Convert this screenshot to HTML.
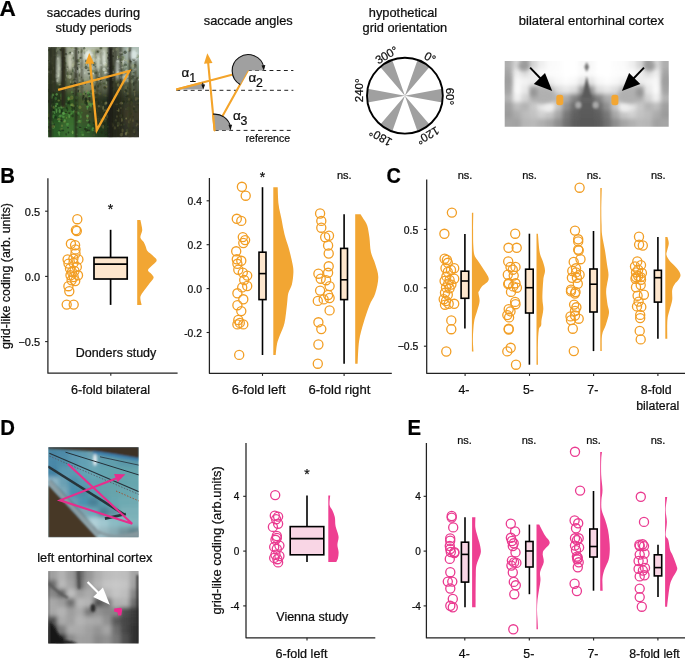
<!DOCTYPE html>
<html><head><meta charset="utf-8"><title>figure</title>
<style>
html,body{margin:0;padding:0;background:#fff;width:685px;height:658px;overflow:hidden;}
svg{display:block;}
svg text{font-family:"Liberation Sans",sans-serif;stroke:#000;stroke-width:0.22px;}
svg{will-change:transform;}
</style></head><body>
<svg width="685" height="658" viewBox="0 0 685 658">
<text transform="translate(-0.6,15.5) scale(1.0,1)" font-size="22.6" font-weight="bold" fill="#000">A</text>
<text transform="translate(0.2,182.9) scale(0.95,1)" font-size="21.4" font-weight="bold" fill="#000">B</text>
<text transform="translate(386.6,182.9) scale(0.93,1)" font-size="21.4" font-weight="bold" fill="#000">C</text>
<text transform="translate(0.2,435.1) scale(0.95,1)" font-size="21.4" font-weight="bold" fill="#000">D</text>
<text transform="translate(407.6,435.1) scale(0.95,1)" font-size="21.4" font-weight="bold" fill="#000">E</text>
<text x="93.45" y="17.10" font-size="12.8" text-anchor="middle" font-weight="normal" fill="#111" >saccades during</text>
<text x="93.55" y="31.50" font-size="12.8" text-anchor="middle" font-weight="normal" fill="#111" >study periods</text>
<text x="248.25" y="25.40" font-size="12.8" text-anchor="middle" font-weight="normal" fill="#111" >saccade angles</text>
<text x="403.00" y="16.60" font-size="12.8" text-anchor="middle" font-weight="normal" fill="#111" >hypothetical</text>
<text x="404.90" y="31.50" font-size="12.8" text-anchor="middle" font-weight="normal" fill="#111" >grid orientation</text>
<text x="591.40" y="24.90" font-size="13.0" text-anchor="middle" font-weight="normal" fill="#111" >bilateral entorhinal cortex</text>
<text x="94.80" y="561.80" font-size="12.8" text-anchor="middle" font-weight="normal" fill="#111" >left entorhinal cortex</text>
<path d="M47.90,178.30 L47.90,373.20 L177.60,373.20" fill="none" stroke="#222" stroke-width="1.25" stroke-linejoin="round"/>
<line x1="45.10" y1="211.20" x2="47.90" y2="211.20" stroke="#222" stroke-width="1.1" />
<text x="40.10" y="215.66" font-size="11" text-anchor="end" font-weight="normal" fill="#111" >0.5</text>
<line x1="45.10" y1="276.40" x2="47.90" y2="276.40" stroke="#222" stroke-width="1.1" />
<text x="40.10" y="280.86" font-size="11" text-anchor="end" font-weight="normal" fill="#111" >0.0</text>
<line x1="45.10" y1="341.60" x2="47.90" y2="341.60" stroke="#222" stroke-width="1.1" />
<text x="40.10" y="346.06" font-size="11" text-anchor="end" font-weight="normal" fill="#111" >−0.5</text>
<line x1="110.80" y1="373.20" x2="110.80" y2="375.80" stroke="#222" stroke-width="1.1" />
<path d="M209.40,178.10 L209.40,373.30 L391.80,373.30" fill="none" stroke="#222" stroke-width="1.25" stroke-linejoin="round"/>
<line x1="206.60" y1="200.80" x2="209.40" y2="200.80" stroke="#222" stroke-width="1.1" />
<text x="201.90" y="205.01" font-size="10.3" text-anchor="end" font-weight="normal" fill="#111" >0.4</text>
<line x1="206.60" y1="244.70" x2="209.40" y2="244.70" stroke="#222" stroke-width="1.1" />
<text x="201.90" y="248.91" font-size="10.3" text-anchor="end" font-weight="normal" fill="#111" >0.2</text>
<line x1="206.60" y1="288.60" x2="209.40" y2="288.60" stroke="#222" stroke-width="1.1" />
<text x="201.90" y="292.81" font-size="10.3" text-anchor="end" font-weight="normal" fill="#111" >0.0</text>
<line x1="206.60" y1="332.50" x2="209.40" y2="332.50" stroke="#222" stroke-width="1.1" />
<text x="201.90" y="336.71" font-size="10.3" text-anchor="end" font-weight="normal" fill="#111" >-0.2</text>
<line x1="262.50" y1="373.30" x2="262.50" y2="375.90" stroke="#222" stroke-width="1.1" />
<line x1="344.10" y1="373.30" x2="344.10" y2="375.90" stroke="#222" stroke-width="1.1" />
<path d="M426.70,179.40 L426.70,373.30 L685.00,373.30" fill="none" stroke="#222" stroke-width="1.25" stroke-linejoin="round"/>
<line x1="423.90" y1="229.40" x2="426.70" y2="229.40" stroke="#222" stroke-width="1.1" />
<text x="418.30" y="233.64" font-size="10.4" text-anchor="end" font-weight="normal" fill="#111" >0.5</text>
<line x1="423.90" y1="287.80" x2="426.70" y2="287.80" stroke="#222" stroke-width="1.1" />
<text x="418.30" y="292.04" font-size="10.4" text-anchor="end" font-weight="normal" fill="#111" >0.0</text>
<line x1="423.90" y1="346.20" x2="426.70" y2="346.20" stroke="#222" stroke-width="1.1" />
<text x="418.30" y="350.44" font-size="10.4" text-anchor="end" font-weight="normal" fill="#111" >−0.5</text>
<line x1="465.10" y1="373.30" x2="465.10" y2="375.90" stroke="#222" stroke-width="1.1" />
<line x1="529.50" y1="373.30" x2="529.50" y2="375.90" stroke="#222" stroke-width="1.1" />
<line x1="593.60" y1="373.30" x2="593.60" y2="375.90" stroke="#222" stroke-width="1.1" />
<line x1="657.90" y1="373.30" x2="657.90" y2="375.90" stroke="#222" stroke-width="1.1" />
<path d="M246.00,442.90 L246.00,637.80 L375.30,637.80" fill="none" stroke="#222" stroke-width="1.25" stroke-linejoin="round"/>
<line x1="243.20" y1="496.30" x2="246.00" y2="496.30" stroke="#222" stroke-width="1.1" />
<text x="239.40" y="500.40" font-size="10" text-anchor="end" font-weight="normal" fill="#111" >4</text>
<line x1="243.20" y1="551.10" x2="246.00" y2="551.10" stroke="#222" stroke-width="1.1" />
<text x="239.40" y="555.20" font-size="10" text-anchor="end" font-weight="normal" fill="#111" >0</text>
<line x1="243.20" y1="605.90" x2="246.00" y2="605.90" stroke="#222" stroke-width="1.1" />
<text x="239.40" y="610.00" font-size="10" text-anchor="end" font-weight="normal" fill="#111" >-4</text>
<line x1="307.00" y1="637.80" x2="307.00" y2="640.40" stroke="#222" stroke-width="1.1" />
<path d="M426.40,443.00 L426.40,637.90 L685.00,637.90" fill="none" stroke="#222" stroke-width="1.25" stroke-linejoin="round"/>
<line x1="423.60" y1="496.30" x2="426.40" y2="496.30" stroke="#222" stroke-width="1.1" />
<text x="420.80" y="500.40" font-size="10" text-anchor="end" font-weight="normal" fill="#111" >4</text>
<line x1="423.60" y1="551.10" x2="426.40" y2="551.10" stroke="#222" stroke-width="1.1" />
<text x="420.80" y="555.20" font-size="10" text-anchor="end" font-weight="normal" fill="#111" >0</text>
<line x1="423.60" y1="605.90" x2="426.40" y2="605.90" stroke="#222" stroke-width="1.1" />
<text x="420.80" y="610.00" font-size="10" text-anchor="end" font-weight="normal" fill="#111" >-4</text>
<line x1="464.80" y1="637.90" x2="464.80" y2="640.50" stroke="#222" stroke-width="1.1" />
<line x1="529.30" y1="637.90" x2="529.30" y2="640.50" stroke="#222" stroke-width="1.1" />
<line x1="593.60" y1="637.90" x2="593.60" y2="640.50" stroke="#222" stroke-width="1.1" />
<line x1="657.90" y1="637.90" x2="657.90" y2="640.50" stroke="#222" stroke-width="1.1" />
<text transform="translate(10.00,276.00) rotate(-90)" font-size="12.4" text-anchor="middle" fill="#111">grid-like coding (arb. units)</text>
<text transform="translate(220.70,540.40) rotate(-90)" font-size="12.9" text-anchor="middle" fill="#111">grid-like coding (arb.units)</text>
<text x="110.50" y="394.30" font-size="12.6" text-anchor="middle" font-weight="normal" fill="#111" >6-fold bilateral</text>
<text x="258.60" y="394.00" font-size="13.1" text-anchor="middle" font-weight="normal" fill="#111" >6-fold left</text>
<text x="339.40" y="394.00" font-size="13.1" text-anchor="middle" font-weight="normal" fill="#111" >6-fold right</text>
<text x="464.00" y="394.20" font-size="12.3" text-anchor="middle" font-weight="normal" fill="#111" >4-</text>
<text x="528.50" y="394.20" font-size="12.3" text-anchor="middle" font-weight="normal" fill="#111" >5-</text>
<text x="592.80" y="394.20" font-size="12.3" text-anchor="middle" font-weight="normal" fill="#111" >7-</text>
<text x="656.20" y="394.20" font-size="12.3" text-anchor="middle" font-weight="normal" fill="#111" >8-fold</text>
<text x="657.80" y="409.70" font-size="12.3" text-anchor="middle" font-weight="normal" fill="#111" >bilateral</text>
<text x="301.50" y="657.80" font-size="12.6" text-anchor="middle" font-weight="normal" fill="#111" >6-fold left</text>
<text x="464.30" y="657.80" font-size="12.3" text-anchor="middle" font-weight="normal" fill="#111" >4-</text>
<text x="528.80" y="657.80" font-size="12.3" text-anchor="middle" font-weight="normal" fill="#111" >5-</text>
<text x="593.00" y="657.80" font-size="12.3" text-anchor="middle" font-weight="normal" fill="#111" >7-</text>
<text x="654.50" y="657.80" font-size="12.3" text-anchor="middle" font-weight="normal" fill="#111" >8-fold left</text>
<text x="116.00" y="356.50" font-size="12.5" text-anchor="middle" font-weight="normal" fill="#111" >Donders study</text>
<text x="312.30" y="621.10" font-size="12.5" text-anchor="middle" font-weight="normal" fill="#111" >Vienna study</text>
<text x="110.50" y="213.50" font-size="14" text-anchor="middle" font-weight="normal" fill="#111" >*</text>
<text x="262.40" y="181.50" font-size="14" text-anchor="middle" font-weight="normal" fill="#111" >*</text>
<text x="307.00" y="479.00" font-size="14" text-anchor="middle" font-weight="normal" fill="#111" >*</text>
<text x="344.30" y="179.00" font-size="11" text-anchor="middle" font-weight="normal" fill="#111" >ns.</text>
<text x="465.00" y="179.00" font-size="11" text-anchor="middle" font-weight="normal" fill="#111" >ns.</text>
<text x="529.60" y="179.00" font-size="11" text-anchor="middle" font-weight="normal" fill="#111" >ns.</text>
<text x="594.00" y="179.00" font-size="11" text-anchor="middle" font-weight="normal" fill="#111" >ns.</text>
<text x="658.30" y="179.00" font-size="11" text-anchor="middle" font-weight="normal" fill="#111" >ns.</text>
<text x="464.50" y="443.50" font-size="11" text-anchor="middle" font-weight="normal" fill="#111" >ns.</text>
<text x="529.00" y="443.50" font-size="11" text-anchor="middle" font-weight="normal" fill="#111" >ns.</text>
<text x="593.50" y="443.50" font-size="11" text-anchor="middle" font-weight="normal" fill="#111" >ns.</text>
<text x="658.00" y="443.50" font-size="11" text-anchor="middle" font-weight="normal" fill="#111" >ns.</text>
<line x1="110.60" y1="229.80" x2="110.60" y2="304.90" stroke="#000" stroke-width="1.7" />
<rect x="94.00" y="257.50" width="33.20" height="21.50" fill="#FDE6CD" stroke="#000" stroke-width="1.7"/>
<line x1="94.00" y1="264.10" x2="127.20" y2="264.10" stroke="#000" stroke-width="1.7" />
<path d="M137.20,219.90 L140.40,219.90 C140.58,220.78 141.20,223.43 141.50,225.20 C141.80,226.97 142.38,228.47 142.20,230.50 C142.02,232.53 140.15,235.48 140.40,237.40 C140.65,239.32 142.82,240.48 143.70,242.00 C144.58,243.52 145.07,244.98 145.70,246.50 C146.33,248.02 146.30,249.57 147.50,251.10 C148.70,252.63 151.37,254.18 152.90,255.70 C154.43,257.22 156.70,258.68 156.70,260.20 C156.70,261.72 154.35,263.15 152.90,264.80 C151.45,266.45 148.25,268.58 148.00,270.10 C147.75,271.62 150.47,272.63 151.40,273.90 C152.33,275.17 153.87,276.18 153.60,277.70 C153.33,279.22 151.18,281.10 149.80,283.00 C148.42,284.90 146.77,287.07 145.30,289.10 C143.83,291.13 141.82,293.55 141.00,295.20 C140.18,296.85 140.32,297.47 140.40,299.00 C140.48,300.53 141.32,303.38 141.50,304.40 C141.68,305.42 141.50,304.98 141.50,305.10 L137.20,305.10 Z" fill="#F2A633"/>
<circle cx="77.30" cy="219.20" r="4.55" fill="none" stroke="#F29E24" stroke-width="1.3"/>
<circle cx="75.90" cy="230.10" r="4.55" fill="none" stroke="#F29E24" stroke-width="1.3"/>
<circle cx="76.80" cy="231.00" r="4.55" fill="none" stroke="#F29E24" stroke-width="1.3"/>
<circle cx="70.90" cy="243.80" r="4.55" fill="none" stroke="#F29E24" stroke-width="1.3"/>
<circle cx="75.10" cy="245.20" r="4.55" fill="none" stroke="#F29E24" stroke-width="1.3"/>
<circle cx="75.50" cy="249.40" r="4.55" fill="none" stroke="#F29E24" stroke-width="1.3"/>
<circle cx="67.60" cy="259.40" r="4.55" fill="none" stroke="#F29E24" stroke-width="1.3"/>
<circle cx="73.40" cy="258.60" r="4.55" fill="none" stroke="#F29E24" stroke-width="1.3"/>
<circle cx="78.40" cy="259.40" r="4.55" fill="none" stroke="#F29E24" stroke-width="1.3"/>
<circle cx="75.50" cy="253.50" r="4.55" fill="none" stroke="#F29E24" stroke-width="1.3"/>
<circle cx="68.50" cy="263.60" r="4.55" fill="none" stroke="#F29E24" stroke-width="1.3"/>
<circle cx="73.50" cy="263.00" r="4.55" fill="none" stroke="#F29E24" stroke-width="1.3"/>
<circle cx="76.80" cy="266.90" r="4.55" fill="none" stroke="#F29E24" stroke-width="1.3"/>
<circle cx="70.50" cy="275.30" r="4.55" fill="none" stroke="#F29E24" stroke-width="1.3"/>
<circle cx="73.70" cy="277.00" r="4.55" fill="none" stroke="#F29E24" stroke-width="1.3"/>
<circle cx="78.00" cy="275.30" r="4.55" fill="none" stroke="#F29E24" stroke-width="1.3"/>
<circle cx="71.60" cy="280.30" r="4.55" fill="none" stroke="#F29E24" stroke-width="1.3"/>
<circle cx="75.20" cy="281.00" r="4.55" fill="none" stroke="#F29E24" stroke-width="1.3"/>
<circle cx="72.00" cy="272.00" r="4.55" fill="none" stroke="#F29E24" stroke-width="1.3"/>
<circle cx="68.40" cy="286.20" r="4.55" fill="none" stroke="#F29E24" stroke-width="1.3"/>
<circle cx="69.30" cy="291.20" r="4.55" fill="none" stroke="#F29E24" stroke-width="1.3"/>
<circle cx="66.70" cy="304.60" r="4.55" fill="none" stroke="#F29E24" stroke-width="1.3"/>
<circle cx="73.70" cy="304.60" r="4.55" fill="none" stroke="#F29E24" stroke-width="1.3"/>
<circle cx="70.00" cy="268.50" r="4.55" fill="none" stroke="#F29E24" stroke-width="1.3"/>
<circle cx="74.50" cy="271.00" r="4.55" fill="none" stroke="#F29E24" stroke-width="1.3"/>
<line x1="262.50" y1="187.20" x2="262.50" y2="355.00" stroke="#000" stroke-width="1.6" />
<rect x="259.00" y="252.20" width="7.00" height="47.40" fill="#FDE6CD" stroke="#000" stroke-width="1.6"/>
<line x1="259.00" y1="273.60" x2="266.00" y2="273.60" stroke="#000" stroke-width="1.6" />
<path d="M273.30,187.20 L277.70,187.20 C277.85,190.10 277.95,199.23 278.60,204.60 C279.25,209.97 280.62,214.47 281.60,219.40 C282.58,224.33 283.27,229.27 284.50,234.20 C285.73,239.13 287.67,244.07 289.00,249.00 C290.33,253.93 291.77,259.87 292.50,263.80 C293.23,267.73 293.50,269.15 293.40,272.60 C293.30,276.05 292.75,281.05 291.90,284.50 C291.05,287.95 289.13,289.85 288.30,293.30 C287.47,296.75 287.53,300.27 286.90,305.20 C286.27,310.13 285.63,317.97 284.50,322.90 C283.37,327.83 281.33,331.35 280.10,334.80 C278.87,338.25 277.83,340.23 277.10,343.60 C276.37,346.97 275.93,353.10 275.70,355.00 L273.30,355.00 Z" fill="#F2A633"/>
<circle cx="241.90" cy="186.80" r="4.55" fill="none" stroke="#F29E24" stroke-width="1.3"/>
<circle cx="245.70" cy="195.70" r="4.55" fill="none" stroke="#F29E24" stroke-width="1.3"/>
<circle cx="236.80" cy="218.80" r="4.55" fill="none" stroke="#F29E24" stroke-width="1.3"/>
<circle cx="241.30" cy="220.90" r="4.55" fill="none" stroke="#F29E24" stroke-width="1.3"/>
<circle cx="242.80" cy="237.10" r="4.55" fill="none" stroke="#F29E24" stroke-width="1.3"/>
<circle cx="245.10" cy="240.10" r="4.55" fill="none" stroke="#F29E24" stroke-width="1.3"/>
<circle cx="243.30" cy="243.00" r="4.55" fill="none" stroke="#F29E24" stroke-width="1.3"/>
<circle cx="236.20" cy="251.30" r="4.55" fill="none" stroke="#F29E24" stroke-width="1.3"/>
<circle cx="236.80" cy="259.30" r="4.55" fill="none" stroke="#F29E24" stroke-width="1.3"/>
<circle cx="241.30" cy="260.80" r="4.55" fill="none" stroke="#F29E24" stroke-width="1.3"/>
<circle cx="237.40" cy="263.80" r="4.55" fill="none" stroke="#F29E24" stroke-width="1.3"/>
<circle cx="238.30" cy="269.70" r="4.55" fill="none" stroke="#F29E24" stroke-width="1.3"/>
<circle cx="242.80" cy="272.60" r="4.55" fill="none" stroke="#F29E24" stroke-width="1.3"/>
<circle cx="247.20" cy="275.60" r="4.55" fill="none" stroke="#F29E24" stroke-width="1.3"/>
<circle cx="244.20" cy="280.00" r="4.55" fill="none" stroke="#F29E24" stroke-width="1.3"/>
<circle cx="247.20" cy="286.00" r="4.55" fill="none" stroke="#F29E24" stroke-width="1.3"/>
<circle cx="242.20" cy="287.40" r="4.55" fill="none" stroke="#F29E24" stroke-width="1.3"/>
<circle cx="237.40" cy="293.30" r="4.55" fill="none" stroke="#F29E24" stroke-width="1.3"/>
<circle cx="243.30" cy="299.30" r="4.55" fill="none" stroke="#F29E24" stroke-width="1.3"/>
<circle cx="237.40" cy="305.20" r="4.55" fill="none" stroke="#F29E24" stroke-width="1.3"/>
<circle cx="241.30" cy="311.10" r="4.55" fill="none" stroke="#F29E24" stroke-width="1.3"/>
<circle cx="238.30" cy="320.00" r="4.55" fill="none" stroke="#F29E24" stroke-width="1.3"/>
<circle cx="239.80" cy="322.90" r="4.55" fill="none" stroke="#F29E24" stroke-width="1.3"/>
<circle cx="243.30" cy="324.40" r="4.55" fill="none" stroke="#F29E24" stroke-width="1.3"/>
<circle cx="237.40" cy="324.40" r="4.55" fill="none" stroke="#F29E24" stroke-width="1.3"/>
<circle cx="239.20" cy="354.90" r="4.55" fill="none" stroke="#F29E24" stroke-width="1.3"/>
<line x1="344.10" y1="214.30" x2="344.10" y2="363.80" stroke="#000" stroke-width="1.6" />
<rect x="340.70" y="248.40" width="6.80" height="51.20" fill="#FDE6CD" stroke="#000" stroke-width="1.6"/>
<line x1="340.70" y1="279.80" x2="347.50" y2="279.80" stroke="#000" stroke-width="1.6" />
<path d="M355.20,214.30 L360.50,214.30 C361.00,215.08 362.38,217.15 363.50,219.00 C364.62,220.85 366.22,222.37 367.20,225.40 C368.18,228.43 368.78,232.77 369.40,237.20 C370.02,241.63 369.93,247.55 370.90,252.00 C371.87,256.45 373.97,259.70 375.20,263.90 C376.43,268.10 378.30,272.27 378.30,277.20 C378.30,282.13 376.68,288.80 375.20,293.50 C373.72,298.20 371.35,300.48 369.40,305.40 C367.45,310.32 365.22,317.07 363.50,323.00 C361.78,328.93 360.08,334.20 359.10,341.00 C358.12,347.80 357.85,360.00 357.60,363.80 L355.20,363.80 Z" fill="#F2A633"/>
<circle cx="320.10" cy="213.50" r="4.55" fill="none" stroke="#F29E24" stroke-width="1.3"/>
<circle cx="321.30" cy="220.90" r="4.55" fill="none" stroke="#F29E24" stroke-width="1.3"/>
<circle cx="321.30" cy="227.70" r="4.55" fill="none" stroke="#F29E24" stroke-width="1.3"/>
<circle cx="325.20" cy="237.20" r="4.55" fill="none" stroke="#F29E24" stroke-width="1.3"/>
<circle cx="329.00" cy="235.70" r="4.55" fill="none" stroke="#F29E24" stroke-width="1.3"/>
<circle cx="328.10" cy="245.50" r="4.55" fill="none" stroke="#F29E24" stroke-width="1.3"/>
<circle cx="328.70" cy="253.50" r="4.55" fill="none" stroke="#F29E24" stroke-width="1.3"/>
<circle cx="328.70" cy="266.30" r="4.55" fill="none" stroke="#F29E24" stroke-width="1.3"/>
<circle cx="328.10" cy="272.80" r="4.55" fill="none" stroke="#F29E24" stroke-width="1.3"/>
<circle cx="318.40" cy="273.70" r="4.55" fill="none" stroke="#F29E24" stroke-width="1.3"/>
<circle cx="320.70" cy="278.70" r="4.55" fill="none" stroke="#F29E24" stroke-width="1.3"/>
<circle cx="326.10" cy="280.20" r="4.55" fill="none" stroke="#F29E24" stroke-width="1.3"/>
<circle cx="329.60" cy="286.10" r="4.55" fill="none" stroke="#F29E24" stroke-width="1.3"/>
<circle cx="320.10" cy="290.60" r="4.55" fill="none" stroke="#F29E24" stroke-width="1.3"/>
<circle cx="328.10" cy="295.00" r="4.55" fill="none" stroke="#F29E24" stroke-width="1.3"/>
<circle cx="317.80" cy="300.90" r="4.55" fill="none" stroke="#F29E24" stroke-width="1.3"/>
<circle cx="323.70" cy="299.40" r="4.55" fill="none" stroke="#F29E24" stroke-width="1.3"/>
<circle cx="329.60" cy="298.00" r="4.55" fill="none" stroke="#F29E24" stroke-width="1.3"/>
<circle cx="329.60" cy="310.40" r="4.55" fill="none" stroke="#F29E24" stroke-width="1.3"/>
<circle cx="318.40" cy="322.30" r="4.55" fill="none" stroke="#F29E24" stroke-width="1.3"/>
<circle cx="321.30" cy="329.10" r="4.55" fill="none" stroke="#F29E24" stroke-width="1.3"/>
<circle cx="318.40" cy="344.50" r="4.55" fill="none" stroke="#F29E24" stroke-width="1.3"/>
<circle cx="317.80" cy="363.70" r="4.55" fill="none" stroke="#F29E24" stroke-width="1.3"/>
<line x1="464.90" y1="233.90" x2="464.90" y2="328.60" stroke="#000" stroke-width="1.6" />
<rect x="461.10" y="271.20" width="7.60" height="27.10" fill="#FDE6CD" stroke="#000" stroke-width="1.6"/>
<line x1="461.10" y1="281.00" x2="468.70" y2="281.00" stroke="#000" stroke-width="1.6" />
<path d="M471.90,212.80 L473.30,212.80 C473.27,215.67 473.10,224.63 473.10,230.00 C473.10,235.37 473.08,240.83 473.30,245.00 C473.52,249.17 473.72,252.50 474.40,255.00 C475.08,257.50 475.98,257.80 477.40,260.00 C478.82,262.20 481.00,265.00 482.90,268.20 C484.80,271.40 488.97,276.15 488.80,279.20 C488.63,282.25 483.50,284.53 481.90,286.50 C480.30,288.47 479.78,289.95 479.20,291.00 C478.62,292.05 478.33,291.13 478.40,292.80 C478.47,294.47 479.77,298.13 479.60,301.00 C479.43,303.87 478.27,306.83 477.40,310.00 C476.53,313.17 475.08,316.67 474.40,320.00 C473.72,323.33 473.55,326.67 473.30,330.00 C473.05,333.33 472.87,336.42 472.90,340.00 C472.93,343.58 473.40,349.58 473.50,351.50 L471.90,351.50 Z" fill="#F2A633"/>
<circle cx="451.90" cy="212.60" r="4.55" fill="none" stroke="#F29E24" stroke-width="1.3"/>
<circle cx="444.40" cy="233.80" r="4.55" fill="none" stroke="#F29E24" stroke-width="1.3"/>
<circle cx="444.60" cy="258.70" r="4.55" fill="none" stroke="#F29E24" stroke-width="1.3"/>
<circle cx="446.90" cy="260.00" r="4.55" fill="none" stroke="#F29E24" stroke-width="1.3"/>
<circle cx="447.80" cy="262.80" r="4.55" fill="none" stroke="#F29E24" stroke-width="1.3"/>
<circle cx="454.20" cy="268.20" r="4.55" fill="none" stroke="#F29E24" stroke-width="1.3"/>
<circle cx="445.50" cy="268.20" r="4.55" fill="none" stroke="#F29E24" stroke-width="1.3"/>
<circle cx="451.00" cy="270.00" r="4.55" fill="none" stroke="#F29E24" stroke-width="1.3"/>
<circle cx="447.80" cy="271.90" r="4.55" fill="none" stroke="#F29E24" stroke-width="1.3"/>
<circle cx="454.20" cy="278.70" r="4.55" fill="none" stroke="#F29E24" stroke-width="1.3"/>
<circle cx="446.40" cy="276.40" r="4.55" fill="none" stroke="#F29E24" stroke-width="1.3"/>
<circle cx="449.60" cy="280.00" r="4.55" fill="none" stroke="#F29E24" stroke-width="1.3"/>
<circle cx="444.60" cy="281.00" r="4.55" fill="none" stroke="#F29E24" stroke-width="1.3"/>
<circle cx="448.20" cy="283.70" r="4.55" fill="none" stroke="#F29E24" stroke-width="1.3"/>
<circle cx="451.40" cy="284.60" r="4.55" fill="none" stroke="#F29E24" stroke-width="1.3"/>
<circle cx="446.00" cy="287.40" r="4.55" fill="none" stroke="#F29E24" stroke-width="1.3"/>
<circle cx="449.60" cy="288.30" r="4.55" fill="none" stroke="#F29E24" stroke-width="1.3"/>
<circle cx="445.00" cy="292.80" r="4.55" fill="none" stroke="#F29E24" stroke-width="1.3"/>
<circle cx="447.80" cy="294.70" r="4.55" fill="none" stroke="#F29E24" stroke-width="1.3"/>
<circle cx="443.70" cy="299.20" r="4.55" fill="none" stroke="#F29E24" stroke-width="1.3"/>
<circle cx="446.00" cy="301.00" r="4.55" fill="none" stroke="#F29E24" stroke-width="1.3"/>
<circle cx="454.20" cy="303.80" r="4.55" fill="none" stroke="#F29E24" stroke-width="1.3"/>
<circle cx="448.70" cy="303.80" r="4.55" fill="none" stroke="#F29E24" stroke-width="1.3"/>
<circle cx="445.00" cy="304.70" r="4.55" fill="none" stroke="#F29E24" stroke-width="1.3"/>
<circle cx="451.30" cy="320.40" r="4.55" fill="none" stroke="#F29E24" stroke-width="1.3"/>
<circle cx="451.30" cy="329.20" r="4.55" fill="none" stroke="#F29E24" stroke-width="1.3"/>
<circle cx="446.30" cy="351.50" r="4.55" fill="none" stroke="#F29E24" stroke-width="1.3"/>
<line x1="529.40" y1="233.70" x2="529.40" y2="364.70" stroke="#000" stroke-width="1.6" />
<rect x="525.60" y="269.20" width="7.60" height="43.80" fill="#FDE6CD" stroke="#000" stroke-width="1.6"/>
<line x1="525.60" y1="287.70" x2="533.20" y2="287.70" stroke="#000" stroke-width="1.6" />
<path d="M536.50,233.70 L537.90,233.70 C538.20,236.80 538.87,247.67 539.70,252.30 C540.53,256.93 542.02,258.45 542.90,261.50 C543.78,264.55 544.93,267.52 545.00,270.60 C545.07,273.68 543.73,275.40 543.30,280.00 C542.87,284.60 542.40,293.33 542.40,298.20 C542.40,303.07 543.45,305.57 543.30,309.20 C543.15,312.83 541.87,317.27 541.50,320.00 C541.13,322.73 541.55,323.93 541.10,325.60 C540.65,327.27 539.33,326.77 538.80,330.00 C538.27,333.23 538.03,339.22 537.90,345.00 C537.77,350.78 537.98,361.42 538.00,364.70 L536.50,364.70 Z" fill="#F2A633"/>
<circle cx="515.20" cy="233.70" r="4.55" fill="none" stroke="#F29E24" stroke-width="1.3"/>
<circle cx="508.50" cy="247.80" r="4.55" fill="none" stroke="#F29E24" stroke-width="1.3"/>
<circle cx="516.70" cy="247.80" r="4.55" fill="none" stroke="#F29E24" stroke-width="1.3"/>
<circle cx="508.20" cy="261.50" r="4.55" fill="none" stroke="#F29E24" stroke-width="1.3"/>
<circle cx="510.50" cy="266.90" r="4.55" fill="none" stroke="#F29E24" stroke-width="1.3"/>
<circle cx="515.50" cy="266.90" r="4.55" fill="none" stroke="#F29E24" stroke-width="1.3"/>
<circle cx="512.80" cy="269.70" r="4.55" fill="none" stroke="#F29E24" stroke-width="1.3"/>
<circle cx="507.80" cy="274.70" r="4.55" fill="none" stroke="#F29E24" stroke-width="1.3"/>
<circle cx="513.70" cy="275.60" r="4.55" fill="none" stroke="#F29E24" stroke-width="1.3"/>
<circle cx="508.70" cy="283.30" r="4.55" fill="none" stroke="#F29E24" stroke-width="1.3"/>
<circle cx="515.50" cy="283.30" r="4.55" fill="none" stroke="#F29E24" stroke-width="1.3"/>
<circle cx="508.20" cy="284.10" r="4.55" fill="none" stroke="#F29E24" stroke-width="1.3"/>
<circle cx="513.20" cy="286.40" r="4.55" fill="none" stroke="#F29E24" stroke-width="1.3"/>
<circle cx="516.90" cy="287.70" r="4.55" fill="none" stroke="#F29E24" stroke-width="1.3"/>
<circle cx="511.00" cy="291.90" r="4.55" fill="none" stroke="#F29E24" stroke-width="1.3"/>
<circle cx="515.10" cy="301.90" r="4.55" fill="none" stroke="#F29E24" stroke-width="1.3"/>
<circle cx="515.50" cy="304.20" r="4.55" fill="none" stroke="#F29E24" stroke-width="1.3"/>
<circle cx="508.70" cy="309.20" r="4.55" fill="none" stroke="#F29E24" stroke-width="1.3"/>
<circle cx="510.50" cy="311.40" r="4.55" fill="none" stroke="#F29E24" stroke-width="1.3"/>
<circle cx="507.30" cy="315.10" r="4.55" fill="none" stroke="#F29E24" stroke-width="1.3"/>
<circle cx="509.10" cy="317.40" r="4.55" fill="none" stroke="#F29E24" stroke-width="1.3"/>
<circle cx="508.70" cy="328.80" r="4.55" fill="none" stroke="#F29E24" stroke-width="1.3"/>
<circle cx="508.70" cy="329.50" r="4.55" fill="none" stroke="#F29E24" stroke-width="1.3"/>
<circle cx="510.70" cy="347.80" r="4.55" fill="none" stroke="#F29E24" stroke-width="1.3"/>
<circle cx="507.30" cy="351.40" r="4.55" fill="none" stroke="#F29E24" stroke-width="1.3"/>
<circle cx="516.00" cy="364.70" r="4.55" fill="none" stroke="#F29E24" stroke-width="1.3"/>
<line x1="593.50" y1="231.00" x2="593.50" y2="351.10" stroke="#000" stroke-width="1.6" />
<rect x="589.90" y="269.00" width="7.20" height="43.00" fill="#FDE6CD" stroke="#000" stroke-width="1.6"/>
<line x1="589.90" y1="284.20" x2="597.10" y2="284.20" stroke="#000" stroke-width="1.6" />
<path d="M600.30,188.00 L601.80,188.00 C601.72,191.67 601.33,203.83 601.30,210.00 C601.27,216.17 601.47,220.83 601.60,225.00 C601.73,229.17 601.55,230.83 602.10,235.00 C602.65,239.17 604.07,245.00 604.90,250.00 C605.73,255.00 606.50,260.83 607.10,265.00 C607.70,269.17 608.53,271.67 608.50,275.00 C608.47,278.33 607.28,282.50 606.90,285.00 C606.52,287.50 606.30,288.33 606.20,290.00 C606.10,291.67 606.07,292.50 606.30,295.00 C606.53,297.50 607.15,302.00 607.60,305.00 C608.05,308.00 609.30,309.67 609.00,313.00 C608.70,316.33 606.95,321.33 605.80,325.00 C604.65,328.67 602.77,330.65 602.10,335.00 C601.43,339.35 601.85,348.42 601.80,351.10 L600.30,351.10 Z" fill="#F2A633"/>
<circle cx="579.60" cy="187.70" r="4.55" fill="none" stroke="#F29E24" stroke-width="1.3"/>
<circle cx="575.00" cy="230.60" r="4.55" fill="none" stroke="#F29E24" stroke-width="1.3"/>
<circle cx="578.20" cy="239.30" r="4.55" fill="none" stroke="#F29E24" stroke-width="1.3"/>
<circle cx="578.20" cy="241.40" r="4.55" fill="none" stroke="#F29E24" stroke-width="1.3"/>
<circle cx="578.20" cy="249.60" r="4.55" fill="none" stroke="#F29E24" stroke-width="1.3"/>
<circle cx="578.70" cy="250.50" r="4.55" fill="none" stroke="#F29E24" stroke-width="1.3"/>
<circle cx="580.50" cy="259.20" r="4.55" fill="none" stroke="#F29E24" stroke-width="1.3"/>
<circle cx="573.70" cy="261.90" r="4.55" fill="none" stroke="#F29E24" stroke-width="1.3"/>
<circle cx="576.00" cy="268.30" r="4.55" fill="none" stroke="#F29E24" stroke-width="1.3"/>
<circle cx="572.30" cy="271.00" r="4.55" fill="none" stroke="#F29E24" stroke-width="1.3"/>
<circle cx="579.60" cy="274.70" r="4.55" fill="none" stroke="#F29E24" stroke-width="1.3"/>
<circle cx="576.00" cy="272.40" r="4.55" fill="none" stroke="#F29E24" stroke-width="1.3"/>
<circle cx="571.90" cy="277.80" r="4.55" fill="none" stroke="#F29E24" stroke-width="1.3"/>
<circle cx="576.90" cy="277.80" r="4.55" fill="none" stroke="#F29E24" stroke-width="1.3"/>
<circle cx="577.80" cy="283.80" r="4.55" fill="none" stroke="#F29E24" stroke-width="1.3"/>
<circle cx="571.00" cy="289.70" r="4.55" fill="none" stroke="#F29E24" stroke-width="1.3"/>
<circle cx="575.50" cy="292.00" r="4.55" fill="none" stroke="#F29E24" stroke-width="1.3"/>
<circle cx="571.00" cy="291.40" r="4.55" fill="none" stroke="#F29E24" stroke-width="1.3"/>
<circle cx="575.00" cy="293.60" r="4.55" fill="none" stroke="#F29E24" stroke-width="1.3"/>
<circle cx="574.10" cy="304.60" r="4.55" fill="none" stroke="#F29E24" stroke-width="1.3"/>
<circle cx="576.40" cy="307.30" r="4.55" fill="none" stroke="#F29E24" stroke-width="1.3"/>
<circle cx="575.00" cy="311.00" r="4.55" fill="none" stroke="#F29E24" stroke-width="1.3"/>
<circle cx="570.50" cy="316.40" r="4.55" fill="none" stroke="#F29E24" stroke-width="1.3"/>
<circle cx="575.00" cy="315.50" r="4.55" fill="none" stroke="#F29E24" stroke-width="1.3"/>
<circle cx="578.70" cy="318.70" r="4.55" fill="none" stroke="#F29E24" stroke-width="1.3"/>
<circle cx="571.00" cy="320.10" r="4.55" fill="none" stroke="#F29E24" stroke-width="1.3"/>
<circle cx="572.80" cy="328.70" r="4.55" fill="none" stroke="#F29E24" stroke-width="1.3"/>
<circle cx="573.80" cy="351.10" r="4.55" fill="none" stroke="#F29E24" stroke-width="1.3"/>
<line x1="657.90" y1="236.90" x2="657.90" y2="338.80" stroke="#000" stroke-width="1.6" />
<rect x="654.40" y="270.30" width="7.00" height="31.80" fill="#FDE6CD" stroke="#000" stroke-width="1.6"/>
<line x1="654.40" y1="277.70" x2="661.40" y2="277.70" stroke="#000" stroke-width="1.6" />
<path d="M665.30,236.90 L667.40,236.90 C667.63,237.95 668.82,241.02 668.80,243.20 C668.78,245.38 667.68,248.02 667.30,250.00 C666.92,251.98 666.08,253.27 666.50,255.10 C666.92,256.93 668.42,259.18 669.80,261.00 C671.18,262.82 673.28,264.33 674.80,266.00 C676.32,267.67 677.95,269.42 678.90,271.00 C679.85,272.58 680.60,274.00 680.50,275.50 C680.40,277.00 679.25,278.58 678.30,280.00 C677.35,281.42 675.82,282.33 674.80,284.00 C673.78,285.67 672.63,287.33 672.20,290.00 C671.77,292.67 672.63,296.67 672.20,300.00 C671.77,303.33 670.40,306.67 669.60,310.00 C668.80,313.33 667.78,315.20 667.40,320.00 C667.02,324.80 667.32,335.67 667.30,338.80 L665.30,338.80 Z" fill="#F2A633"/>
<circle cx="639.00" cy="236.70" r="4.55" fill="none" stroke="#F29E24" stroke-width="1.3"/>
<circle cx="639.10" cy="244.60" r="4.55" fill="none" stroke="#F29E24" stroke-width="1.3"/>
<circle cx="642.80" cy="245.50" r="4.55" fill="none" stroke="#F29E24" stroke-width="1.3"/>
<circle cx="637.30" cy="261.50" r="4.55" fill="none" stroke="#F29E24" stroke-width="1.3"/>
<circle cx="635.00" cy="266.50" r="4.55" fill="none" stroke="#F29E24" stroke-width="1.3"/>
<circle cx="641.00" cy="265.10" r="4.55" fill="none" stroke="#F29E24" stroke-width="1.3"/>
<circle cx="638.20" cy="269.70" r="4.55" fill="none" stroke="#F29E24" stroke-width="1.3"/>
<circle cx="636.00" cy="272.40" r="4.55" fill="none" stroke="#F29E24" stroke-width="1.3"/>
<circle cx="641.90" cy="272.90" r="4.55" fill="none" stroke="#F29E24" stroke-width="1.3"/>
<circle cx="638.20" cy="276.00" r="4.55" fill="none" stroke="#F29E24" stroke-width="1.3"/>
<circle cx="635.50" cy="278.80" r="4.55" fill="none" stroke="#F29E24" stroke-width="1.3"/>
<circle cx="641.00" cy="279.70" r="4.55" fill="none" stroke="#F29E24" stroke-width="1.3"/>
<circle cx="636.00" cy="277.10" r="4.55" fill="none" stroke="#F29E24" stroke-width="1.3"/>
<circle cx="640.70" cy="277.10" r="4.55" fill="none" stroke="#F29E24" stroke-width="1.3"/>
<circle cx="636.00" cy="287.20" r="4.55" fill="none" stroke="#F29E24" stroke-width="1.3"/>
<circle cx="640.70" cy="285.10" r="4.55" fill="none" stroke="#F29E24" stroke-width="1.3"/>
<circle cx="643.90" cy="294.70" r="4.55" fill="none" stroke="#F29E24" stroke-width="1.3"/>
<circle cx="637.60" cy="295.70" r="4.55" fill="none" stroke="#F29E24" stroke-width="1.3"/>
<circle cx="638.60" cy="301.60" r="4.55" fill="none" stroke="#F29E24" stroke-width="1.3"/>
<circle cx="637.00" cy="306.40" r="4.55" fill="none" stroke="#F29E24" stroke-width="1.3"/>
<circle cx="641.30" cy="306.90" r="4.55" fill="none" stroke="#F29E24" stroke-width="1.3"/>
<circle cx="640.20" cy="314.90" r="4.55" fill="none" stroke="#F29E24" stroke-width="1.3"/>
<circle cx="640.20" cy="318.10" r="4.55" fill="none" stroke="#F29E24" stroke-width="1.3"/>
<circle cx="639.70" cy="330.90" r="4.55" fill="none" stroke="#F29E24" stroke-width="1.3"/>
<circle cx="640.70" cy="339.40" r="4.55" fill="none" stroke="#F29E24" stroke-width="1.3"/>
<line x1="307.00" y1="495.60" x2="307.00" y2="561.90" stroke="#000" stroke-width="1.6" />
<rect x="290.20" y="526.60" width="33.60" height="28.20" fill="#F9D6E5" stroke="#000" stroke-width="1.6"/>
<line x1="290.20" y1="538.60" x2="323.80" y2="538.60" stroke="#000" stroke-width="1.6" />
<path d="M328.30,495.60 L330.20,495.60 C330.10,497.17 329.27,502.60 329.60,505.00 C329.93,507.40 331.33,508.00 332.20,510.00 C333.07,512.00 334.27,514.50 334.80,517.00 C335.33,519.50 335.08,522.83 335.40,525.00 C335.72,527.17 336.17,528.00 336.70,530.00 C337.23,532.00 338.48,534.50 338.60,537.00 C338.72,539.50 337.40,542.50 337.40,545.00 C337.40,547.50 338.50,549.83 338.60,552.00 C338.70,554.17 338.38,556.35 338.00,558.00 C337.62,559.65 336.58,561.25 336.30,561.90 L328.30,561.90 Z" fill="#EE3F92"/>
<circle cx="275.20" cy="495.10" r="4.55" fill="none" stroke="#EA3A90" stroke-width="1.3"/>
<circle cx="274.80" cy="515.70" r="4.55" fill="none" stroke="#EA3A90" stroke-width="1.3"/>
<circle cx="278.10" cy="516.60" r="4.55" fill="none" stroke="#EA3A90" stroke-width="1.3"/>
<circle cx="276.10" cy="519.20" r="4.55" fill="none" stroke="#EA3A90" stroke-width="1.3"/>
<circle cx="278.10" cy="523.70" r="4.55" fill="none" stroke="#EA3A90" stroke-width="1.3"/>
<circle cx="272.90" cy="526.90" r="4.55" fill="none" stroke="#EA3A90" stroke-width="1.3"/>
<circle cx="276.80" cy="536.00" r="4.55" fill="none" stroke="#EA3A90" stroke-width="1.3"/>
<circle cx="276.80" cy="537.90" r="4.55" fill="none" stroke="#EA3A90" stroke-width="1.3"/>
<circle cx="275.50" cy="539.80" r="4.55" fill="none" stroke="#EA3A90" stroke-width="1.3"/>
<circle cx="279.40" cy="545.60" r="4.55" fill="none" stroke="#EA3A90" stroke-width="1.3"/>
<circle cx="274.20" cy="546.90" r="4.55" fill="none" stroke="#EA3A90" stroke-width="1.3"/>
<circle cx="276.80" cy="548.90" r="4.55" fill="none" stroke="#EA3A90" stroke-width="1.3"/>
<circle cx="275.50" cy="554.70" r="4.55" fill="none" stroke="#EA3A90" stroke-width="1.3"/>
<circle cx="279.40" cy="556.00" r="4.55" fill="none" stroke="#EA3A90" stroke-width="1.3"/>
<circle cx="274.20" cy="557.90" r="4.55" fill="none" stroke="#EA3A90" stroke-width="1.3"/>
<circle cx="277.40" cy="559.20" r="4.55" fill="none" stroke="#EA3A90" stroke-width="1.3"/>
<circle cx="278.10" cy="562.40" r="4.55" fill="none" stroke="#EA3A90" stroke-width="1.3"/>
<line x1="465.00" y1="517.20" x2="465.00" y2="607.30" stroke="#000" stroke-width="1.6" />
<rect x="461.40" y="542.20" width="7.20" height="39.90" fill="#F9D6E5" stroke="#000" stroke-width="1.6"/>
<line x1="461.40" y1="554.40" x2="468.60" y2="554.40" stroke="#000" stroke-width="1.6" />
<path d="M472.10,517.20 L475.40,517.20 C475.40,518.97 475.08,524.77 475.40,527.80 C475.72,530.83 476.62,532.87 477.30,535.40 C477.98,537.93 478.93,540.73 479.50,543.00 C480.07,545.27 480.53,547.17 480.70,549.00 C480.87,550.83 481.20,551.33 480.50,554.00 C479.80,556.67 477.28,561.50 476.50,565.00 C475.72,568.50 475.95,569.17 475.80,575.00 C475.65,580.83 475.63,594.62 475.60,600.00 C475.57,605.38 475.60,606.08 475.60,607.30 L472.10,607.30 Z" fill="#EE3F92"/>
<circle cx="451.70" cy="516.00" r="4.55" fill="none" stroke="#EA3A90" stroke-width="1.3"/>
<circle cx="451.70" cy="517.60" r="4.55" fill="none" stroke="#EA3A90" stroke-width="1.3"/>
<circle cx="453.20" cy="527.40" r="4.55" fill="none" stroke="#EA3A90" stroke-width="1.3"/>
<circle cx="450.20" cy="538.40" r="4.55" fill="none" stroke="#EA3A90" stroke-width="1.3"/>
<circle cx="450.20" cy="540.70" r="4.55" fill="none" stroke="#EA3A90" stroke-width="1.3"/>
<circle cx="449.80" cy="546.00" r="4.55" fill="none" stroke="#EA3A90" stroke-width="1.3"/>
<circle cx="450.20" cy="549.10" r="4.55" fill="none" stroke="#EA3A90" stroke-width="1.3"/>
<circle cx="454.40" cy="552.10" r="4.55" fill="none" stroke="#EA3A90" stroke-width="1.3"/>
<circle cx="450.80" cy="552.00" r="4.55" fill="none" stroke="#EA3A90" stroke-width="1.3"/>
<circle cx="454.30" cy="553.00" r="4.55" fill="none" stroke="#EA3A90" stroke-width="1.3"/>
<circle cx="449.80" cy="558.90" r="4.55" fill="none" stroke="#EA3A90" stroke-width="1.3"/>
<circle cx="450.30" cy="572.20" r="4.55" fill="none" stroke="#EA3A90" stroke-width="1.3"/>
<circle cx="447.80" cy="581.60" r="4.55" fill="none" stroke="#EA3A90" stroke-width="1.3"/>
<circle cx="452.30" cy="581.60" r="4.55" fill="none" stroke="#EA3A90" stroke-width="1.3"/>
<circle cx="450.30" cy="588.50" r="4.55" fill="none" stroke="#EA3A90" stroke-width="1.3"/>
<circle cx="452.80" cy="598.90" r="4.55" fill="none" stroke="#EA3A90" stroke-width="1.3"/>
<circle cx="450.30" cy="605.80" r="4.55" fill="none" stroke="#EA3A90" stroke-width="1.3"/>
<circle cx="452.80" cy="607.30" r="4.55" fill="none" stroke="#EA3A90" stroke-width="1.3"/>
<line x1="529.40" y1="524.60" x2="529.40" y2="594.20" stroke="#000" stroke-width="1.6" />
<rect x="525.75" y="541.50" width="7.30" height="25.50" fill="#F9D6E5" stroke="#000" stroke-width="1.6"/>
<line x1="525.75" y1="551.00" x2="533.05" y2="551.00" stroke="#000" stroke-width="1.6" />
<path d="M536.50,524.60 L539.20,524.60 C540.12,526.33 542.95,531.93 544.70,535.00 C546.45,538.07 550.00,540.17 549.70,543.00 C549.40,545.83 543.88,548.83 542.90,552.00 C541.92,555.17 544.27,558.67 543.80,562.00 C543.33,565.33 540.65,569.00 540.10,572.00 C539.55,575.00 540.68,577.00 540.50,580.00 C540.32,583.00 539.50,586.67 539.00,590.00 C538.50,593.33 537.83,596.67 537.50,600.00 C537.17,603.33 537.00,606.77 537.00,610.00 C537.00,613.23 537.33,616.18 537.50,619.40 C537.67,622.62 537.92,627.65 538.00,629.30 L536.50,629.30 Z" fill="#EE3F92"/>
<circle cx="510.80" cy="523.70" r="4.55" fill="none" stroke="#EA3A90" stroke-width="1.3"/>
<circle cx="515.10" cy="531.40" r="4.55" fill="none" stroke="#EA3A90" stroke-width="1.3"/>
<circle cx="510.90" cy="537.80" r="4.55" fill="none" stroke="#EA3A90" stroke-width="1.3"/>
<circle cx="511.90" cy="541.00" r="4.55" fill="none" stroke="#EA3A90" stroke-width="1.3"/>
<circle cx="513.70" cy="543.30" r="4.55" fill="none" stroke="#EA3A90" stroke-width="1.3"/>
<circle cx="512.80" cy="546.00" r="4.55" fill="none" stroke="#EA3A90" stroke-width="1.3"/>
<circle cx="515.50" cy="552.40" r="4.55" fill="none" stroke="#EA3A90" stroke-width="1.3"/>
<circle cx="511.90" cy="560.60" r="4.55" fill="none" stroke="#EA3A90" stroke-width="1.3"/>
<circle cx="514.10" cy="562.40" r="4.55" fill="none" stroke="#EA3A90" stroke-width="1.3"/>
<circle cx="516.40" cy="562.90" r="4.55" fill="none" stroke="#EA3A90" stroke-width="1.3"/>
<circle cx="511.40" cy="565.60" r="4.55" fill="none" stroke="#EA3A90" stroke-width="1.3"/>
<circle cx="512.80" cy="572.50" r="4.55" fill="none" stroke="#EA3A90" stroke-width="1.3"/>
<circle cx="513.80" cy="581.90" r="4.55" fill="none" stroke="#EA3A90" stroke-width="1.3"/>
<circle cx="515.80" cy="585.30" r="4.55" fill="none" stroke="#EA3A90" stroke-width="1.3"/>
<circle cx="514.30" cy="594.20" r="4.55" fill="none" stroke="#EA3A90" stroke-width="1.3"/>
<circle cx="513.30" cy="629.30" r="4.55" fill="none" stroke="#EA3A90" stroke-width="1.3"/>
<line x1="593.50" y1="491.00" x2="593.50" y2="590.70" stroke="#000" stroke-width="1.6" />
<rect x="589.80" y="529.00" width="7.40" height="28.00" fill="#F9D6E5" stroke="#000" stroke-width="1.6"/>
<line x1="589.80" y1="546.50" x2="597.20" y2="546.50" stroke="#000" stroke-width="1.6" />
<path d="M600.20,452.10 L602.00,452.10 C601.87,453.42 601.33,456.18 601.20,460.00 C601.07,463.82 600.98,470.00 601.20,475.00 C601.42,480.00 602.47,485.83 602.50,490.00 C602.53,494.17 601.53,496.67 601.40,500.00 C601.27,503.33 601.07,506.67 601.70,510.00 C602.33,513.33 604.15,516.67 605.20,520.00 C606.25,523.33 607.32,526.67 608.00,530.00 C608.68,533.33 609.00,536.67 609.30,540.00 C609.60,543.33 609.92,546.67 609.80,550.00 C609.68,553.33 609.52,556.67 608.60,560.00 C607.68,563.33 605.32,567.00 604.30,570.00 C603.28,573.00 602.80,575.50 602.50,578.00 C602.20,580.50 602.47,582.87 602.50,585.00 C602.53,587.13 602.67,589.83 602.70,590.80 L600.20,590.80 Z" fill="#EE3F92"/>
<circle cx="575.00" cy="451.80" r="4.55" fill="none" stroke="#EA3A90" stroke-width="1.3"/>
<circle cx="580.10" cy="490.60" r="4.55" fill="none" stroke="#EA3A90" stroke-width="1.3"/>
<circle cx="574.60" cy="520.50" r="4.55" fill="none" stroke="#EA3A90" stroke-width="1.3"/>
<circle cx="578.20" cy="523.30" r="4.55" fill="none" stroke="#EA3A90" stroke-width="1.3"/>
<circle cx="576.00" cy="528.30" r="4.55" fill="none" stroke="#EA3A90" stroke-width="1.3"/>
<circle cx="575.00" cy="538.30" r="4.55" fill="none" stroke="#EA3A90" stroke-width="1.3"/>
<circle cx="578.70" cy="538.30" r="4.55" fill="none" stroke="#EA3A90" stroke-width="1.3"/>
<circle cx="576.90" cy="540.10" r="4.55" fill="none" stroke="#EA3A90" stroke-width="1.3"/>
<circle cx="575.00" cy="545.60" r="4.55" fill="none" stroke="#EA3A90" stroke-width="1.3"/>
<circle cx="579.10" cy="547.40" r="4.55" fill="none" stroke="#EA3A90" stroke-width="1.3"/>
<circle cx="576.00" cy="550.20" r="4.55" fill="none" stroke="#EA3A90" stroke-width="1.3"/>
<circle cx="576.90" cy="556.60" r="4.55" fill="none" stroke="#EA3A90" stroke-width="1.3"/>
<circle cx="577.30" cy="559.30" r="4.55" fill="none" stroke="#EA3A90" stroke-width="1.3"/>
<circle cx="577.80" cy="557.70" r="4.55" fill="none" stroke="#EA3A90" stroke-width="1.3"/>
<circle cx="578.70" cy="562.30" r="4.55" fill="none" stroke="#EA3A90" stroke-width="1.3"/>
<circle cx="577.80" cy="567.30" r="4.55" fill="none" stroke="#EA3A90" stroke-width="1.3"/>
<circle cx="574.60" cy="583.70" r="4.55" fill="none" stroke="#EA3A90" stroke-width="1.3"/>
<circle cx="576.90" cy="591.00" r="4.55" fill="none" stroke="#EA3A90" stroke-width="1.3"/>
<line x1="658.00" y1="544.70" x2="658.00" y2="597.10" stroke="#000" stroke-width="1.6" />
<rect x="654.30" y="554.80" width="7.40" height="21.10" fill="#F9D6E5" stroke="#000" stroke-width="1.6"/>
<line x1="654.30" y1="567.60" x2="661.70" y2="567.60" stroke="#000" stroke-width="1.6" />
<path d="M665.10,497.10 L667.20,497.10 C666.95,499.25 665.75,505.85 665.70,510.00 C665.65,514.15 666.90,517.83 666.90,522.00 C666.90,526.17 665.47,532.00 665.70,535.00 C665.93,538.00 667.57,537.50 668.30,540.00 C669.03,542.50 669.40,547.50 670.10,550.00 C670.80,552.50 671.47,552.50 672.50,555.00 C673.53,557.50 675.55,562.50 676.30,565.00 C677.05,567.50 677.63,567.83 677.00,570.00 C676.37,572.17 673.68,575.50 672.50,578.00 C671.32,580.50 670.68,581.33 669.90,585.00 C669.12,588.67 668.27,596.38 667.80,600.00 C667.33,603.62 667.22,605.58 667.10,606.70 L665.10,606.70 Z" fill="#EE3F92"/>
<circle cx="640.80" cy="496.80" r="4.55" fill="none" stroke="#EA3A90" stroke-width="1.3"/>
<circle cx="644.00" cy="521.90" r="4.55" fill="none" stroke="#EA3A90" stroke-width="1.3"/>
<circle cx="639.40" cy="544.70" r="4.55" fill="none" stroke="#EA3A90" stroke-width="1.3"/>
<circle cx="642.60" cy="544.30" r="4.55" fill="none" stroke="#EA3A90" stroke-width="1.3"/>
<circle cx="639.70" cy="546.10" r="4.55" fill="none" stroke="#EA3A90" stroke-width="1.3"/>
<circle cx="644.00" cy="546.10" r="4.55" fill="none" stroke="#EA3A90" stroke-width="1.3"/>
<circle cx="639.70" cy="554.60" r="4.55" fill="none" stroke="#EA3A90" stroke-width="1.3"/>
<circle cx="644.50" cy="553.50" r="4.55" fill="none" stroke="#EA3A90" stroke-width="1.3"/>
<circle cx="638.60" cy="561.00" r="4.55" fill="none" stroke="#EA3A90" stroke-width="1.3"/>
<circle cx="642.90" cy="561.00" r="4.55" fill="none" stroke="#EA3A90" stroke-width="1.3"/>
<circle cx="638.60" cy="568.90" r="4.55" fill="none" stroke="#EA3A90" stroke-width="1.3"/>
<circle cx="645.00" cy="567.90" r="4.55" fill="none" stroke="#EA3A90" stroke-width="1.3"/>
<circle cx="642.90" cy="570.50" r="4.55" fill="none" stroke="#EA3A90" stroke-width="1.3"/>
<circle cx="639.70" cy="576.40" r="4.55" fill="none" stroke="#EA3A90" stroke-width="1.3"/>
<circle cx="644.50" cy="575.30" r="4.55" fill="none" stroke="#EA3A90" stroke-width="1.3"/>
<circle cx="639.70" cy="588.60" r="4.55" fill="none" stroke="#EA3A90" stroke-width="1.3"/>
<circle cx="639.70" cy="597.10" r="4.55" fill="none" stroke="#EA3A90" stroke-width="1.3"/>
<circle cx="641.80" cy="606.70" r="4.55" fill="none" stroke="#EA3A90" stroke-width="1.3"/>
<defs>
<filter id="b05" x="-20%" y="-20%" width="140%" height="140%"><feGaussianBlur stdDeviation="0.45"/></filter>
<filter id="b1" x="-20%" y="-20%" width="140%" height="140%"><feGaussianBlur stdDeviation="1.2"/></filter>
<filter id="b2" x="-30%" y="-30%" width="160%" height="160%"><feGaussianBlur stdDeviation="2.2"/></filter>
<filter id="b3" x="-30%" y="-30%" width="160%" height="160%"><feGaussianBlur stdDeviation="3.5"/></filter>
<clipPath id="cF"><rect x="48.2" y="47.1" width="90.8" height="90.2"/></clipPath>
<clipPath id="cBr"><rect x="504.7" y="60.9" width="164" height="65.8"/></clipPath>
<clipPath id="cP"><rect x="48.3" y="447.2" width="90.3" height="90.1"/></clipPath>
<clipPath id="cS"><rect x="48.2" y="570.9" width="90.4" height="72.5"/></clipPath>
<linearGradient id="gF" x1="0" y1="0" x2="0" y2="1">
<stop offset="0" stop-color="#aab49a"/><stop offset="0.35" stop-color="#7d8a66"/><stop offset="0.6" stop-color="#4d5a36"/><stop offset="1" stop-color="#2f3a20"/>
</linearGradient>
</defs>
<g clip-path="url(#cF)"><g filter="url(#b3)">
<rect x="33.07" y="32.07" width="15.73" height="15.63" fill="#606858"/>
<rect x="48.20" y="32.07" width="15.73" height="15.63" fill="#606858"/>
<rect x="63.33" y="32.07" width="15.73" height="15.63" fill="#9aa28a"/>
<rect x="78.47" y="32.07" width="15.73" height="15.63" fill="#b8c0b0"/>
<rect x="93.60" y="32.07" width="15.73" height="15.63" fill="#a8b098"/>
<rect x="108.73" y="32.07" width="15.73" height="15.63" fill="#6a7262"/>
<rect x="123.87" y="32.07" width="15.73" height="15.63" fill="#b0c0b8"/>
<rect x="139.00" y="32.07" width="15.73" height="15.63" fill="#b0c0b8"/>
<rect x="33.07" y="47.10" width="15.73" height="15.63" fill="#606858"/>
<rect x="48.20" y="47.10" width="15.73" height="15.63" fill="#606858"/>
<rect x="63.33" y="47.10" width="15.73" height="15.63" fill="#9aa28a"/>
<rect x="78.47" y="47.10" width="15.73" height="15.63" fill="#b8c0b0"/>
<rect x="93.60" y="47.10" width="15.73" height="15.63" fill="#a8b098"/>
<rect x="108.73" y="47.10" width="15.73" height="15.63" fill="#6a7262"/>
<rect x="123.87" y="47.10" width="15.73" height="15.63" fill="#b0c0b8"/>
<rect x="139.00" y="47.10" width="15.73" height="15.63" fill="#b0c0b8"/>
<rect x="33.07" y="62.13" width="15.73" height="15.63" fill="#48503a"/>
<rect x="48.20" y="62.13" width="15.73" height="15.63" fill="#48503a"/>
<rect x="63.33" y="62.13" width="15.73" height="15.63" fill="#747a62"/>
<rect x="78.47" y="62.13" width="15.73" height="15.63" fill="#a8b0a0"/>
<rect x="93.60" y="62.13" width="15.73" height="15.63" fill="#8a9480"/>
<rect x="108.73" y="62.13" width="15.73" height="15.63" fill="#545a4a"/>
<rect x="123.87" y="62.13" width="15.73" height="15.63" fill="#849482"/>
<rect x="139.00" y="62.13" width="15.73" height="15.63" fill="#849482"/>
<rect x="33.07" y="77.17" width="15.73" height="15.63" fill="#2e3c22"/>
<rect x="48.20" y="77.17" width="15.73" height="15.63" fill="#2e3c22"/>
<rect x="63.33" y="77.17" width="15.73" height="15.63" fill="#5a6240"/>
<rect x="78.47" y="77.17" width="15.73" height="15.63" fill="#828a70"/>
<rect x="93.60" y="77.17" width="15.73" height="15.63" fill="#687058"/>
<rect x="108.73" y="77.17" width="15.73" height="15.63" fill="#40442f"/>
<rect x="123.87" y="77.17" width="15.73" height="15.63" fill="#525e48"/>
<rect x="139.00" y="77.17" width="15.73" height="15.63" fill="#525e48"/>
<rect x="33.07" y="92.20" width="15.73" height="15.63" fill="#22361c"/>
<rect x="48.20" y="92.20" width="15.73" height="15.63" fill="#22361c"/>
<rect x="63.33" y="92.20" width="15.73" height="15.63" fill="#2e5024"/>
<rect x="78.47" y="92.20" width="15.73" height="15.63" fill="#4a5a30"/>
<rect x="93.60" y="92.20" width="15.73" height="15.63" fill="#283020"/>
<rect x="108.73" y="92.20" width="15.73" height="15.63" fill="#262c1c"/>
<rect x="123.87" y="92.20" width="15.73" height="15.63" fill="#343a2a"/>
<rect x="139.00" y="92.20" width="15.73" height="15.63" fill="#343a2a"/>
<rect x="33.07" y="107.23" width="15.73" height="15.63" fill="#285020"/>
<rect x="48.20" y="107.23" width="15.73" height="15.63" fill="#285020"/>
<rect x="63.33" y="107.23" width="15.73" height="15.63" fill="#386a2c"/>
<rect x="78.47" y="107.23" width="15.73" height="15.63" fill="#3e4e2a"/>
<rect x="93.60" y="107.23" width="15.73" height="15.63" fill="#262e1c"/>
<rect x="108.73" y="107.23" width="15.73" height="15.63" fill="#24281a"/>
<rect x="123.87" y="107.23" width="15.73" height="15.63" fill="#403e2a"/>
<rect x="139.00" y="107.23" width="15.73" height="15.63" fill="#403e2a"/>
<rect x="33.07" y="122.27" width="15.73" height="15.63" fill="#2c5c26"/>
<rect x="48.20" y="122.27" width="15.73" height="15.63" fill="#2c5c26"/>
<rect x="63.33" y="122.27" width="15.73" height="15.63" fill="#3a7032"/>
<rect x="78.47" y="122.27" width="15.73" height="15.63" fill="#30582a"/>
<rect x="93.60" y="122.27" width="15.73" height="15.63" fill="#24381c"/>
<rect x="108.73" y="122.27" width="15.73" height="15.63" fill="#22281a"/>
<rect x="123.87" y="122.27" width="15.73" height="15.63" fill="#34342a"/>
<rect x="139.00" y="122.27" width="15.73" height="15.63" fill="#34342a"/>
<rect x="33.07" y="137.30" width="15.73" height="15.63" fill="#2c5c26"/>
<rect x="48.20" y="137.30" width="15.73" height="15.63" fill="#2c5c26"/>
<rect x="63.33" y="137.30" width="15.73" height="15.63" fill="#3a7032"/>
<rect x="78.47" y="137.30" width="15.73" height="15.63" fill="#30582a"/>
<rect x="93.60" y="137.30" width="15.73" height="15.63" fill="#24381c"/>
<rect x="108.73" y="137.30" width="15.73" height="15.63" fill="#22281a"/>
<rect x="123.87" y="137.30" width="15.73" height="15.63" fill="#34342a"/>
<rect x="139.00" y="137.30" width="15.73" height="15.63" fill="#34342a"/>
</g>
<g filter="url(#b05)">
<ellipse cx="77.3" cy="60.5" rx="0.7" ry="1.4" fill="#b0b890" opacity="0.6"/>
<ellipse cx="81.1" cy="52.3" rx="0.6" ry="1.3" fill="#6a7a50" opacity="0.6"/>
<ellipse cx="54.5" cy="55.2" rx="1.5" ry="0.8" fill="#c0c8b0" opacity="0.6"/>
<ellipse cx="68.3" cy="102.9" rx="1.2" ry="1.2" fill="#1a2014" opacity="0.6"/>
<ellipse cx="136.1" cy="51.2" rx="0.9" ry="0.8" fill="#9aa888" opacity="0.6"/>
<ellipse cx="58.8" cy="74.6" rx="0.8" ry="1.5" fill="#8a9870" opacity="0.6"/>
<ellipse cx="105.7" cy="80.2" rx="0.7" ry="0.7" fill="#6a7a50" opacity="0.6"/>
<ellipse cx="66.7" cy="107.7" rx="0.9" ry="1.5" fill="#1a2a16" opacity="0.6"/>
<ellipse cx="89.0" cy="73.8" rx="1.4" ry="1.0" fill="#2a3020" opacity="0.6"/>
<ellipse cx="99.9" cy="93.8" rx="1.4" ry="1.0" fill="#8a8a58" opacity="0.6"/>
<ellipse cx="136.4" cy="57.6" rx="1.4" ry="0.8" fill="#3a4a30" opacity="0.6"/>
<ellipse cx="92.2" cy="50.6" rx="1.4" ry="1.5" fill="#b0b890" opacity="0.6"/>
<ellipse cx="127.0" cy="75.0" rx="1.3" ry="1.5" fill="#b0b890" opacity="0.6"/>
<ellipse cx="89.3" cy="121.9" rx="1.1" ry="1.6" fill="#1a2014" opacity="0.6"/>
<ellipse cx="53.7" cy="109.5" rx="1.7" ry="1.8" fill="#142a12" opacity="0.6"/>
<ellipse cx="73.8" cy="81.4" rx="0.6" ry="1.3" fill="#b0b890" opacity="0.6"/>
<ellipse cx="63.3" cy="57.5" rx="1.4" ry="0.8" fill="#2a3020" opacity="0.6"/>
<ellipse cx="70.5" cy="81.9" rx="0.7" ry="1.3" fill="#8a9870" opacity="0.6"/>
<ellipse cx="97.6" cy="125.7" rx="1.6" ry="1.0" fill="#3a4a2a" opacity="0.6"/>
<ellipse cx="85.6" cy="79.0" rx="1.7" ry="0.8" fill="#9aa888" opacity="0.6"/>
<ellipse cx="64.1" cy="67.7" rx="1.1" ry="1.5" fill="#2a3020" opacity="0.6"/>
<ellipse cx="71.8" cy="47.5" rx="1.0" ry="1.4" fill="#3a4a30" opacity="0.6"/>
<ellipse cx="134.0" cy="108.6" rx="1.3" ry="1.6" fill="#202818" opacity="0.6"/>
<ellipse cx="53.1" cy="127.2" rx="1.6" ry="1.8" fill="#5aa048" opacity="0.6"/>
<ellipse cx="83.5" cy="82.6" rx="1.3" ry="0.7" fill="#dfe6da" opacity="0.6"/>
<ellipse cx="54.3" cy="65.7" rx="1.0" ry="0.7" fill="#2a3020" opacity="0.6"/>
<ellipse cx="48.2" cy="60.6" rx="1.0" ry="0.6" fill="#2a3020" opacity="0.6"/>
<ellipse cx="126.9" cy="101.8" rx="0.9" ry="1.1" fill="#2a3020" opacity="0.6"/>
<ellipse cx="81.0" cy="58.0" rx="1.7" ry="1.3" fill="#2a3020" opacity="0.6"/>
<ellipse cx="91.7" cy="54.7" rx="1.0" ry="1.0" fill="#dfe6da" opacity="0.6"/>
<ellipse cx="122.8" cy="61.5" rx="1.6" ry="1.4" fill="#dfe6da" opacity="0.6"/>
<ellipse cx="61.4" cy="95.4" rx="1.2" ry="2.1" fill="#4f9a45" opacity="0.6"/>
<ellipse cx="125.9" cy="109.1" rx="1.0" ry="0.9" fill="#4a5030" opacity="0.6"/>
<ellipse cx="117.7" cy="94.5" rx="1.0" ry="0.9" fill="#3a4a2a" opacity="0.6"/>
<ellipse cx="121.2" cy="134.8" rx="1.5" ry="1.8" fill="#8a8a58" opacity="0.6"/>
<ellipse cx="114.8" cy="67.3" rx="1.0" ry="0.6" fill="#6a7a50" opacity="0.6"/>
<ellipse cx="50.7" cy="72.0" rx="1.4" ry="2.0" fill="#c0c8b0" opacity="0.6"/>
<ellipse cx="88.5" cy="130.5" rx="1.7" ry="1.1" fill="#1a2014" opacity="0.6"/>
<ellipse cx="68.0" cy="67.3" rx="0.8" ry="1.5" fill="#2a3020" opacity="0.6"/>
<ellipse cx="129.2" cy="121.9" rx="1.3" ry="1.8" fill="#6a6a40" opacity="0.6"/>
<ellipse cx="55.8" cy="105.9" rx="1.5" ry="1.7" fill="#1a2014" opacity="0.6"/>
<ellipse cx="91.2" cy="63.0" rx="1.0" ry="1.8" fill="#2a3020" opacity="0.6"/>
<ellipse cx="135.6" cy="82.3" rx="1.6" ry="1.7" fill="#3a4a30" opacity="0.6"/>
<ellipse cx="63.5" cy="58.4" rx="1.6" ry="1.8" fill="#2a3020" opacity="0.6"/>
<ellipse cx="61.4" cy="120.7" rx="1.3" ry="1.1" fill="#1a2014" opacity="0.6"/>
<ellipse cx="97.6" cy="58.8" rx="1.7" ry="1.6" fill="#dfe6da" opacity="0.6"/>
<ellipse cx="95.6" cy="130.2" rx="1.6" ry="1.8" fill="#6a6a40" opacity="0.6"/>
<ellipse cx="67.2" cy="69.5" rx="0.9" ry="1.5" fill="#c0c8b0" opacity="0.6"/>
<ellipse cx="71.5" cy="84.4" rx="1.6" ry="1.1" fill="#2a3020" opacity="0.6"/>
<ellipse cx="89.4" cy="99.0" rx="1.1" ry="2.0" fill="#1a2014" opacity="0.6"/>
<ellipse cx="93.3" cy="94.4" rx="0.6" ry="1.3" fill="#7a8a40" opacity="0.6"/>
<ellipse cx="64.7" cy="47.4" rx="0.8" ry="1.3" fill="#8a9870" opacity="0.6"/>
<ellipse cx="113.5" cy="96.6" rx="1.2" ry="1.4" fill="#4a5030" opacity="0.6"/>
<ellipse cx="118.8" cy="56.5" rx="0.9" ry="1.0" fill="#6a7a50" opacity="0.6"/>
<ellipse cx="117.7" cy="92.3" rx="1.4" ry="2.0" fill="#202818" opacity="0.6"/>
<ellipse cx="88.1" cy="101.6" rx="1.2" ry="1.6" fill="#7a8a40" opacity="0.6"/>
<ellipse cx="88.9" cy="94.6" rx="1.6" ry="1.6" fill="#1a2a16" opacity="0.6"/>
<ellipse cx="127.1" cy="131.0" rx="1.2" ry="2.0" fill="#4a5030" opacity="0.6"/>
<ellipse cx="123.8" cy="59.3" rx="1.1" ry="0.7" fill="#dfe6da" opacity="0.6"/>
<ellipse cx="69.9" cy="53.6" rx="1.5" ry="1.9" fill="#4a5a38" opacity="0.6"/>
<ellipse cx="62.1" cy="110.8" rx="0.8" ry="1.9" fill="#142a12" opacity="0.6"/>
<ellipse cx="135.3" cy="66.6" rx="1.0" ry="1.3" fill="#9aa888" opacity="0.6"/>
<ellipse cx="137.3" cy="121.2" rx="1.1" ry="1.4" fill="#2a3020" opacity="0.6"/>
<ellipse cx="78.7" cy="64.5" rx="1.4" ry="0.6" fill="#3a4a30" opacity="0.6"/>
<ellipse cx="98.1" cy="86.3" rx="1.0" ry="1.5" fill="#2a3020" opacity="0.6"/>
<ellipse cx="94.3" cy="52.8" rx="1.5" ry="2.1" fill="#9aa888" opacity="0.6"/>
<ellipse cx="57.6" cy="70.7" rx="1.5" ry="1.0" fill="#2a3020" opacity="0.6"/>
<ellipse cx="59.9" cy="84.7" rx="1.5" ry="1.0" fill="#8a8a58" opacity="0.6"/>
<ellipse cx="61.6" cy="128.9" rx="1.4" ry="0.7" fill="#7a8a40" opacity="0.6"/>
<ellipse cx="53.4" cy="108.4" rx="0.7" ry="2.0" fill="#1a2a16" opacity="0.6"/>
<ellipse cx="105.3" cy="118.4" rx="1.5" ry="0.7" fill="#2a3020" opacity="0.6"/>
<ellipse cx="125.8" cy="87.5" rx="1.2" ry="2.0" fill="#6a6a40" opacity="0.6"/>
<ellipse cx="72.3" cy="58.6" rx="0.9" ry="0.8" fill="#6a7a50" opacity="0.6"/>
<ellipse cx="62.7" cy="51.6" rx="0.9" ry="1.1" fill="#2a3020" opacity="0.6"/>
<ellipse cx="116.6" cy="72.9" rx="0.8" ry="1.1" fill="#6a7a50" opacity="0.6"/>
<ellipse cx="49.8" cy="69.4" rx="1.4" ry="1.4" fill="#2a3020" opacity="0.6"/>
<ellipse cx="65.3" cy="89.4" rx="0.7" ry="1.8" fill="#8a8a58" opacity="0.6"/>
<ellipse cx="87.1" cy="91.2" rx="1.0" ry="1.4" fill="#8a8a58" opacity="0.6"/>
<ellipse cx="110.1" cy="134.5" rx="1.5" ry="1.7" fill="#6a6a40" opacity="0.6"/>
<ellipse cx="105.4" cy="83.1" rx="0.7" ry="0.8" fill="#6a6a40" opacity="0.6"/>
<ellipse cx="54.6" cy="113.0" rx="0.8" ry="0.7" fill="#68b055" opacity="0.6"/>
<ellipse cx="123.9" cy="124.6" rx="0.9" ry="1.0" fill="#3a4a2a" opacity="0.6"/>
<ellipse cx="74.6" cy="88.0" rx="1.1" ry="1.0" fill="#2a3020" opacity="0.6"/>
<ellipse cx="134.8" cy="133.7" rx="0.9" ry="2.0" fill="#202818" opacity="0.6"/>
<ellipse cx="76.1" cy="78.8" rx="1.0" ry="1.3" fill="#dfe6da" opacity="0.6"/>
<ellipse cx="93.4" cy="65.0" rx="0.6" ry="1.0" fill="#6a7a50" opacity="0.6"/>
<ellipse cx="56.3" cy="82.7" rx="0.6" ry="1.1" fill="#2a3020" opacity="0.6"/>
<ellipse cx="69.2" cy="99.2" rx="1.4" ry="1.6" fill="#7a8a40" opacity="0.6"/>
<ellipse cx="112.6" cy="125.3" rx="1.0" ry="2.1" fill="#6a6a40" opacity="0.6"/>
<ellipse cx="61.7" cy="111.5" rx="0.6" ry="1.9" fill="#142a12" opacity="0.6"/>
<ellipse cx="128.5" cy="102.9" rx="1.5" ry="0.8" fill="#3a4a2a" opacity="0.6"/>
<ellipse cx="95.3" cy="92.0" rx="1.5" ry="1.8" fill="#8a8a58" opacity="0.6"/>
<ellipse cx="100.8" cy="126.6" rx="1.4" ry="0.9" fill="#3a4a2a" opacity="0.6"/>
<ellipse cx="51.0" cy="58.9" rx="0.7" ry="1.9" fill="#c0c8b0" opacity="0.6"/>
<ellipse cx="98.5" cy="103.0" rx="1.3" ry="1.3" fill="#202818" opacity="0.6"/>
<ellipse cx="48.5" cy="118.1" rx="1.2" ry="1.4" fill="#142a12" opacity="0.6"/>
<ellipse cx="107.5" cy="53.0" rx="0.9" ry="0.7" fill="#2a3020" opacity="0.6"/>
<ellipse cx="72.1" cy="112.0" rx="1.4" ry="2.1" fill="#3a7a32" opacity="0.6"/>
<ellipse cx="92.7" cy="81.1" rx="1.4" ry="1.8" fill="#6a7a50" opacity="0.6"/>
<ellipse cx="103.7" cy="104.3" rx="0.8" ry="1.0" fill="#2a3020" opacity="0.6"/>
<ellipse cx="115.1" cy="74.2" rx="0.6" ry="0.7" fill="#6a7a50" opacity="0.6"/>
<ellipse cx="72.4" cy="106.9" rx="1.3" ry="1.0" fill="#142a12" opacity="0.6"/>
<ellipse cx="94.7" cy="88.5" rx="0.7" ry="1.9" fill="#6a6a40" opacity="0.6"/>
<ellipse cx="66.1" cy="134.2" rx="0.6" ry="1.3" fill="#1a2014" opacity="0.6"/>
<ellipse cx="122.0" cy="133.3" rx="0.9" ry="0.9" fill="#6a6a40" opacity="0.6"/>
<ellipse cx="133.3" cy="65.9" rx="0.8" ry="1.4" fill="#b0b890" opacity="0.6"/>
<ellipse cx="133.9" cy="58.9" rx="1.2" ry="1.9" fill="#2a3020" opacity="0.6"/>
<ellipse cx="111.5" cy="67.7" rx="1.1" ry="0.6" fill="#9aa888" opacity="0.6"/>
<ellipse cx="48.5" cy="90.9" rx="0.9" ry="0.8" fill="#6a6a40" opacity="0.6"/>
<ellipse cx="79.2" cy="75.2" rx="0.6" ry="1.7" fill="#2a3020" opacity="0.6"/>
<ellipse cx="123.7" cy="57.8" rx="1.4" ry="2.0" fill="#9aa888" opacity="0.6"/>
<ellipse cx="74.3" cy="80.2" rx="1.7" ry="1.5" fill="#3a4a30" opacity="0.6"/>
<ellipse cx="80.7" cy="85.2" rx="0.7" ry="0.8" fill="#4a5030" opacity="0.6"/>
<ellipse cx="123.3" cy="72.5" rx="0.9" ry="1.0" fill="#9aa888" opacity="0.6"/>
<ellipse cx="94.2" cy="64.0" rx="1.7" ry="1.9" fill="#3a4a30" opacity="0.6"/>
<ellipse cx="121.3" cy="103.2" rx="1.6" ry="1.4" fill="#8a8a58" opacity="0.6"/>
<ellipse cx="113.0" cy="51.5" rx="1.1" ry="1.7" fill="#2a3020" opacity="0.6"/>
<ellipse cx="106.2" cy="72.6" rx="1.6" ry="0.8" fill="#dfe6da" opacity="0.6"/>
<ellipse cx="90.7" cy="77.7" rx="1.4" ry="2.1" fill="#3a4a30" opacity="0.6"/>
<ellipse cx="71.6" cy="105.5" rx="1.2" ry="1.2" fill="#68b055" opacity="0.6"/>
<ellipse cx="63.3" cy="61.5" rx="1.6" ry="1.3" fill="#2a3020" opacity="0.6"/>
<ellipse cx="68.0" cy="127.8" rx="1.1" ry="0.8" fill="#1a2014" opacity="0.6"/>
<ellipse cx="65.5" cy="55.2" rx="0.7" ry="1.0" fill="#c0c8b0" opacity="0.6"/>
<ellipse cx="71.5" cy="97.8" rx="1.4" ry="1.2" fill="#1a2014" opacity="0.6"/>
<ellipse cx="85.4" cy="93.8" rx="1.0" ry="0.7" fill="#1a2a16" opacity="0.6"/>
<ellipse cx="73.2" cy="133.2" rx="1.2" ry="1.5" fill="#3a7a32" opacity="0.6"/>
<ellipse cx="125.9" cy="66.3" rx="0.9" ry="1.2" fill="#c8d2c0" opacity="0.6"/>
<ellipse cx="88.3" cy="132.0" rx="1.6" ry="0.6" fill="#5aa048" opacity="0.6"/>
<ellipse cx="51.1" cy="110.2" rx="1.1" ry="1.5" fill="#1a2014" opacity="0.6"/>
<ellipse cx="48.2" cy="81.9" rx="1.5" ry="1.9" fill="#8a9870" opacity="0.6"/>
<ellipse cx="135.7" cy="69.2" rx="0.8" ry="1.4" fill="#dfe6da" opacity="0.6"/>
<ellipse cx="109.6" cy="130.9" rx="1.3" ry="1.7" fill="#3a4a2a" opacity="0.6"/>
<ellipse cx="89.4" cy="96.2" rx="1.5" ry="0.9" fill="#4f9a45" opacity="0.6"/>
<ellipse cx="131.0" cy="104.6" rx="0.7" ry="1.0" fill="#4a5030" opacity="0.6"/>
<ellipse cx="105.5" cy="109.3" rx="0.7" ry="1.4" fill="#2a3020" opacity="0.6"/>
<ellipse cx="100.7" cy="81.6" rx="1.3" ry="0.6" fill="#c8d2c0" opacity="0.6"/>
<ellipse cx="75.3" cy="88.1" rx="1.3" ry="1.9" fill="#8a8a58" opacity="0.6"/>
<ellipse cx="91.0" cy="68.0" rx="1.7" ry="1.7" fill="#c8d2c0" opacity="0.6"/>
<ellipse cx="75.9" cy="49.0" rx="1.3" ry="1.2" fill="#6a7a50" opacity="0.6"/>
<ellipse cx="71.4" cy="106.5" rx="0.8" ry="0.7" fill="#1a2014" opacity="0.6"/>
<ellipse cx="78.6" cy="84.5" rx="0.8" ry="1.8" fill="#3a4a2a" opacity="0.6"/>
<ellipse cx="114.7" cy="92.0" rx="1.7" ry="1.1" fill="#4a5030" opacity="0.6"/>
<ellipse cx="122.0" cy="67.6" rx="1.4" ry="1.0" fill="#c8d2c0" opacity="0.6"/>
<ellipse cx="133.9" cy="91.2" rx="0.8" ry="1.2" fill="#4a5030" opacity="0.6"/>
<ellipse cx="108.1" cy="131.5" rx="1.0" ry="0.9" fill="#2a3020" opacity="0.6"/>
<ellipse cx="135.9" cy="59.7" rx="0.7" ry="1.2" fill="#dfe6da" opacity="0.6"/>
<ellipse cx="129.0" cy="125.7" rx="1.7" ry="2.0" fill="#3a4a2a" opacity="0.6"/>
<ellipse cx="77.8" cy="63.6" rx="1.4" ry="0.6" fill="#9aa888" opacity="0.6"/>
<ellipse cx="108.0" cy="80.8" rx="1.0" ry="0.9" fill="#3a4a30" opacity="0.6"/>
<ellipse cx="48.5" cy="72.0" rx="1.7" ry="0.8" fill="#c0c8b0" opacity="0.6"/>
<ellipse cx="135.0" cy="65.6" rx="1.5" ry="1.8" fill="#3a4a30" opacity="0.6"/>
<ellipse cx="87.1" cy="51.5" rx="1.0" ry="2.0" fill="#6a7a50" opacity="0.6"/>
<ellipse cx="65.6" cy="79.5" rx="0.6" ry="1.2" fill="#8a9870" opacity="0.6"/>
<ellipse cx="121.3" cy="115.3" rx="0.6" ry="0.7" fill="#2a3020" opacity="0.6"/>
<ellipse cx="131.0" cy="70.0" rx="1.6" ry="1.1" fill="#2a3020" opacity="0.6"/>
<ellipse cx="72.7" cy="132.3" rx="0.9" ry="1.7" fill="#7a8a40" opacity="0.6"/>
<ellipse cx="76.7" cy="71.6" rx="1.4" ry="2.0" fill="#dfe6da" opacity="0.6"/>
<ellipse cx="105.3" cy="131.0" rx="0.9" ry="1.3" fill="#2a3020" opacity="0.6"/>
<ellipse cx="134.3" cy="132.0" rx="0.9" ry="1.2" fill="#6a6a40" opacity="0.6"/>
<ellipse cx="92.6" cy="129.7" rx="1.5" ry="1.7" fill="#3a7a32" opacity="0.6"/>
<ellipse cx="122.2" cy="115.9" rx="1.0" ry="1.1" fill="#202818" opacity="0.6"/>
<ellipse cx="80.8" cy="116.7" rx="0.8" ry="1.7" fill="#4f9a45" opacity="0.6"/>
<ellipse cx="70.5" cy="52.9" rx="1.2" ry="1.1" fill="#2a3020" opacity="0.6"/>
<ellipse cx="136.4" cy="125.7" rx="0.9" ry="0.7" fill="#8a8a58" opacity="0.6"/>
<ellipse cx="56.9" cy="91.5" rx="1.1" ry="1.0" fill="#3a4a2a" opacity="0.6"/>
<ellipse cx="85.7" cy="102.3" rx="1.4" ry="1.9" fill="#142a12" opacity="0.6"/>
<ellipse cx="108.0" cy="57.9" rx="0.9" ry="1.5" fill="#2a3020" opacity="0.6"/>
<ellipse cx="81.8" cy="112.8" rx="0.9" ry="1.0" fill="#3a7a32" opacity="0.6"/>
<ellipse cx="62.0" cy="125.8" rx="1.0" ry="1.2" fill="#7a8a40" opacity="0.6"/>
<ellipse cx="137.5" cy="92.3" rx="1.5" ry="1.6" fill="#4a5030" opacity="0.6"/>
<ellipse cx="137.4" cy="56.2" rx="1.5" ry="1.9" fill="#6a7a50" opacity="0.6"/>
<ellipse cx="130.5" cy="50.7" rx="0.7" ry="0.9" fill="#3a4a30" opacity="0.6"/>
<ellipse cx="135.8" cy="99.0" rx="1.0" ry="1.9" fill="#8a8a58" opacity="0.6"/>
<ellipse cx="88.6" cy="70.2" rx="1.6" ry="0.8" fill="#2a3020" opacity="0.6"/>
<ellipse cx="101.9" cy="102.3" rx="1.0" ry="0.8" fill="#4a5030" opacity="0.6"/>
<ellipse cx="66.6" cy="69.8" rx="1.3" ry="0.9" fill="#4a5a38" opacity="0.6"/>
<ellipse cx="49.2" cy="76.2" rx="0.8" ry="1.1" fill="#4a5a38" opacity="0.6"/>
<ellipse cx="66.5" cy="117.9" rx="0.7" ry="0.8" fill="#7a8a40" opacity="0.6"/>
<ellipse cx="83.8" cy="96.1" rx="0.7" ry="0.8" fill="#142a12" opacity="0.6"/>
<ellipse cx="110.8" cy="83.6" rx="0.9" ry="2.0" fill="#4a5030" opacity="0.6"/>
<ellipse cx="76.3" cy="97.5" rx="1.1" ry="1.9" fill="#68b055" opacity="0.6"/>
<ellipse cx="137.9" cy="79.5" rx="1.4" ry="0.9" fill="#c8d2c0" opacity="0.6"/>
<ellipse cx="48.7" cy="127.3" rx="1.5" ry="1.2" fill="#1a2a16" opacity="0.6"/>
<ellipse cx="127.7" cy="88.1" rx="0.6" ry="1.4" fill="#2a3020" opacity="0.6"/>
<ellipse cx="105.9" cy="128.1" rx="1.3" ry="1.2" fill="#2a3020" opacity="0.6"/>
<ellipse cx="93.6" cy="60.1" rx="1.2" ry="2.0" fill="#c8d2c0" opacity="0.6"/>
<ellipse cx="58.0" cy="90.8" rx="1.7" ry="0.9" fill="#3a4a2a" opacity="0.6"/>
<ellipse cx="59.6" cy="131.0" rx="1.1" ry="0.7" fill="#1a2014" opacity="0.6"/>
<ellipse cx="131.6" cy="81.6" rx="1.3" ry="1.8" fill="#9aa888" opacity="0.6"/>
<ellipse cx="62.6" cy="117.0" rx="1.0" ry="1.9" fill="#3a7a32" opacity="0.6"/>
<ellipse cx="122.8" cy="63.4" rx="1.0" ry="1.4" fill="#c8d2c0" opacity="0.6"/>
<ellipse cx="82.7" cy="58.1" rx="1.4" ry="1.9" fill="#c8d2c0" opacity="0.6"/>
<ellipse cx="51.9" cy="97.1" rx="0.6" ry="1.9" fill="#5aa048" opacity="0.6"/>
<ellipse cx="58.8" cy="100.5" rx="1.3" ry="1.1" fill="#7a8a40" opacity="0.6"/>
<ellipse cx="86.0" cy="99.0" rx="1.3" ry="1.3" fill="#1a2a16" opacity="0.6"/>
<ellipse cx="87.7" cy="49.2" rx="1.1" ry="1.0" fill="#b0b890" opacity="0.6"/>
<ellipse cx="116.9" cy="116.5" rx="0.8" ry="1.3" fill="#6a6a40" opacity="0.6"/>
<ellipse cx="57.8" cy="58.5" rx="0.7" ry="1.3" fill="#c0c8b0" opacity="0.6"/>
<ellipse cx="94.1" cy="50.7" rx="0.7" ry="1.7" fill="#b0b890" opacity="0.6"/>
<ellipse cx="118.2" cy="92.6" rx="1.2" ry="1.2" fill="#2a3020" opacity="0.6"/>
<ellipse cx="133.8" cy="59.2" rx="1.7" ry="1.7" fill="#2a3020" opacity="0.6"/>
<ellipse cx="121.5" cy="64.3" rx="1.1" ry="2.0" fill="#9aa888" opacity="0.6"/>
<ellipse cx="130.6" cy="61.8" rx="1.6" ry="0.7" fill="#2a3020" opacity="0.6"/>
<ellipse cx="79.8" cy="114.4" rx="1.6" ry="1.0" fill="#3a7a32" opacity="0.6"/>
<ellipse cx="121.6" cy="59.9" rx="1.6" ry="0.9" fill="#6a7a50" opacity="0.6"/>
<ellipse cx="71.9" cy="92.1" rx="0.6" ry="0.9" fill="#68b055" opacity="0.6"/>
<ellipse cx="62.7" cy="130.4" rx="1.6" ry="0.9" fill="#142a12" opacity="0.6"/>
<ellipse cx="118.8" cy="57.3" rx="1.3" ry="1.1" fill="#6a7a50" opacity="0.6"/>
<ellipse cx="126.8" cy="96.5" rx="1.6" ry="0.8" fill="#202818" opacity="0.6"/>
<ellipse cx="137.6" cy="103.2" rx="1.5" ry="1.0" fill="#6a6a40" opacity="0.6"/>
<ellipse cx="137.3" cy="98.5" rx="1.4" ry="1.3" fill="#6a6a40" opacity="0.6"/>
<ellipse cx="64.1" cy="113.3" rx="1.5" ry="1.0" fill="#4f9a45" opacity="0.6"/>
<ellipse cx="105.7" cy="134.7" rx="1.3" ry="1.1" fill="#202818" opacity="0.6"/>
<ellipse cx="48.4" cy="50.1" rx="1.3" ry="1.2" fill="#2a3020" opacity="0.6"/>
<ellipse cx="94.3" cy="126.8" rx="0.8" ry="1.6" fill="#2a3020" opacity="0.6"/>
<ellipse cx="50.2" cy="47.3" rx="0.7" ry="1.1" fill="#c0c8b0" opacity="0.6"/>
<ellipse cx="68.4" cy="99.0" rx="0.8" ry="1.5" fill="#7a8a40" opacity="0.6"/>
<ellipse cx="90.9" cy="59.1" rx="0.9" ry="0.8" fill="#9aa888" opacity="0.6"/>
<ellipse cx="56.8" cy="103.9" rx="1.5" ry="1.2" fill="#5aa048" opacity="0.6"/>
<ellipse cx="72.0" cy="48.1" rx="1.2" ry="1.1" fill="#b0b890" opacity="0.6"/>
<ellipse cx="106.3" cy="86.6" rx="1.4" ry="1.0" fill="#8a8a58" opacity="0.6"/>
<ellipse cx="129.5" cy="51.0" rx="1.0" ry="1.0" fill="#6a7a50" opacity="0.6"/>
<ellipse cx="53.5" cy="116.4" rx="1.2" ry="2.0" fill="#4f9a45" opacity="0.6"/>
<ellipse cx="61.0" cy="64.9" rx="1.2" ry="1.6" fill="#4a5a38" opacity="0.6"/>
<ellipse cx="121.4" cy="62.6" rx="0.9" ry="0.7" fill="#3a4a30" opacity="0.6"/>
<ellipse cx="128.2" cy="116.8" rx="0.6" ry="1.9" fill="#3a4a2a" opacity="0.6"/>
<ellipse cx="115.3" cy="88.5" rx="1.1" ry="0.9" fill="#3a4a2a" opacity="0.6"/>
<ellipse cx="57.7" cy="67.8" rx="1.0" ry="1.7" fill="#2a3020" opacity="0.6"/>
<ellipse cx="110.8" cy="122.3" rx="0.9" ry="1.4" fill="#3a4a2a" opacity="0.6"/>
<ellipse cx="87.4" cy="117.3" rx="0.9" ry="1.6" fill="#7a8a40" opacity="0.6"/>
<ellipse cx="135.1" cy="66.4" rx="0.6" ry="1.0" fill="#9aa888" opacity="0.6"/>
<ellipse cx="69.4" cy="113.3" rx="1.4" ry="1.1" fill="#1a2014" opacity="0.6"/>
<ellipse cx="127.4" cy="76.3" rx="1.6" ry="1.5" fill="#c8d2c0" opacity="0.6"/>
<ellipse cx="110.6" cy="106.3" rx="1.1" ry="1.9" fill="#8a8a58" opacity="0.6"/>
<ellipse cx="111.0" cy="123.4" rx="1.4" ry="1.5" fill="#6a6a40" opacity="0.6"/>
<ellipse cx="75.9" cy="66.0" rx="0.7" ry="2.0" fill="#b0b890" opacity="0.6"/>
<ellipse cx="61.2" cy="49.5" rx="1.6" ry="1.1" fill="#2a3020" opacity="0.6"/>
<ellipse cx="61.0" cy="49.7" rx="1.4" ry="1.6" fill="#2a3020" opacity="0.6"/>
<ellipse cx="110.9" cy="112.7" rx="1.2" ry="1.1" fill="#2a3020" opacity="0.6"/>
<ellipse cx="121.8" cy="120.0" rx="0.7" ry="1.9" fill="#8a8a58" opacity="0.6"/>
<ellipse cx="130.5" cy="131.1" rx="0.8" ry="0.8" fill="#2a3020" opacity="0.6"/>
<ellipse cx="51.3" cy="122.5" rx="1.3" ry="1.8" fill="#5aa048" opacity="0.6"/>
<ellipse cx="105.0" cy="72.7" rx="0.7" ry="1.7" fill="#dfe6da" opacity="0.6"/>
<ellipse cx="66.6" cy="75.5" rx="0.6" ry="1.0" fill="#c0c8b0" opacity="0.6"/>
<ellipse cx="73.6" cy="110.8" rx="1.0" ry="2.0" fill="#68b055" opacity="0.6"/>
<ellipse cx="93.5" cy="122.9" rx="0.6" ry="1.2" fill="#202818" opacity="0.6"/>
<ellipse cx="87.5" cy="115.9" rx="1.4" ry="1.4" fill="#68b055" opacity="0.6"/>
<ellipse cx="67.7" cy="123.8" rx="1.5" ry="0.9" fill="#4f9a45" opacity="0.6"/>
<ellipse cx="48.3" cy="65.1" rx="1.7" ry="0.6" fill="#8a9870" opacity="0.6"/>
<ellipse cx="92.4" cy="90.8" rx="0.8" ry="1.3" fill="#3a4a2a" opacity="0.6"/>
<ellipse cx="79.4" cy="121.1" rx="1.6" ry="1.0" fill="#68b055" opacity="0.6"/>
<ellipse cx="67.5" cy="109.4" rx="0.7" ry="1.6" fill="#1a2a16" opacity="0.6"/>
<ellipse cx="55.5" cy="117.2" rx="1.5" ry="1.5" fill="#142a12" opacity="0.6"/>
<ellipse cx="80.2" cy="82.8" rx="1.6" ry="0.7" fill="#3a4a30" opacity="0.6"/>
<ellipse cx="128.2" cy="49.3" rx="0.9" ry="2.0" fill="#c8d2c0" opacity="0.6"/>
<ellipse cx="93.3" cy="80.9" rx="0.9" ry="1.3" fill="#9aa888" opacity="0.6"/>
<ellipse cx="96.0" cy="114.2" rx="1.3" ry="1.1" fill="#3a4a2a" opacity="0.6"/>
<ellipse cx="77.6" cy="60.9" rx="1.3" ry="1.7" fill="#2a3020" opacity="0.6"/>
<ellipse cx="63.5" cy="86.2" rx="1.2" ry="0.8" fill="#3a4a2a" opacity="0.6"/>
<ellipse cx="89.8" cy="125.9" rx="0.8" ry="1.1" fill="#3a7a32" opacity="0.6"/>
<ellipse cx="111.5" cy="122.2" rx="0.8" ry="1.0" fill="#2a3020" opacity="0.6"/>
<ellipse cx="77.6" cy="93.6" rx="1.0" ry="0.9" fill="#3a7a32" opacity="0.6"/>
<ellipse cx="136.0" cy="112.0" rx="1.7" ry="0.8" fill="#2a3020" opacity="0.6"/>
<ellipse cx="82.8" cy="134.7" rx="1.4" ry="1.3" fill="#5aa048" opacity="0.6"/>
<ellipse cx="65.9" cy="103.9" rx="0.8" ry="1.2" fill="#4f9a45" opacity="0.6"/>
<ellipse cx="51.3" cy="82.6" rx="1.4" ry="1.4" fill="#8a9870" opacity="0.6"/>
<ellipse cx="105.1" cy="88.3" rx="1.3" ry="1.2" fill="#2a3020" opacity="0.6"/>
<ellipse cx="114.9" cy="127.9" rx="1.2" ry="1.7" fill="#6a6a40" opacity="0.6"/>
<ellipse cx="86.1" cy="67.4" rx="1.6" ry="1.8" fill="#2a3020" opacity="0.6"/>
<ellipse cx="111.2" cy="123.0" rx="1.3" ry="1.3" fill="#3a4a2a" opacity="0.6"/>
<ellipse cx="76.4" cy="103.0" rx="1.1" ry="1.8" fill="#4f9a45" opacity="0.6"/>
<ellipse cx="112.4" cy="103.1" rx="1.1" ry="1.3" fill="#4a5030" opacity="0.6"/>
<ellipse cx="104.1" cy="83.5" rx="1.6" ry="0.9" fill="#3a4a2a" opacity="0.6"/>
<ellipse cx="107.1" cy="116.4" rx="1.1" ry="2.1" fill="#6a6a40" opacity="0.6"/>
<ellipse cx="51.6" cy="95.5" rx="1.5" ry="2.0" fill="#3a7a32" opacity="0.6"/>
<ellipse cx="94.9" cy="56.1" rx="1.2" ry="1.7" fill="#b0b890" opacity="0.6"/>
<ellipse cx="94.3" cy="104.0" rx="1.2" ry="1.2" fill="#3a4a2a" opacity="0.6"/>
<ellipse cx="133.5" cy="65.8" rx="1.0" ry="1.7" fill="#b0b890" opacity="0.6"/>
<ellipse cx="59.2" cy="134.7" rx="0.7" ry="1.0" fill="#68b055" opacity="0.6"/>
<ellipse cx="84.2" cy="48.3" rx="1.1" ry="1.6" fill="#3a4a30" opacity="0.6"/>
<ellipse cx="79.9" cy="70.7" rx="1.4" ry="2.0" fill="#c8d2c0" opacity="0.6"/>
<ellipse cx="95.6" cy="66.6" rx="1.0" ry="0.9" fill="#2a3020" opacity="0.6"/>
<ellipse cx="59.8" cy="116.2" rx="1.3" ry="1.3" fill="#5aa048" opacity="0.6"/>
<ellipse cx="98.8" cy="67.2" rx="1.0" ry="1.6" fill="#9aa888" opacity="0.6"/>
<ellipse cx="121.9" cy="119.7" rx="0.9" ry="1.4" fill="#6a6a40" opacity="0.6"/>
<ellipse cx="59.5" cy="121.3" rx="1.5" ry="1.0" fill="#68b055" opacity="0.6"/>
<ellipse cx="82.1" cy="69.7" rx="0.8" ry="0.6" fill="#3a4a30" opacity="0.6"/>
<ellipse cx="113.2" cy="72.1" rx="0.9" ry="1.3" fill="#c8d2c0" opacity="0.6"/>
<ellipse cx="86.8" cy="103.8" rx="1.0" ry="2.0" fill="#142a12" opacity="0.6"/>
<ellipse cx="125.1" cy="52.2" rx="1.6" ry="1.8" fill="#2a3020" opacity="0.6"/>
<ellipse cx="60.8" cy="121.1" rx="0.6" ry="0.6" fill="#142a12" opacity="0.6"/>
<ellipse cx="133.9" cy="105.5" rx="0.7" ry="0.8" fill="#4a5030" opacity="0.6"/>
<ellipse cx="69.2" cy="116.2" rx="0.8" ry="2.0" fill="#68b055" opacity="0.6"/>
<ellipse cx="119.5" cy="62.0" rx="1.3" ry="1.8" fill="#9aa888" opacity="0.6"/>
<ellipse cx="108.4" cy="126.7" rx="1.5" ry="0.9" fill="#3a4a2a" opacity="0.6"/>
<ellipse cx="110.6" cy="94.3" rx="1.1" ry="1.9" fill="#3a4a2a" opacity="0.6"/>
<ellipse cx="98.2" cy="70.6" rx="0.8" ry="1.3" fill="#c8d2c0" opacity="0.6"/>
<ellipse cx="53.5" cy="88.7" rx="1.1" ry="1.3" fill="#2a3020" opacity="0.6"/>
<ellipse cx="96.8" cy="123.9" rx="1.5" ry="1.3" fill="#2a3020" opacity="0.6"/>
<ellipse cx="98.8" cy="106.3" rx="1.0" ry="1.2" fill="#8a8a58" opacity="0.6"/>
<ellipse cx="134.7" cy="53.8" rx="1.3" ry="0.6" fill="#b0b890" opacity="0.6"/>
<ellipse cx="103.1" cy="107.9" rx="1.0" ry="2.1" fill="#8a8a58" opacity="0.6"/>
<ellipse cx="94.2" cy="90.2" rx="0.6" ry="1.7" fill="#8a8a58" opacity="0.6"/>
<ellipse cx="104.5" cy="77.2" rx="1.0" ry="1.3" fill="#9aa888" opacity="0.6"/>
<ellipse cx="95.5" cy="115.7" rx="1.1" ry="1.2" fill="#4a5030" opacity="0.6"/>
<ellipse cx="98.1" cy="120.7" rx="1.5" ry="1.2" fill="#4a5030" opacity="0.6"/>
<ellipse cx="93.5" cy="71.3" rx="1.7" ry="1.6" fill="#6a7a50" opacity="0.6"/>
<ellipse cx="119.5" cy="76.5" rx="0.9" ry="1.5" fill="#3a4a30" opacity="0.6"/>
<ellipse cx="105.3" cy="116.9" rx="1.4" ry="1.9" fill="#2a3020" opacity="0.6"/>
<ellipse cx="97.3" cy="51.5" rx="0.6" ry="0.9" fill="#3a4a30" opacity="0.6"/>
<ellipse cx="131.1" cy="101.3" rx="1.5" ry="2.0" fill="#202818" opacity="0.6"/>
<ellipse cx="103.3" cy="102.0" rx="1.4" ry="1.5" fill="#202818" opacity="0.6"/>
<ellipse cx="109.5" cy="66.0" rx="1.1" ry="1.7" fill="#b0b890" opacity="0.6"/>
<ellipse cx="57.3" cy="63.2" rx="1.5" ry="2.0" fill="#2a3020" opacity="0.6"/>
<ellipse cx="107.2" cy="79.9" rx="1.5" ry="1.4" fill="#2a3020" opacity="0.6"/>
<ellipse cx="71.4" cy="74.0" rx="1.0" ry="1.2" fill="#3a4a30" opacity="0.6"/>
<ellipse cx="106.0" cy="130.2" rx="1.2" ry="0.7" fill="#2a3020" opacity="0.6"/>
<ellipse cx="58.9" cy="119.2" rx="1.6" ry="1.3" fill="#7a8a40" opacity="0.6"/>
<ellipse cx="49.5" cy="81.6" rx="1.6" ry="2.1" fill="#4a5a38" opacity="0.6"/>
<ellipse cx="91.0" cy="83.8" rx="1.3" ry="0.9" fill="#2a3020" opacity="0.6"/>
<ellipse cx="61.9" cy="48.5" rx="1.4" ry="0.8" fill="#2a3020" opacity="0.6"/>
<ellipse cx="135.2" cy="54.9" rx="0.7" ry="0.6" fill="#9aa888" opacity="0.6"/>
<ellipse cx="112.9" cy="68.7" rx="0.8" ry="0.7" fill="#2a3020" opacity="0.6"/>
<ellipse cx="117.9" cy="110.6" rx="1.4" ry="0.7" fill="#8a8a58" opacity="0.6"/>
<ellipse cx="104.8" cy="110.2" rx="1.6" ry="1.0" fill="#6a6a40" opacity="0.6"/>
<ellipse cx="135.0" cy="110.9" rx="0.6" ry="1.6" fill="#2a3020" opacity="0.6"/>
<ellipse cx="121.8" cy="54.2" rx="1.4" ry="0.8" fill="#3a4a30" opacity="0.6"/>
<ellipse cx="125.7" cy="90.4" rx="1.0" ry="1.5" fill="#2a3020" opacity="0.6"/>
<ellipse cx="87.7" cy="107.3" rx="1.5" ry="1.1" fill="#3a7a32" opacity="0.6"/>
<ellipse cx="106.2" cy="103.1" rx="1.0" ry="1.8" fill="#6a6a40" opacity="0.6"/>
<ellipse cx="133.2" cy="116.9" rx="0.9" ry="0.7" fill="#202818" opacity="0.6"/>
<ellipse cx="135.9" cy="109.7" rx="1.0" ry="1.5" fill="#3a4a2a" opacity="0.6"/>
<ellipse cx="136.2" cy="121.1" rx="0.9" ry="1.2" fill="#202818" opacity="0.6"/>
<ellipse cx="128.1" cy="80.6" rx="1.3" ry="1.9" fill="#b0b890" opacity="0.6"/>
<ellipse cx="120.9" cy="72.3" rx="0.9" ry="1.2" fill="#dfe6da" opacity="0.6"/>
<ellipse cx="101.0" cy="119.7" rx="0.6" ry="1.8" fill="#8a8a58" opacity="0.6"/>
<ellipse cx="121.3" cy="124.3" rx="0.9" ry="1.9" fill="#202818" opacity="0.6"/>
<ellipse cx="120.8" cy="108.0" rx="1.0" ry="0.7" fill="#8a8a58" opacity="0.6"/>
<ellipse cx="98.0" cy="118.1" rx="1.4" ry="2.0" fill="#4a5030" opacity="0.6"/>
<ellipse cx="69.3" cy="101.1" rx="1.1" ry="0.9" fill="#142a12" opacity="0.6"/>
<ellipse cx="71.1" cy="114.0" rx="1.1" ry="0.7" fill="#5aa048" opacity="0.6"/>
<ellipse cx="120.8" cy="115.8" rx="1.2" ry="1.9" fill="#4a5030" opacity="0.6"/>
<ellipse cx="127.9" cy="93.5" rx="1.2" ry="0.9" fill="#6a6a40" opacity="0.6"/>
<ellipse cx="65.5" cy="63.2" rx="1.0" ry="1.4" fill="#4a5a38" opacity="0.6"/>
<ellipse cx="84.4" cy="93.1" rx="0.6" ry="2.1" fill="#3a7a32" opacity="0.6"/>
<ellipse cx="81.9" cy="56.5" rx="1.5" ry="0.8" fill="#b0b890" opacity="0.6"/>
<ellipse cx="101.9" cy="77.8" rx="0.6" ry="0.7" fill="#6a7a50" opacity="0.6"/>
<ellipse cx="137.3" cy="124.2" rx="1.2" ry="1.0" fill="#6a6a40" opacity="0.6"/>
<ellipse cx="118.3" cy="85.0" rx="1.4" ry="1.8" fill="#8a8a58" opacity="0.6"/>
<ellipse cx="134.9" cy="69.7" rx="0.8" ry="0.9" fill="#dfe6da" opacity="0.6"/>
<ellipse cx="55.7" cy="51.6" rx="1.6" ry="1.3" fill="#4a5a38" opacity="0.6"/>
<ellipse cx="133.4" cy="128.1" rx="1.3" ry="1.2" fill="#2a3020" opacity="0.6"/>
<ellipse cx="59.0" cy="132.5" rx="1.2" ry="1.6" fill="#68b055" opacity="0.6"/>
<ellipse cx="134.3" cy="106.7" rx="1.1" ry="0.8" fill="#6a6a40" opacity="0.6"/>
<ellipse cx="135.1" cy="135.4" rx="0.6" ry="1.0" fill="#4a5030" opacity="0.6"/>
<ellipse cx="79.9" cy="127.4" rx="1.5" ry="0.7" fill="#1a2014" opacity="0.6"/>
<ellipse cx="119.0" cy="110.3" rx="1.7" ry="0.7" fill="#202818" opacity="0.6"/>
<ellipse cx="61.2" cy="114.3" rx="1.3" ry="1.0" fill="#1a2014" opacity="0.6"/>
<ellipse cx="101.4" cy="114.6" rx="1.0" ry="1.0" fill="#2a3020" opacity="0.6"/>
<ellipse cx="59.4" cy="89.9" rx="0.9" ry="0.8" fill="#4a5030" opacity="0.6"/>
<ellipse cx="109.2" cy="48.2" rx="0.8" ry="0.7" fill="#2a3020" opacity="0.6"/>
<ellipse cx="131.7" cy="66.7" rx="1.6" ry="1.9" fill="#9aa888" opacity="0.6"/>
<ellipse cx="60.8" cy="86.9" rx="1.6" ry="1.9" fill="#2a3020" opacity="0.6"/>
<ellipse cx="104.8" cy="87.4" rx="1.5" ry="1.3" fill="#6a6a40" opacity="0.6"/>
<ellipse cx="104.7" cy="59.8" rx="0.7" ry="1.7" fill="#c8d2c0" opacity="0.6"/>
<ellipse cx="98.0" cy="60.0" rx="0.9" ry="1.2" fill="#9aa888" opacity="0.6"/>
<ellipse cx="62.2" cy="71.2" rx="1.0" ry="0.9" fill="#8a9870" opacity="0.6"/>
<ellipse cx="92.4" cy="75.4" rx="0.7" ry="2.1" fill="#9aa888" opacity="0.6"/>
<ellipse cx="53.3" cy="126.8" rx="0.8" ry="1.3" fill="#142a12" opacity="0.6"/>
<ellipse cx="74.0" cy="70.0" rx="1.0" ry="2.1" fill="#c8d2c0" opacity="0.6"/>
<ellipse cx="138.0" cy="129.4" rx="0.9" ry="1.9" fill="#2a3020" opacity="0.6"/>
<ellipse cx="53.4" cy="111.8" rx="1.7" ry="0.6" fill="#68b055" opacity="0.6"/>
<ellipse cx="120.8" cy="77.4" rx="0.6" ry="1.8" fill="#dfe6da" opacity="0.6"/>
<ellipse cx="95.6" cy="63.6" rx="1.6" ry="0.9" fill="#6a7a50" opacity="0.6"/>
<ellipse cx="99.6" cy="59.4" rx="1.4" ry="1.7" fill="#c8d2c0" opacity="0.6"/>
<ellipse cx="65.9" cy="54.2" rx="1.3" ry="1.3" fill="#2a3020" opacity="0.6"/>
<ellipse cx="72.8" cy="65.4" rx="1.4" ry="1.8" fill="#b0b890" opacity="0.6"/>
<ellipse cx="100.7" cy="65.1" rx="1.4" ry="1.2" fill="#dfe6da" opacity="0.6"/>
<ellipse cx="113.1" cy="52.0" rx="1.0" ry="1.9" fill="#2a3020" opacity="0.6"/>
<ellipse cx="126.0" cy="91.0" rx="1.6" ry="1.3" fill="#2a3020" opacity="0.6"/>
<ellipse cx="126.7" cy="70.8" rx="1.5" ry="1.2" fill="#c8d2c0" opacity="0.6"/>
<ellipse cx="62.9" cy="80.1" rx="0.6" ry="1.4" fill="#4a5a38" opacity="0.6"/>
<ellipse cx="88.3" cy="93.0" rx="1.4" ry="1.8" fill="#4f9a45" opacity="0.6"/>
<ellipse cx="126.1" cy="75.7" rx="1.0" ry="1.7" fill="#b0b890" opacity="0.6"/>
<ellipse cx="53.7" cy="124.8" rx="1.1" ry="1.4" fill="#1a2014" opacity="0.6"/>
<ellipse cx="95.9" cy="94.9" rx="1.7" ry="0.9" fill="#2a3020" opacity="0.6"/>
<ellipse cx="64.6" cy="56.2" rx="1.5" ry="0.6" fill="#c0c8b0" opacity="0.6"/>
<ellipse cx="56.9" cy="109.3" rx="0.6" ry="1.5" fill="#3a7a32" opacity="0.6"/>
<ellipse cx="100.1" cy="93.6" rx="0.7" ry="1.9" fill="#3a4a2a" opacity="0.6"/>
<ellipse cx="112.7" cy="51.1" rx="1.1" ry="1.4" fill="#dfe6da" opacity="0.6"/>
<ellipse cx="73.4" cy="58.0" rx="0.8" ry="1.5" fill="#3a4a30" opacity="0.6"/>
<ellipse cx="125.7" cy="60.2" rx="1.4" ry="0.8" fill="#b0b890" opacity="0.6"/>
<ellipse cx="122.5" cy="130.5" rx="1.1" ry="1.9" fill="#6a6a40" opacity="0.6"/>
<ellipse cx="95.5" cy="82.3" rx="1.5" ry="1.1" fill="#9aa888" opacity="0.6"/>
<ellipse cx="69.8" cy="76.9" rx="1.7" ry="1.8" fill="#c0c8b0" opacity="0.6"/>
<ellipse cx="130.3" cy="119.6" rx="0.7" ry="1.4" fill="#8a8a58" opacity="0.6"/>
<ellipse cx="134.4" cy="130.3" rx="1.1" ry="1.5" fill="#4a5030" opacity="0.6"/>
<ellipse cx="81.0" cy="94.3" rx="1.1" ry="1.4" fill="#4f9a45" opacity="0.6"/>
<ellipse cx="50.1" cy="59.5" rx="1.5" ry="2.0" fill="#8a9870" opacity="0.6"/>
<ellipse cx="105.2" cy="119.1" rx="1.6" ry="0.7" fill="#8a8a58" opacity="0.6"/>
<ellipse cx="105.9" cy="70.8" rx="0.9" ry="1.4" fill="#b0b890" opacity="0.6"/>
<ellipse cx="131.4" cy="102.4" rx="1.2" ry="1.3" fill="#4a5030" opacity="0.6"/>
<ellipse cx="133.8" cy="72.7" rx="1.3" ry="0.8" fill="#3a4a30" opacity="0.6"/>
<ellipse cx="101.7" cy="132.2" rx="0.9" ry="1.3" fill="#202818" opacity="0.6"/>
<ellipse cx="96.2" cy="60.3" rx="0.7" ry="1.0" fill="#dfe6da" opacity="0.6"/>
<ellipse cx="84.8" cy="72.8" rx="0.7" ry="1.4" fill="#c8d2c0" opacity="0.6"/>
<ellipse cx="123.8" cy="101.4" rx="1.3" ry="0.9" fill="#202818" opacity="0.6"/>
<ellipse cx="112.1" cy="88.1" rx="1.3" ry="1.3" fill="#202818" opacity="0.6"/>
<ellipse cx="76.1" cy="68.7" rx="1.2" ry="1.2" fill="#c8d2c0" opacity="0.6"/>
<ellipse cx="100.9" cy="48.2" rx="1.5" ry="1.0" fill="#3a4a30" opacity="0.6"/>
<ellipse cx="98.3" cy="90.8" rx="1.7" ry="1.0" fill="#4a5030" opacity="0.6"/>
<ellipse cx="117.7" cy="61.2" rx="1.6" ry="1.3" fill="#dfe6da" opacity="0.6"/>
<ellipse cx="53.8" cy="81.6" rx="1.4" ry="0.8" fill="#c0c8b0" opacity="0.6"/>
<ellipse cx="68.5" cy="132.5" rx="0.8" ry="1.1" fill="#142a12" opacity="0.6"/>
<ellipse cx="79.9" cy="107.2" rx="1.5" ry="1.8" fill="#7a8a40" opacity="0.6"/>
<ellipse cx="94.8" cy="112.9" rx="1.4" ry="1.3" fill="#3a4a2a" opacity="0.6"/>
<ellipse cx="118.8" cy="110.2" rx="0.7" ry="1.9" fill="#8a8a58" opacity="0.6"/>
<ellipse cx="48.6" cy="115.2" rx="1.1" ry="2.0" fill="#7a8a40" opacity="0.6"/>
<ellipse cx="99.7" cy="84.3" rx="1.6" ry="1.5" fill="#3a4a2a" opacity="0.6"/>
<ellipse cx="82.4" cy="87.4" rx="1.4" ry="1.0" fill="#6a6a40" opacity="0.6"/>
<ellipse cx="83.4" cy="96.5" rx="1.0" ry="1.8" fill="#1a2a16" opacity="0.6"/>
<ellipse cx="124.7" cy="91.6" rx="0.8" ry="1.1" fill="#6a6a40" opacity="0.6"/>
<ellipse cx="61.2" cy="98.3" rx="0.7" ry="2.0" fill="#7a8a40" opacity="0.6"/>
<ellipse cx="77.3" cy="122.2" rx="1.7" ry="0.9" fill="#5aa048" opacity="0.6"/>
<ellipse cx="86.6" cy="128.1" rx="0.7" ry="1.4" fill="#4f9a45" opacity="0.6"/>
<ellipse cx="93.0" cy="129.0" rx="1.2" ry="2.1" fill="#5aa048" opacity="0.6"/>
<ellipse cx="94.8" cy="93.1" rx="1.0" ry="1.1" fill="#3a4a2a" opacity="0.6"/>
<ellipse cx="101.7" cy="78.3" rx="1.3" ry="1.4" fill="#9aa888" opacity="0.6"/>
<ellipse cx="57.1" cy="80.4" rx="1.2" ry="1.5" fill="#c0c8b0" opacity="0.6"/>
<ellipse cx="127.4" cy="132.9" rx="1.1" ry="1.5" fill="#6a6a40" opacity="0.6"/>
<ellipse cx="137.9" cy="77.7" rx="1.5" ry="0.9" fill="#6a7a50" opacity="0.6"/>
<ellipse cx="76.8" cy="134.2" rx="1.2" ry="0.8" fill="#5aa048" opacity="0.6"/>
<ellipse cx="128.7" cy="108.5" rx="1.7" ry="1.9" fill="#3a4a2a" opacity="0.6"/>
<ellipse cx="86.1" cy="61.0" rx="1.2" ry="1.4" fill="#3a4a30" opacity="0.6"/>
<ellipse cx="65.1" cy="63.3" rx="1.3" ry="1.1" fill="#4a5a38" opacity="0.6"/>
<ellipse cx="137.6" cy="103.7" rx="1.1" ry="1.8" fill="#2a3020" opacity="0.6"/>
<ellipse cx="75.8" cy="108.6" rx="0.9" ry="1.9" fill="#4f9a45" opacity="0.6"/>
<ellipse cx="101.0" cy="106.6" rx="1.1" ry="1.4" fill="#4a5030" opacity="0.6"/>
<ellipse cx="72.1" cy="104.7" rx="1.7" ry="1.5" fill="#7a8a40" opacity="0.6"/>
<ellipse cx="85.2" cy="57.9" rx="1.4" ry="0.8" fill="#c8d2c0" opacity="0.6"/>
<ellipse cx="57.2" cy="62.3" rx="1.5" ry="1.5" fill="#4a5a38" opacity="0.6"/>
<ellipse cx="120.8" cy="52.6" rx="1.4" ry="1.1" fill="#dfe6da" opacity="0.6"/>
<ellipse cx="112.6" cy="78.6" rx="0.9" ry="0.7" fill="#c8d2c0" opacity="0.6"/>
<ellipse cx="129.5" cy="98.9" rx="1.1" ry="1.2" fill="#6a6a40" opacity="0.6"/>
<ellipse cx="53.1" cy="126.4" rx="1.7" ry="1.3" fill="#7a8a40" opacity="0.6"/>
<ellipse cx="104.0" cy="69.3" rx="1.6" ry="1.9" fill="#dfe6da" opacity="0.6"/>
<ellipse cx="76.5" cy="127.1" rx="0.9" ry="1.5" fill="#5aa048" opacity="0.6"/>
<ellipse cx="134.6" cy="91.2" rx="0.9" ry="1.2" fill="#8a8a58" opacity="0.6"/>
<ellipse cx="112.9" cy="66.8" rx="1.6" ry="1.3" fill="#3a4a30" opacity="0.6"/>
<ellipse cx="119.5" cy="68.8" rx="1.0" ry="0.9" fill="#c8d2c0" opacity="0.6"/>
<ellipse cx="135.6" cy="73.0" rx="0.7" ry="1.4" fill="#6a7a50" opacity="0.6"/>
<ellipse cx="82.9" cy="83.0" rx="0.7" ry="1.8" fill="#dfe6da" opacity="0.6"/>
<ellipse cx="79.8" cy="68.9" rx="0.9" ry="1.0" fill="#c8d2c0" opacity="0.6"/>
<ellipse cx="51.3" cy="106.2" rx="0.8" ry="1.7" fill="#68b055" opacity="0.6"/>
<ellipse cx="56.5" cy="71.1" rx="0.7" ry="1.3" fill="#8a9870" opacity="0.6"/>
<ellipse cx="123.5" cy="118.7" rx="1.0" ry="1.7" fill="#2a3020" opacity="0.6"/>
<ellipse cx="82.1" cy="132.4" rx="1.6" ry="1.4" fill="#3a7a32" opacity="0.6"/>
<ellipse cx="68.7" cy="87.4" rx="1.4" ry="1.0" fill="#2a3020" opacity="0.6"/>
<ellipse cx="129.2" cy="99.4" rx="0.9" ry="1.5" fill="#6a6a40" opacity="0.6"/>
<ellipse cx="67.3" cy="124.7" rx="1.2" ry="1.4" fill="#4f9a45" opacity="0.6"/>
<ellipse cx="72.5" cy="115.8" rx="1.3" ry="1.5" fill="#1a2a16" opacity="0.6"/>
<ellipse cx="76.2" cy="81.8" rx="0.8" ry="1.9" fill="#dfe6da" opacity="0.6"/>
<ellipse cx="77.1" cy="106.1" rx="1.2" ry="1.1" fill="#4f9a45" opacity="0.6"/>
<ellipse cx="93.2" cy="73.5" rx="0.9" ry="0.9" fill="#dfe6da" opacity="0.6"/>
<ellipse cx="59.6" cy="110.9" rx="1.0" ry="2.0" fill="#68b055" opacity="0.6"/>
<ellipse cx="117.9" cy="125.7" rx="0.7" ry="1.0" fill="#8a8a58" opacity="0.6"/>
<ellipse cx="50.9" cy="107.6" rx="1.0" ry="1.2" fill="#142a12" opacity="0.6"/>
<ellipse cx="107.5" cy="109.3" rx="1.5" ry="1.1" fill="#4a5030" opacity="0.6"/>
<ellipse cx="104.8" cy="63.3" rx="1.6" ry="1.7" fill="#dfe6da" opacity="0.6"/>
<ellipse cx="112.3" cy="50.7" rx="0.8" ry="0.9" fill="#dfe6da" opacity="0.6"/>
<ellipse cx="75.5" cy="81.0" rx="0.9" ry="1.6" fill="#dfe6da" opacity="0.6"/>
<ellipse cx="64.4" cy="121.8" rx="1.4" ry="1.0" fill="#7a8a40" opacity="0.6"/>
<ellipse cx="87.3" cy="108.0" rx="0.6" ry="1.9" fill="#68b055" opacity="0.6"/>
<ellipse cx="118.1" cy="72.6" rx="1.5" ry="1.5" fill="#dfe6da" opacity="0.6"/>
<ellipse cx="52.5" cy="68.9" rx="1.5" ry="0.9" fill="#2a3020" opacity="0.6"/>
<ellipse cx="130.5" cy="113.8" rx="1.4" ry="1.2" fill="#2a3020" opacity="0.6"/>
<ellipse cx="115.5" cy="120.9" rx="0.7" ry="2.0" fill="#4a5030" opacity="0.6"/>
<ellipse cx="86.4" cy="129.9" rx="1.4" ry="1.8" fill="#142a12" opacity="0.6"/>
<ellipse cx="104.7" cy="87.4" rx="1.4" ry="1.2" fill="#2a3020" opacity="0.6"/>
<ellipse cx="94.3" cy="129.7" rx="1.4" ry="0.7" fill="#2a3020" opacity="0.6"/>
<ellipse cx="111.4" cy="118.8" rx="1.2" ry="2.1" fill="#4a5030" opacity="0.6"/>
<ellipse cx="105.6" cy="95.5" rx="0.7" ry="1.1" fill="#4a5030" opacity="0.6"/>
<ellipse cx="85.2" cy="65.0" rx="0.8" ry="1.7" fill="#3a4a30" opacity="0.6"/>
<ellipse cx="108.5" cy="68.3" rx="1.2" ry="1.3" fill="#c8d2c0" opacity="0.6"/>
<ellipse cx="132.4" cy="78.4" rx="1.6" ry="0.8" fill="#3a4a30" opacity="0.6"/>
<ellipse cx="98.9" cy="76.8" rx="1.2" ry="1.7" fill="#2a3020" opacity="0.6"/>
<ellipse cx="63.4" cy="106.4" rx="1.1" ry="1.7" fill="#7a8a40" opacity="0.6"/>
<ellipse cx="123.0" cy="57.3" rx="1.0" ry="0.9" fill="#3a4a30" opacity="0.6"/>
<ellipse cx="53.6" cy="72.1" rx="1.4" ry="1.3" fill="#2a3020" opacity="0.6"/>
<ellipse cx="58.4" cy="76.0" rx="1.0" ry="0.9" fill="#c0c8b0" opacity="0.6"/>
<ellipse cx="54.7" cy="48.1" rx="1.4" ry="0.7" fill="#8a9870" opacity="0.6"/>
<ellipse cx="112.7" cy="134.3" rx="0.7" ry="1.3" fill="#202818" opacity="0.6"/>
<ellipse cx="87.3" cy="64.0" rx="0.6" ry="2.0" fill="#6a7a50" opacity="0.6"/>
<ellipse cx="106.2" cy="103.0" rx="1.3" ry="1.0" fill="#8a8a58" opacity="0.6"/>
<ellipse cx="70.3" cy="59.4" rx="1.5" ry="1.9" fill="#2a3020" opacity="0.6"/>
<ellipse cx="74.9" cy="63.6" rx="1.5" ry="2.0" fill="#b0b890" opacity="0.6"/>
<ellipse cx="63.4" cy="116.9" rx="1.4" ry="1.1" fill="#5aa048" opacity="0.6"/>
<ellipse cx="64.8" cy="120.6" rx="1.0" ry="1.4" fill="#68b055" opacity="0.6"/>
<ellipse cx="81.4" cy="121.1" rx="0.6" ry="1.5" fill="#3a7a32" opacity="0.6"/>
<ellipse cx="104.7" cy="120.1" rx="1.6" ry="2.0" fill="#3a4a2a" opacity="0.6"/>
<ellipse cx="92.7" cy="91.6" rx="0.9" ry="1.5" fill="#2a3020" opacity="0.6"/>
<ellipse cx="55.4" cy="108.3" rx="1.1" ry="2.1" fill="#3a7a32" opacity="0.6"/>
<ellipse cx="56.3" cy="50.7" rx="0.8" ry="1.7" fill="#c0c8b0" opacity="0.6"/>
<ellipse cx="48.5" cy="121.9" rx="1.5" ry="1.2" fill="#5aa048" opacity="0.6"/>
<ellipse cx="73.7" cy="106.0" rx="1.1" ry="1.1" fill="#7a8a40" opacity="0.6"/>
<ellipse cx="87.7" cy="106.4" rx="1.6" ry="0.8" fill="#5aa048" opacity="0.6"/>
<ellipse cx="74.8" cy="86.5" rx="1.0" ry="0.9" fill="#202818" opacity="0.6"/>
<ellipse cx="55.9" cy="75.9" rx="1.7" ry="2.0" fill="#c0c8b0" opacity="0.6"/>
<ellipse cx="126.1" cy="133.8" rx="1.3" ry="1.8" fill="#8a8a58" opacity="0.6"/>
<ellipse cx="53.6" cy="107.3" rx="0.9" ry="1.5" fill="#7a8a40" opacity="0.6"/>
<ellipse cx="134.0" cy="89.9" rx="0.9" ry="1.1" fill="#202818" opacity="0.6"/>
<ellipse cx="127.9" cy="49.6" rx="1.3" ry="1.3" fill="#c8d2c0" opacity="0.6"/>
<ellipse cx="55.9" cy="105.9" rx="1.2" ry="1.2" fill="#68b055" opacity="0.6"/>
<ellipse cx="95.9" cy="97.4" rx="0.7" ry="0.9" fill="#6a6a40" opacity="0.6"/>
<ellipse cx="128.3" cy="95.9" rx="1.5" ry="1.0" fill="#2a3020" opacity="0.6"/>
<ellipse cx="56.7" cy="94.3" rx="1.1" ry="1.4" fill="#68b055" opacity="0.6"/>
<ellipse cx="68.6" cy="98.1" rx="1.2" ry="1.5" fill="#4f9a45" opacity="0.6"/>
<ellipse cx="55.4" cy="83.4" rx="1.1" ry="1.9" fill="#2a3020" opacity="0.6"/>
<ellipse cx="97.8" cy="110.7" rx="0.7" ry="2.1" fill="#3a4a2a" opacity="0.6"/>
<ellipse cx="113.1" cy="56.2" rx="1.0" ry="0.9" fill="#2a3020" opacity="0.6"/>
<ellipse cx="134.6" cy="97.2" rx="0.8" ry="1.8" fill="#3a4a2a" opacity="0.6"/>
<ellipse cx="53.4" cy="68.2" rx="0.6" ry="1.5" fill="#c0c8b0" opacity="0.6"/>
<ellipse cx="67.4" cy="73.8" rx="1.1" ry="1.9" fill="#4a5a38" opacity="0.6"/>
<ellipse cx="104.1" cy="124.7" rx="1.6" ry="1.9" fill="#202818" opacity="0.6"/>
<ellipse cx="63.3" cy="113.4" rx="1.4" ry="1.6" fill="#68b055" opacity="0.6"/>
<ellipse cx="122.5" cy="58.0" rx="1.4" ry="2.0" fill="#3a4a30" opacity="0.6"/>
<ellipse cx="113.2" cy="51.0" rx="0.7" ry="1.4" fill="#b0b890" opacity="0.6"/>
<ellipse cx="120.5" cy="57.2" rx="1.3" ry="1.0" fill="#9aa888" opacity="0.6"/>
<ellipse cx="65.6" cy="86.9" rx="1.2" ry="0.8" fill="#8a8a58" opacity="0.6"/>
<ellipse cx="50.1" cy="56.9" rx="0.8" ry="1.4" fill="#8a9870" opacity="0.6"/>
<ellipse cx="74.3" cy="108.3" rx="0.8" ry="1.9" fill="#1a2a16" opacity="0.6"/>
<ellipse cx="96.7" cy="108.5" rx="1.6" ry="0.6" fill="#3a4a2a" opacity="0.6"/>
<ellipse cx="79.0" cy="60.5" rx="1.6" ry="1.8" fill="#6a7a50" opacity="0.6"/>
<ellipse cx="51.4" cy="63.3" rx="1.3" ry="1.2" fill="#8a9870" opacity="0.6"/>
<ellipse cx="91.0" cy="61.2" rx="1.0" ry="1.9" fill="#2a3020" opacity="0.6"/>
<ellipse cx="103.2" cy="53.9" rx="0.8" ry="1.9" fill="#3a4a30" opacity="0.6"/>
<ellipse cx="101.2" cy="51.0" rx="1.0" ry="1.3" fill="#c8d2c0" opacity="0.6"/>
<ellipse cx="100.1" cy="81.6" rx="0.6" ry="1.5" fill="#3a4a30" opacity="0.6"/>
<ellipse cx="78.2" cy="48.9" rx="1.7" ry="0.7" fill="#6a7a50" opacity="0.6"/>
<ellipse cx="61.3" cy="106.8" rx="0.9" ry="1.4" fill="#68b055" opacity="0.6"/>
<ellipse cx="71.8" cy="97.7" rx="1.7" ry="2.1" fill="#7a8a40" opacity="0.6"/>
<ellipse cx="51.3" cy="97.0" rx="1.6" ry="1.8" fill="#5aa048" opacity="0.6"/>
<ellipse cx="105.2" cy="103.6" rx="0.9" ry="1.8" fill="#6a6a40" opacity="0.6"/>
<ellipse cx="126.8" cy="130.6" rx="0.9" ry="1.7" fill="#3a4a2a" opacity="0.6"/>
<ellipse cx="114.8" cy="92.4" rx="1.0" ry="1.4" fill="#202818" opacity="0.6"/>
<ellipse cx="84.7" cy="52.5" rx="1.0" ry="2.1" fill="#3a4a30" opacity="0.6"/>
<ellipse cx="91.5" cy="79.8" rx="0.9" ry="1.1" fill="#c8d2c0" opacity="0.6"/>
<ellipse cx="60.4" cy="47.7" rx="1.1" ry="1.3" fill="#8a9870" opacity="0.6"/>
<ellipse cx="99.4" cy="74.0" rx="0.7" ry="1.1" fill="#c8d2c0" opacity="0.6"/>
<ellipse cx="76.0" cy="111.8" rx="1.6" ry="1.1" fill="#7a8a40" opacity="0.6"/>
<ellipse cx="131.1" cy="99.0" rx="0.8" ry="1.5" fill="#2a3020" opacity="0.6"/>
<ellipse cx="137.1" cy="78.9" rx="1.1" ry="1.9" fill="#2a3020" opacity="0.6"/>
<ellipse cx="54.3" cy="90.2" rx="0.9" ry="1.0" fill="#8a8a58" opacity="0.6"/>
<ellipse cx="50.3" cy="61.7" rx="1.4" ry="0.9" fill="#c0c8b0" opacity="0.6"/>
<ellipse cx="84.2" cy="64.9" rx="1.6" ry="1.6" fill="#b0b890" opacity="0.6"/>
<ellipse cx="65.9" cy="112.4" rx="1.3" ry="0.7" fill="#1a2014" opacity="0.6"/>
<ellipse cx="121.1" cy="125.0" rx="0.8" ry="0.9" fill="#6a6a40" opacity="0.6"/>
<ellipse cx="96.5" cy="125.0" rx="1.6" ry="0.9" fill="#202818" opacity="0.6"/>
<ellipse cx="77.6" cy="113.8" rx="1.0" ry="1.6" fill="#142a12" opacity="0.6"/>
<ellipse cx="78.6" cy="52.2" rx="0.7" ry="1.5" fill="#3a4a30" opacity="0.6"/>
<ellipse cx="78.3" cy="91.1" rx="0.9" ry="1.3" fill="#202818" opacity="0.6"/>
<ellipse cx="49.4" cy="129.5" rx="1.7" ry="0.7" fill="#7a8a40" opacity="0.6"/>
<ellipse cx="103.5" cy="111.5" rx="0.7" ry="0.8" fill="#4a5030" opacity="0.6"/>
<ellipse cx="61.0" cy="115.4" rx="1.5" ry="1.2" fill="#4f9a45" opacity="0.6"/>
<ellipse cx="96.7" cy="99.5" rx="1.3" ry="1.5" fill="#202818" opacity="0.6"/>
<ellipse cx="78.0" cy="113.1" rx="1.4" ry="1.7" fill="#68b055" opacity="0.6"/>
<ellipse cx="118.0" cy="74.6" rx="1.7" ry="1.3" fill="#2a3020" opacity="0.6"/>
<ellipse cx="73.2" cy="93.7" rx="0.7" ry="0.6" fill="#1a2014" opacity="0.6"/>
<ellipse cx="91.0" cy="105.4" rx="1.0" ry="2.1" fill="#5aa048" opacity="0.6"/>
<ellipse cx="68.7" cy="114.4" rx="0.6" ry="0.8" fill="#4f9a45" opacity="0.6"/>
<ellipse cx="53.6" cy="91.8" rx="0.8" ry="2.0" fill="#202818" opacity="0.6"/>
<ellipse cx="81.1" cy="60.4" rx="1.4" ry="2.0" fill="#c8d2c0" opacity="0.6"/>
<ellipse cx="62.8" cy="49.7" rx="0.9" ry="2.1" fill="#8a9870" opacity="0.6"/>
<ellipse cx="93.1" cy="103.7" rx="1.5" ry="1.3" fill="#68b055" opacity="0.6"/>
<ellipse cx="77.3" cy="127.5" rx="1.4" ry="0.7" fill="#4f9a45" opacity="0.6"/>
<ellipse cx="106.3" cy="82.9" rx="0.7" ry="1.4" fill="#9aa888" opacity="0.6"/>
<ellipse cx="85.1" cy="128.9" rx="1.3" ry="0.9" fill="#1a2014" opacity="0.6"/>
<ellipse cx="70.9" cy="70.4" rx="0.9" ry="0.9" fill="#6a7a50" opacity="0.6"/>
<ellipse cx="116.5" cy="104.3" rx="1.7" ry="0.9" fill="#4a5030" opacity="0.6"/>
<ellipse cx="99.5" cy="61.0" rx="1.6" ry="1.0" fill="#9aa888" opacity="0.6"/>
<ellipse cx="115.8" cy="120.3" rx="1.0" ry="1.3" fill="#4a5030" opacity="0.6"/>
<ellipse cx="128.4" cy="61.5" rx="1.3" ry="1.3" fill="#b0b890" opacity="0.6"/>
<ellipse cx="100.3" cy="125.7" rx="1.6" ry="1.1" fill="#4a5030" opacity="0.6"/>
<ellipse cx="118.4" cy="123.9" rx="1.6" ry="2.1" fill="#4a5030" opacity="0.6"/>
<ellipse cx="75.0" cy="49.3" rx="1.7" ry="0.6" fill="#dfe6da" opacity="0.6"/>
<ellipse cx="130.2" cy="60.5" rx="0.7" ry="0.9" fill="#2a3020" opacity="0.6"/>
<ellipse cx="109.6" cy="55.1" rx="1.6" ry="1.7" fill="#3a4a30" opacity="0.6"/>
<ellipse cx="127.6" cy="134.3" rx="0.9" ry="1.8" fill="#2a3020" opacity="0.6"/>
<ellipse cx="110.3" cy="50.5" rx="0.9" ry="1.2" fill="#6a7a50" opacity="0.6"/>
<ellipse cx="57.6" cy="48.9" rx="0.9" ry="1.9" fill="#8a9870" opacity="0.6"/>
<ellipse cx="59.0" cy="90.5" rx="1.1" ry="0.9" fill="#2a3020" opacity="0.6"/>
<ellipse cx="109.9" cy="60.3" rx="1.2" ry="0.8" fill="#2a3020" opacity="0.6"/>
<ellipse cx="80.0" cy="91.3" rx="1.0" ry="0.9" fill="#8a8a58" opacity="0.6"/>
<ellipse cx="135.3" cy="125.7" rx="0.9" ry="0.9" fill="#3a4a2a" opacity="0.6"/>
<ellipse cx="72.0" cy="53.2" rx="1.2" ry="1.2" fill="#dfe6da" opacity="0.6"/>
<ellipse cx="98.3" cy="79.4" rx="1.4" ry="1.6" fill="#dfe6da" opacity="0.6"/>
<ellipse cx="97.2" cy="95.9" rx="1.7" ry="1.9" fill="#3a4a2a" opacity="0.6"/>
<ellipse cx="112.8" cy="82.6" rx="1.1" ry="2.1" fill="#3a4a30" opacity="0.6"/>
<ellipse cx="83.0" cy="81.4" rx="0.8" ry="2.1" fill="#3a4a30" opacity="0.6"/>
<ellipse cx="48.7" cy="101.2" rx="0.9" ry="1.5" fill="#1a2014" opacity="0.6"/>
<ellipse cx="82.1" cy="68.5" rx="0.7" ry="1.9" fill="#c8d2c0" opacity="0.6"/>
<ellipse cx="118.8" cy="128.0" rx="1.4" ry="1.1" fill="#2a3020" opacity="0.6"/>
<ellipse cx="106.4" cy="96.0" rx="1.7" ry="0.6" fill="#4a5030" opacity="0.6"/>
<ellipse cx="115.4" cy="123.1" rx="1.3" ry="2.1" fill="#202818" opacity="0.6"/>
<ellipse cx="69.3" cy="103.1" rx="1.0" ry="1.7" fill="#142a12" opacity="0.6"/>
<ellipse cx="83.6" cy="93.9" rx="1.3" ry="1.1" fill="#7a8a40" opacity="0.6"/>
<ellipse cx="104.8" cy="95.4" rx="1.3" ry="1.0" fill="#4a5030" opacity="0.6"/>
<ellipse cx="130.0" cy="89.2" rx="1.2" ry="1.3" fill="#3a4a2a" opacity="0.6"/>
<ellipse cx="68.1" cy="59.7" rx="1.2" ry="1.4" fill="#8a9870" opacity="0.6"/>
<ellipse cx="95.7" cy="119.5" rx="0.8" ry="1.8" fill="#4a5030" opacity="0.6"/>
<ellipse cx="89.6" cy="104.1" rx="1.6" ry="1.9" fill="#5aa048" opacity="0.6"/>
<ellipse cx="52.1" cy="81.0" rx="1.5" ry="0.8" fill="#8a9870" opacity="0.6"/>
<ellipse cx="62.0" cy="69.5" rx="1.0" ry="1.8" fill="#2a3020" opacity="0.6"/>
<ellipse cx="95.1" cy="87.4" rx="1.0" ry="2.1" fill="#2a3020" opacity="0.6"/>
<ellipse cx="110.8" cy="87.1" rx="1.5" ry="1.7" fill="#6a6a40" opacity="0.6"/>
<ellipse cx="61.7" cy="107.6" rx="1.2" ry="1.0" fill="#68b055" opacity="0.6"/>
<ellipse cx="81.6" cy="77.4" rx="0.6" ry="0.9" fill="#3a4a30" opacity="0.6"/>
<ellipse cx="99.5" cy="52.2" rx="1.4" ry="1.0" fill="#c8d2c0" opacity="0.6"/>
<ellipse cx="77.4" cy="68.6" rx="0.7" ry="1.6" fill="#2a3020" opacity="0.6"/>
<ellipse cx="125.5" cy="65.0" rx="1.5" ry="1.5" fill="#3a4a30" opacity="0.6"/>
<ellipse cx="81.6" cy="51.0" rx="1.0" ry="1.7" fill="#6a7a50" opacity="0.6"/>
<ellipse cx="74.8" cy="83.4" rx="1.5" ry="1.1" fill="#202818" opacity="0.6"/>
<ellipse cx="82.9" cy="98.6" rx="0.8" ry="2.1" fill="#1a2014" opacity="0.6"/>
<ellipse cx="112.3" cy="80.2" rx="1.0" ry="0.7" fill="#b0b890" opacity="0.6"/>
<ellipse cx="116.2" cy="80.9" rx="1.1" ry="2.0" fill="#6a7a50" opacity="0.6"/>
<ellipse cx="116.3" cy="49.4" rx="1.1" ry="1.3" fill="#b0b890" opacity="0.6"/>
<ellipse cx="123.8" cy="84.0" rx="1.6" ry="1.3" fill="#6a6a40" opacity="0.6"/>
<ellipse cx="92.4" cy="92.6" rx="1.3" ry="1.7" fill="#5aa048" opacity="0.6"/>
<ellipse cx="84.4" cy="50.7" rx="1.2" ry="1.8" fill="#b0b890" opacity="0.6"/>
<ellipse cx="117.5" cy="57.6" rx="0.7" ry="1.8" fill="#c8d2c0" opacity="0.6"/>
<ellipse cx="57.4" cy="55.0" rx="1.2" ry="0.7" fill="#8a9870" opacity="0.6"/>
<ellipse cx="109.5" cy="110.4" rx="0.7" ry="1.6" fill="#6a6a40" opacity="0.6"/>
<ellipse cx="85.8" cy="99.1" rx="1.5" ry="1.9" fill="#1a2014" opacity="0.6"/>
<ellipse cx="61.3" cy="76.9" rx="0.6" ry="2.1" fill="#4a5a38" opacity="0.6"/>
<ellipse cx="72.9" cy="70.4" rx="0.9" ry="1.9" fill="#3a4a30" opacity="0.6"/>
<ellipse cx="98.2" cy="92.6" rx="0.7" ry="1.1" fill="#6a6a40" opacity="0.6"/>
<ellipse cx="126.2" cy="118.5" rx="0.9" ry="0.9" fill="#8a8a58" opacity="0.6"/>
<ellipse cx="52.9" cy="94.9" rx="1.1" ry="1.3" fill="#68b055" opacity="0.6"/>
<ellipse cx="100.7" cy="79.6" rx="0.8" ry="2.0" fill="#2a3020" opacity="0.6"/>
<ellipse cx="98.3" cy="51.7" rx="1.2" ry="1.2" fill="#3a4a30" opacity="0.6"/>
<ellipse cx="99.0" cy="75.9" rx="1.5" ry="1.0" fill="#c8d2c0" opacity="0.6"/>
<ellipse cx="112.2" cy="118.5" rx="1.1" ry="2.0" fill="#202818" opacity="0.6"/>
<ellipse cx="88.2" cy="125.2" rx="1.1" ry="1.6" fill="#4f9a45" opacity="0.6"/>
<ellipse cx="52.6" cy="123.9" rx="1.3" ry="0.9" fill="#4f9a45" opacity="0.6"/>
<ellipse cx="131.2" cy="97.0" rx="1.1" ry="1.6" fill="#3a4a2a" opacity="0.6"/>
<ellipse cx="108.9" cy="73.3" rx="1.5" ry="0.8" fill="#c8d2c0" opacity="0.6"/>
<ellipse cx="130.8" cy="65.5" rx="0.7" ry="1.8" fill="#dfe6da" opacity="0.6"/>
<ellipse cx="133.8" cy="84.0" rx="0.9" ry="2.0" fill="#202818" opacity="0.6"/>
<ellipse cx="109.9" cy="60.9" rx="1.4" ry="0.7" fill="#dfe6da" opacity="0.6"/>
<ellipse cx="123.5" cy="73.2" rx="1.2" ry="1.1" fill="#c8d2c0" opacity="0.6"/>
<ellipse cx="98.7" cy="60.8" rx="1.0" ry="1.9" fill="#9aa888" opacity="0.6"/>
<ellipse cx="61.9" cy="118.2" rx="1.0" ry="0.6" fill="#1a2014" opacity="0.6"/>
<ellipse cx="82.4" cy="104.1" rx="1.2" ry="0.7" fill="#3a7a32" opacity="0.6"/>
<ellipse cx="90.0" cy="111.9" rx="1.3" ry="0.8" fill="#1a2a16" opacity="0.6"/>
<ellipse cx="122.8" cy="58.0" rx="1.7" ry="2.0" fill="#9aa888" opacity="0.6"/>
<ellipse cx="95.6" cy="73.0" rx="1.4" ry="1.3" fill="#3a4a30" opacity="0.6"/>
<ellipse cx="131.9" cy="55.4" rx="1.6" ry="1.5" fill="#6a7a50" opacity="0.6"/>
<ellipse cx="96.9" cy="55.0" rx="0.9" ry="1.9" fill="#dfe6da" opacity="0.6"/>
<ellipse cx="124.3" cy="67.3" rx="0.6" ry="1.5" fill="#9aa888" opacity="0.6"/>
<ellipse cx="135.3" cy="77.7" rx="1.3" ry="0.7" fill="#9aa888" opacity="0.6"/>
<ellipse cx="78.2" cy="87.1" rx="1.4" ry="0.9" fill="#4a5030" opacity="0.6"/>
<ellipse cx="119.1" cy="73.6" rx="1.2" ry="0.7" fill="#dfe6da" opacity="0.6"/>
<ellipse cx="97.8" cy="117.2" rx="1.1" ry="0.7" fill="#202818" opacity="0.6"/>
<ellipse cx="94.4" cy="55.8" rx="0.7" ry="1.5" fill="#b0b890" opacity="0.6"/>
<ellipse cx="80.0" cy="80.4" rx="0.8" ry="0.9" fill="#b0b890" opacity="0.6"/>
<ellipse cx="132.9" cy="76.6" rx="1.6" ry="1.3" fill="#2a3020" opacity="0.6"/>
<ellipse cx="61.6" cy="55.5" rx="0.7" ry="1.3" fill="#8a9870" opacity="0.6"/>
<ellipse cx="96.4" cy="57.6" rx="0.8" ry="1.4" fill="#6a7a50" opacity="0.6"/>
<ellipse cx="93.8" cy="79.8" rx="1.0" ry="0.9" fill="#c8d2c0" opacity="0.6"/>
<ellipse cx="59.6" cy="68.4" rx="1.2" ry="1.9" fill="#8a9870" opacity="0.6"/>
<ellipse cx="49.6" cy="131.1" rx="1.5" ry="1.5" fill="#1a2a16" opacity="0.6"/>
<ellipse cx="110.2" cy="67.5" rx="0.8" ry="1.0" fill="#2a3020" opacity="0.6"/>
<ellipse cx="51.0" cy="82.1" rx="0.9" ry="1.9" fill="#4a5a38" opacity="0.6"/>
<ellipse cx="55.8" cy="98.6" rx="1.3" ry="1.8" fill="#3a7a32" opacity="0.6"/>
<ellipse cx="112.2" cy="52.6" rx="1.3" ry="2.1" fill="#c8d2c0" opacity="0.6"/>
<ellipse cx="51.9" cy="102.1" rx="1.5" ry="1.1" fill="#142a12" opacity="0.6"/>
<ellipse cx="121.1" cy="88.2" rx="0.6" ry="2.0" fill="#8a8a58" opacity="0.6"/>
<ellipse cx="85.3" cy="83.3" rx="0.9" ry="1.7" fill="#2a3020" opacity="0.6"/>
<ellipse cx="109.3" cy="60.6" rx="0.8" ry="0.9" fill="#3a4a30" opacity="0.6"/>
<ellipse cx="68.0" cy="76.6" rx="1.7" ry="1.8" fill="#8a9870" opacity="0.6"/>
<ellipse cx="91.4" cy="91.4" rx="1.6" ry="1.7" fill="#3a4a2a" opacity="0.6"/>
<ellipse cx="105.5" cy="64.8" rx="1.5" ry="1.8" fill="#b0b890" opacity="0.6"/>
<ellipse cx="56.5" cy="111.0" rx="0.8" ry="2.0" fill="#68b055" opacity="0.6"/>
<ellipse cx="108.7" cy="113.5" rx="1.5" ry="2.0" fill="#2a3020" opacity="0.6"/>
<ellipse cx="129.6" cy="113.4" rx="1.5" ry="1.5" fill="#3a4a2a" opacity="0.6"/>
<ellipse cx="87.4" cy="120.5" rx="1.6" ry="1.0" fill="#5aa048" opacity="0.6"/>
<ellipse cx="134.7" cy="94.4" rx="0.7" ry="2.1" fill="#8a8a58" opacity="0.6"/>
<ellipse cx="119.1" cy="69.5" rx="0.9" ry="0.9" fill="#2a3020" opacity="0.6"/>
<ellipse cx="89.4" cy="68.2" rx="1.6" ry="1.6" fill="#6a7a50" opacity="0.6"/>
<ellipse cx="112.1" cy="82.0" rx="1.5" ry="1.6" fill="#2a3020" opacity="0.6"/>
<ellipse cx="133.0" cy="120.6" rx="0.7" ry="1.6" fill="#6a6a40" opacity="0.6"/>
<ellipse cx="123.5" cy="77.3" rx="1.5" ry="1.8" fill="#b0b890" opacity="0.6"/>
<ellipse cx="48.6" cy="90.6" rx="0.7" ry="1.8" fill="#2a3020" opacity="0.6"/>
<ellipse cx="85.9" cy="100.9" rx="1.0" ry="0.9" fill="#1a2a16" opacity="0.6"/>
<ellipse cx="80.0" cy="122.3" rx="0.9" ry="0.7" fill="#7a8a40" opacity="0.6"/>
<ellipse cx="72.6" cy="109.5" rx="1.3" ry="1.8" fill="#1a2a16" opacity="0.6"/>
<ellipse cx="59.1" cy="107.9" rx="1.5" ry="0.9" fill="#4f9a45" opacity="0.6"/>
<ellipse cx="72.6" cy="132.3" rx="0.8" ry="1.9" fill="#68b055" opacity="0.6"/>
<ellipse cx="103.1" cy="126.7" rx="1.1" ry="2.0" fill="#6a6a40" opacity="0.6"/>
<ellipse cx="93.8" cy="135.1" rx="1.5" ry="0.8" fill="#4a5030" opacity="0.6"/>
</g>
<g filter="url(#b1)">
<rect x="48.5" y="47" width="3.5" height="91" fill="#262a1c"/>
<rect x="52.5" y="47" width="4" height="45" fill="#303626"/>
<rect x="61" y="47" width="4.5" height="60" fill="#2a2c1e"/>
<rect x="75" y="47" width="2" height="91" fill="#222218"/>
<rect x="81" y="47" width="1.2" height="50" fill="#3a3a2a"/>
<rect x="96" y="50" width="1.6" height="80" fill="#30301f"/>
<rect x="100.6" y="47" width="1.0" height="80" fill="#3a3a2a"/>
<rect x="108.5" y="47" width="4.5" height="91" fill="#1c1a12"/>
<rect x="114.8" y="47" width="1.4" height="91" fill="#2a2a1c"/>
<rect x="119.8" y="47" width="1.4" height="91" fill="#2a2a1c"/>
<rect x="129" y="47" width="2.0" height="91" fill="#303022"/>
<rect x="134.8" y="60" width="1.4" height="78" fill="#34362a"/>
<ellipse cx="58.5" cy="70" rx="1.3" ry="14" fill="#d0d8c8"/>
<ellipse cx="70" cy="62" rx="2.2" ry="9" fill="#c8ccb8"/>
<ellipse cx="88" cy="55" rx="3.5" ry="5" fill="#e4eae0"/>
<ellipse cx="98" cy="62" rx="1.6" ry="8" fill="#d4dccc"/>
<ellipse cx="104" cy="58" rx="1.6" ry="9" fill="#d8e0d4"/>
<ellipse cx="117.5" cy="70" rx="1.1" ry="10" fill="#d0d8d0"/>
<ellipse cx="134" cy="55" rx="3.5" ry="5" fill="#d8e4e0"/>
<ellipse cx="125" cy="78" rx="1.6" ry="4" fill="#c8d4cc"/>
</g></g>
<path d="M58.1,89.9 L129.3,71.0 L96.8,130.1 L89.9,61" fill="none" stroke="#F5A426" stroke-width="2.3" stroke-linejoin="miter"/>
<path d="M89.2,53.0 L94.3,63.8 L85.3,63.8 Z" fill="#F5A426"/>
<line x1="176.30" y1="90.30" x2="293.40" y2="90.30" stroke="#222" stroke-width="1.0" stroke-dasharray="3.9,3.3"/>
<line x1="247.90" y1="70.50" x2="293.40" y2="70.50" stroke="#222" stroke-width="1.0" stroke-dasharray="3.9,3.3"/>
<line x1="214.80" y1="130.40" x2="291.50" y2="130.40" stroke="#222" stroke-width="1.0" stroke-dasharray="3.9,3.3"/>
<path d="M176.3,89.6 L247.9,70.5 L214.6,130.3 L207.9,60" fill="none" stroke="#F4A42A" stroke-width="2.1" stroke-linejoin="round"/>
<path d="M207.3,53.3 L212.5,62.9 L204.0,63.7 Z" fill="#F4A42A"/>
<path d="M176.3,89.6 L203.50,89.60 A27.2,27.2 0 0 0 202.63,82.79 Z" fill="#a0a0a0"/>
<path d="M176.3,89.6 L202.63,82.79" stroke="#F4A42A" stroke-width="2.1"/>
<path d="M202.63,82.79 A27.2,27.2 0 0 1 203.50,87.60" fill="none" stroke="#111" stroke-width="1"/>
<path d="M201.30,84.40 L205.10,84.40 L203.30,89.60 Z" fill="#111"/>
<path d="M247.9,70.5 L263.90,70.50 A16.0,16.0 0 1 0 240.14,84.49 Z" fill="#a0a0a0"/>
<path d="M240.14,84.49 A16.0,16.0 0 1 1 263.90,67.50" fill="none" stroke="#111" stroke-width="1.1"/>
<path d="M261.50,65.50 L265.30,65.10 L263.90,70.70 Z" fill="#111"/>
<path d="M214.6,130.3 L230.80,130.30 A16.2,16.2 0 0 0 213.08,114.17 Z" fill="#a0a0a0"/>
<path d="M214.6,130.3 L213.08,114.17" stroke="#F4A42A" stroke-width="2.1"/>
<path d="M213.08,114.17 A16.2,16.2 0 0 1 230.50,126.80" fill="none" stroke="#111" stroke-width="1.1"/>
<path d="M228.40,124.70 L232.10,124.70 L230.50,130.50 Z" fill="#111"/>
<text transform="translate(181.6,76.6) scale(1.12,1)" font-size="12" fill="#111">α</text>
<text x="189.2" y="81.5" font-size="12.3" fill="#111" text-anchor="start">1</text>
<text transform="translate(248.4,82.0) scale(1.12,1)" font-size="12" fill="#111">α</text>
<text x="256.0" y="86.9" font-size="12.3" fill="#111" text-anchor="start">2</text>
<text transform="translate(233.0,120.4) scale(1.12,1)" font-size="12" fill="#111">α</text>
<text x="240.6" y="125.30000000000001" font-size="12.3" fill="#111" text-anchor="start">3</text>
<text x="267.80" y="141.80" font-size="10.5" text-anchor="middle" font-weight="normal" fill="#111" >reference</text>
<path d="M404.9,95.7 L417.55,59.97 A37.9,37.9 0 0 1 429.51,66.88 Z M404.9,95.7 L442.17,88.79 A37.9,37.9 0 0 1 442.17,102.61 Z M404.9,95.7 L429.51,124.52 A37.9,37.9 0 0 1 417.55,131.43 Z M404.9,95.7 L392.25,131.43 A37.9,37.9 0 0 1 380.29,124.52 Z M404.9,95.7 L367.63,102.61 A37.9,37.9 0 0 1 367.63,88.79 Z M404.9,95.7 L380.29,66.88 A37.9,37.9 0 0 1 392.25,59.97 Z" fill="#a0a0a0"/>
<circle cx="404.9" cy="95.7" r="37.9" fill="none" stroke="#000" stroke-width="1.9"/>
<text transform="translate(430.0,57.5) rotate(30)" y="4.1" font-size="11.6" text-anchor="middle" fill="#111">0°</text>
<text transform="translate(450.6,96.4) rotate(90)" y="4.1" font-size="11.6" text-anchor="middle" fill="#111">60°</text>
<text transform="translate(427.9,135.6) rotate(150)" y="4.1" font-size="11.6" text-anchor="middle" fill="#111">120°</text>
<text transform="translate(380.6,137.3) rotate(210)" y="4.1" font-size="11.6" text-anchor="middle" fill="#111">180°</text>
<text transform="translate(359.2,90.3) rotate(-90)" y="4.1" font-size="11.6" text-anchor="middle" fill="#111">240°</text>
<text transform="translate(386.5,55.0) rotate(-30)" y="4.1" font-size="11.6" text-anchor="middle" fill="#111">300°</text>
<g clip-path="url(#cBr)"><g filter="url(#b2)">
<rect x="496.50" y="52.67" width="8.80" height="8.82" fill="#afafaf"/>
<rect x="504.70" y="52.67" width="8.80" height="8.82" fill="#afafaf"/>
<rect x="512.90" y="52.67" width="8.80" height="8.82" fill="#d7d7d7"/>
<rect x="521.10" y="52.67" width="8.80" height="8.82" fill="#a0a0a0"/>
<rect x="529.30" y="52.67" width="8.80" height="8.82" fill="#d7d7d7"/>
<rect x="537.50" y="52.67" width="8.80" height="8.82" fill="#f0f0f0"/>
<rect x="545.70" y="52.67" width="8.80" height="8.82" fill="#fafafa"/>
<rect x="553.90" y="52.67" width="8.80" height="8.82" fill="#fcfcfc"/>
<rect x="562.10" y="52.67" width="8.80" height="8.82" fill="#ffffff"/>
<rect x="570.30" y="52.67" width="8.80" height="8.82" fill="#ffffff"/>
<rect x="578.50" y="52.67" width="8.80" height="8.82" fill="#f8f8f8"/>
<rect x="586.70" y="52.67" width="8.80" height="8.82" fill="#f8f8f8"/>
<rect x="594.90" y="52.67" width="8.80" height="8.82" fill="#ffffff"/>
<rect x="603.10" y="52.67" width="8.80" height="8.82" fill="#ffffff"/>
<rect x="611.30" y="52.67" width="8.80" height="8.82" fill="#fcfcfc"/>
<rect x="619.50" y="52.67" width="8.80" height="8.82" fill="#fafafa"/>
<rect x="627.70" y="52.67" width="8.80" height="8.82" fill="#f0f0f0"/>
<rect x="635.90" y="52.67" width="8.80" height="8.82" fill="#d7d7d7"/>
<rect x="644.10" y="52.67" width="8.80" height="8.82" fill="#a0a0a0"/>
<rect x="652.30" y="52.67" width="8.80" height="8.82" fill="#d7d7d7"/>
<rect x="660.50" y="52.67" width="8.80" height="8.82" fill="#afafaf"/>
<rect x="668.70" y="52.67" width="8.80" height="8.82" fill="#afafaf"/>
<rect x="496.50" y="60.90" width="8.80" height="8.82" fill="#afafaf"/>
<rect x="504.70" y="60.90" width="8.80" height="8.82" fill="#afafaf"/>
<rect x="512.90" y="60.90" width="8.80" height="8.82" fill="#d7d7d7"/>
<rect x="521.10" y="60.90" width="8.80" height="8.82" fill="#a0a0a0"/>
<rect x="529.30" y="60.90" width="8.80" height="8.82" fill="#d7d7d7"/>
<rect x="537.50" y="60.90" width="8.80" height="8.82" fill="#f0f0f0"/>
<rect x="545.70" y="60.90" width="8.80" height="8.82" fill="#fafafa"/>
<rect x="553.90" y="60.90" width="8.80" height="8.82" fill="#fcfcfc"/>
<rect x="562.10" y="60.90" width="8.80" height="8.82" fill="#ffffff"/>
<rect x="570.30" y="60.90" width="8.80" height="8.82" fill="#ffffff"/>
<rect x="578.50" y="60.90" width="8.80" height="8.82" fill="#f8f8f8"/>
<rect x="586.70" y="60.90" width="8.80" height="8.82" fill="#f8f8f8"/>
<rect x="594.90" y="60.90" width="8.80" height="8.82" fill="#ffffff"/>
<rect x="603.10" y="60.90" width="8.80" height="8.82" fill="#ffffff"/>
<rect x="611.30" y="60.90" width="8.80" height="8.82" fill="#fcfcfc"/>
<rect x="619.50" y="60.90" width="8.80" height="8.82" fill="#fafafa"/>
<rect x="627.70" y="60.90" width="8.80" height="8.82" fill="#f0f0f0"/>
<rect x="635.90" y="60.90" width="8.80" height="8.82" fill="#d7d7d7"/>
<rect x="644.10" y="60.90" width="8.80" height="8.82" fill="#a0a0a0"/>
<rect x="652.30" y="60.90" width="8.80" height="8.82" fill="#d7d7d7"/>
<rect x="660.50" y="60.90" width="8.80" height="8.82" fill="#afafaf"/>
<rect x="668.70" y="60.90" width="8.80" height="8.82" fill="#afafaf"/>
<rect x="496.50" y="69.12" width="8.80" height="8.82" fill="#a5a5a5"/>
<rect x="504.70" y="69.12" width="8.80" height="8.82" fill="#a5a5a5"/>
<rect x="512.90" y="69.12" width="8.80" height="8.82" fill="#eeeeee"/>
<rect x="521.10" y="69.12" width="8.80" height="8.82" fill="#dedede"/>
<rect x="529.30" y="69.12" width="8.80" height="8.82" fill="#eeeeee"/>
<rect x="537.50" y="69.12" width="8.80" height="8.82" fill="#fafafa"/>
<rect x="545.70" y="69.12" width="8.80" height="8.82" fill="#fcfcfc"/>
<rect x="553.90" y="69.12" width="8.80" height="8.82" fill="#fdfdfd"/>
<rect x="562.10" y="69.12" width="8.80" height="8.82" fill="#ffffff"/>
<rect x="570.30" y="69.12" width="8.80" height="8.82" fill="#ffffff"/>
<rect x="578.50" y="69.12" width="8.80" height="8.82" fill="#fafafa"/>
<rect x="586.70" y="69.12" width="8.80" height="8.82" fill="#fafafa"/>
<rect x="594.90" y="69.12" width="8.80" height="8.82" fill="#ffffff"/>
<rect x="603.10" y="69.12" width="8.80" height="8.82" fill="#ffffff"/>
<rect x="611.30" y="69.12" width="8.80" height="8.82" fill="#fdfdfd"/>
<rect x="619.50" y="69.12" width="8.80" height="8.82" fill="#fcfcfc"/>
<rect x="627.70" y="69.12" width="8.80" height="8.82" fill="#fafafa"/>
<rect x="635.90" y="69.12" width="8.80" height="8.82" fill="#eeeeee"/>
<rect x="644.10" y="69.12" width="8.80" height="8.82" fill="#dedede"/>
<rect x="652.30" y="69.12" width="8.80" height="8.82" fill="#eeeeee"/>
<rect x="660.50" y="69.12" width="8.80" height="8.82" fill="#a5a5a5"/>
<rect x="668.70" y="69.12" width="8.80" height="8.82" fill="#a5a5a5"/>
<rect x="496.50" y="77.35" width="8.80" height="8.82" fill="#9b9b9b"/>
<rect x="504.70" y="77.35" width="8.80" height="8.82" fill="#9b9b9b"/>
<rect x="512.90" y="77.35" width="8.80" height="8.82" fill="#f8f8f8"/>
<rect x="521.10" y="77.35" width="8.80" height="8.82" fill="#f2f2f2"/>
<rect x="529.30" y="77.35" width="8.80" height="8.82" fill="#ececec"/>
<rect x="537.50" y="77.35" width="8.80" height="8.82" fill="#e8e8e8"/>
<rect x="545.70" y="77.35" width="8.80" height="8.82" fill="#eeeeee"/>
<rect x="553.90" y="77.35" width="8.80" height="8.82" fill="#f8f8f8"/>
<rect x="562.10" y="77.35" width="8.80" height="8.82" fill="#fcfcfc"/>
<rect x="570.30" y="77.35" width="8.80" height="8.82" fill="#f8f8f8"/>
<rect x="578.50" y="77.35" width="8.80" height="8.82" fill="#e4e4e4"/>
<rect x="586.70" y="77.35" width="8.80" height="8.82" fill="#e4e4e4"/>
<rect x="594.90" y="77.35" width="8.80" height="8.82" fill="#f8f8f8"/>
<rect x="603.10" y="77.35" width="8.80" height="8.82" fill="#fcfcfc"/>
<rect x="611.30" y="77.35" width="8.80" height="8.82" fill="#f8f8f8"/>
<rect x="619.50" y="77.35" width="8.80" height="8.82" fill="#eeeeee"/>
<rect x="627.70" y="77.35" width="8.80" height="8.82" fill="#e8e8e8"/>
<rect x="635.90" y="77.35" width="8.80" height="8.82" fill="#ececec"/>
<rect x="644.10" y="77.35" width="8.80" height="8.82" fill="#f2f2f2"/>
<rect x="652.30" y="77.35" width="8.80" height="8.82" fill="#f8f8f8"/>
<rect x="660.50" y="77.35" width="8.80" height="8.82" fill="#9b9b9b"/>
<rect x="668.70" y="77.35" width="8.80" height="8.82" fill="#9b9b9b"/>
<rect x="496.50" y="85.57" width="8.80" height="8.82" fill="#aaaaaa"/>
<rect x="504.70" y="85.57" width="8.80" height="8.82" fill="#aaaaaa"/>
<rect x="512.90" y="85.57" width="8.80" height="8.82" fill="#fafafa"/>
<rect x="521.10" y="85.57" width="8.80" height="8.82" fill="#e8e8e8"/>
<rect x="529.30" y="85.57" width="8.80" height="8.82" fill="#a5a5a5"/>
<rect x="537.50" y="85.57" width="8.80" height="8.82" fill="#b9b9b9"/>
<rect x="545.70" y="85.57" width="8.80" height="8.82" fill="#c3c3c3"/>
<rect x="553.90" y="85.57" width="8.80" height="8.82" fill="#dedede"/>
<rect x="562.10" y="85.57" width="8.80" height="8.82" fill="#e8e8e8"/>
<rect x="570.30" y="85.57" width="8.80" height="8.82" fill="#dedede"/>
<rect x="578.50" y="85.57" width="8.80" height="8.82" fill="#969696"/>
<rect x="586.70" y="85.57" width="8.80" height="8.82" fill="#969696"/>
<rect x="594.90" y="85.57" width="8.80" height="8.82" fill="#dedede"/>
<rect x="603.10" y="85.57" width="8.80" height="8.82" fill="#e8e8e8"/>
<rect x="611.30" y="85.57" width="8.80" height="8.82" fill="#dedede"/>
<rect x="619.50" y="85.57" width="8.80" height="8.82" fill="#c3c3c3"/>
<rect x="627.70" y="85.57" width="8.80" height="8.82" fill="#b9b9b9"/>
<rect x="635.90" y="85.57" width="8.80" height="8.82" fill="#a5a5a5"/>
<rect x="644.10" y="85.57" width="8.80" height="8.82" fill="#e8e8e8"/>
<rect x="652.30" y="85.57" width="8.80" height="8.82" fill="#fafafa"/>
<rect x="660.50" y="85.57" width="8.80" height="8.82" fill="#aaaaaa"/>
<rect x="668.70" y="85.57" width="8.80" height="8.82" fill="#aaaaaa"/>
<rect x="496.50" y="93.80" width="8.80" height="8.82" fill="#b4b4b4"/>
<rect x="504.70" y="93.80" width="8.80" height="8.82" fill="#b4b4b4"/>
<rect x="512.90" y="93.80" width="8.80" height="8.82" fill="#f0f0f0"/>
<rect x="521.10" y="93.80" width="8.80" height="8.82" fill="#d4d4d4"/>
<rect x="529.30" y="93.80" width="8.80" height="8.82" fill="#b2b2b2"/>
<rect x="537.50" y="93.80" width="8.80" height="8.82" fill="#b9b9b9"/>
<rect x="545.70" y="93.80" width="8.80" height="8.82" fill="#b9b9b9"/>
<rect x="553.90" y="93.80" width="8.80" height="8.82" fill="#b6b6b6"/>
<rect x="562.10" y="93.80" width="8.80" height="8.82" fill="#acacac"/>
<rect x="570.30" y="93.80" width="8.80" height="8.82" fill="#848484"/>
<rect x="578.50" y="93.80" width="8.80" height="8.82" fill="#646464"/>
<rect x="586.70" y="93.80" width="8.80" height="8.82" fill="#646464"/>
<rect x="594.90" y="93.80" width="8.80" height="8.82" fill="#848484"/>
<rect x="603.10" y="93.80" width="8.80" height="8.82" fill="#acacac"/>
<rect x="611.30" y="93.80" width="8.80" height="8.82" fill="#b6b6b6"/>
<rect x="619.50" y="93.80" width="8.80" height="8.82" fill="#b9b9b9"/>
<rect x="627.70" y="93.80" width="8.80" height="8.82" fill="#b9b9b9"/>
<rect x="635.90" y="93.80" width="8.80" height="8.82" fill="#b2b2b2"/>
<rect x="644.10" y="93.80" width="8.80" height="8.82" fill="#d4d4d4"/>
<rect x="652.30" y="93.80" width="8.80" height="8.82" fill="#f0f0f0"/>
<rect x="660.50" y="93.80" width="8.80" height="8.82" fill="#b4b4b4"/>
<rect x="668.70" y="93.80" width="8.80" height="8.82" fill="#b4b4b4"/>
<rect x="496.50" y="102.03" width="8.80" height="8.82" fill="#a0a0a0"/>
<rect x="504.70" y="102.03" width="8.80" height="8.82" fill="#a0a0a0"/>
<rect x="512.90" y="102.03" width="8.80" height="8.82" fill="#bebebe"/>
<rect x="521.10" y="102.03" width="8.80" height="8.82" fill="#b2b2b2"/>
<rect x="529.30" y="102.03" width="8.80" height="8.82" fill="#c8c8c8"/>
<rect x="537.50" y="102.03" width="8.80" height="8.82" fill="#e6e6e6"/>
<rect x="545.70" y="102.03" width="8.80" height="8.82" fill="#f2f2f2"/>
<rect x="553.90" y="102.03" width="8.80" height="8.82" fill="#c6c6c6"/>
<rect x="562.10" y="102.03" width="8.80" height="8.82" fill="#919191"/>
<rect x="570.30" y="102.03" width="8.80" height="8.82" fill="#6c6c6c"/>
<rect x="578.50" y="102.03" width="8.80" height="8.82" fill="#5c5c5c"/>
<rect x="586.70" y="102.03" width="8.80" height="8.82" fill="#5c5c5c"/>
<rect x="594.90" y="102.03" width="8.80" height="8.82" fill="#6c6c6c"/>
<rect x="603.10" y="102.03" width="8.80" height="8.82" fill="#919191"/>
<rect x="611.30" y="102.03" width="8.80" height="8.82" fill="#c6c6c6"/>
<rect x="619.50" y="102.03" width="8.80" height="8.82" fill="#f2f2f2"/>
<rect x="627.70" y="102.03" width="8.80" height="8.82" fill="#e6e6e6"/>
<rect x="635.90" y="102.03" width="8.80" height="8.82" fill="#c8c8c8"/>
<rect x="644.10" y="102.03" width="8.80" height="8.82" fill="#b2b2b2"/>
<rect x="652.30" y="102.03" width="8.80" height="8.82" fill="#bebebe"/>
<rect x="660.50" y="102.03" width="8.80" height="8.82" fill="#a0a0a0"/>
<rect x="668.70" y="102.03" width="8.80" height="8.82" fill="#a0a0a0"/>
<rect x="496.50" y="110.25" width="8.80" height="8.82" fill="#9b9b9b"/>
<rect x="504.70" y="110.25" width="8.80" height="8.82" fill="#9b9b9b"/>
<rect x="512.90" y="110.25" width="8.80" height="8.82" fill="#acacac"/>
<rect x="521.10" y="110.25" width="8.80" height="8.82" fill="#bcbcbc"/>
<rect x="529.30" y="110.25" width="8.80" height="8.82" fill="#c3c3c3"/>
<rect x="537.50" y="110.25" width="8.80" height="8.82" fill="#d2d2d2"/>
<rect x="545.70" y="110.25" width="8.80" height="8.82" fill="#c8c8c8"/>
<rect x="553.90" y="110.25" width="8.80" height="8.82" fill="#a8a8a8"/>
<rect x="562.10" y="110.25" width="8.80" height="8.82" fill="#787878"/>
<rect x="570.30" y="110.25" width="8.80" height="8.82" fill="#606060"/>
<rect x="578.50" y="110.25" width="8.80" height="8.82" fill="#5a5a5a"/>
<rect x="586.70" y="110.25" width="8.80" height="8.82" fill="#5a5a5a"/>
<rect x="594.90" y="110.25" width="8.80" height="8.82" fill="#606060"/>
<rect x="603.10" y="110.25" width="8.80" height="8.82" fill="#787878"/>
<rect x="611.30" y="110.25" width="8.80" height="8.82" fill="#a8a8a8"/>
<rect x="619.50" y="110.25" width="8.80" height="8.82" fill="#c8c8c8"/>
<rect x="627.70" y="110.25" width="8.80" height="8.82" fill="#d2d2d2"/>
<rect x="635.90" y="110.25" width="8.80" height="8.82" fill="#c3c3c3"/>
<rect x="644.10" y="110.25" width="8.80" height="8.82" fill="#bcbcbc"/>
<rect x="652.30" y="110.25" width="8.80" height="8.82" fill="#acacac"/>
<rect x="660.50" y="110.25" width="8.80" height="8.82" fill="#9b9b9b"/>
<rect x="668.70" y="110.25" width="8.80" height="8.82" fill="#9b9b9b"/>
<rect x="496.50" y="118.47" width="8.80" height="8.82" fill="#a5a5a5"/>
<rect x="504.70" y="118.47" width="8.80" height="8.82" fill="#a5a5a5"/>
<rect x="512.90" y="118.47" width="8.80" height="8.82" fill="#a2a2a2"/>
<rect x="521.10" y="118.47" width="8.80" height="8.82" fill="#b6b6b6"/>
<rect x="529.30" y="118.47" width="8.80" height="8.82" fill="#b9b9b9"/>
<rect x="537.50" y="118.47" width="8.80" height="8.82" fill="#b0b0b0"/>
<rect x="545.70" y="118.47" width="8.80" height="8.82" fill="#a5a5a5"/>
<rect x="553.90" y="118.47" width="8.80" height="8.82" fill="#8e8e8e"/>
<rect x="562.10" y="118.47" width="8.80" height="8.82" fill="#707070"/>
<rect x="570.30" y="118.47" width="8.80" height="8.82" fill="#5c5c5c"/>
<rect x="578.50" y="118.47" width="8.80" height="8.82" fill="#585858"/>
<rect x="586.70" y="118.47" width="8.80" height="8.82" fill="#585858"/>
<rect x="594.90" y="118.47" width="8.80" height="8.82" fill="#5c5c5c"/>
<rect x="603.10" y="118.47" width="8.80" height="8.82" fill="#707070"/>
<rect x="611.30" y="118.47" width="8.80" height="8.82" fill="#8e8e8e"/>
<rect x="619.50" y="118.47" width="8.80" height="8.82" fill="#a5a5a5"/>
<rect x="627.70" y="118.47" width="8.80" height="8.82" fill="#b0b0b0"/>
<rect x="635.90" y="118.47" width="8.80" height="8.82" fill="#b9b9b9"/>
<rect x="644.10" y="118.47" width="8.80" height="8.82" fill="#b6b6b6"/>
<rect x="652.30" y="118.47" width="8.80" height="8.82" fill="#a2a2a2"/>
<rect x="660.50" y="118.47" width="8.80" height="8.82" fill="#a5a5a5"/>
<rect x="668.70" y="118.47" width="8.80" height="8.82" fill="#a5a5a5"/>
<rect x="496.50" y="126.70" width="8.80" height="8.82" fill="#a5a5a5"/>
<rect x="504.70" y="126.70" width="8.80" height="8.82" fill="#a5a5a5"/>
<rect x="512.90" y="126.70" width="8.80" height="8.82" fill="#a2a2a2"/>
<rect x="521.10" y="126.70" width="8.80" height="8.82" fill="#b6b6b6"/>
<rect x="529.30" y="126.70" width="8.80" height="8.82" fill="#b9b9b9"/>
<rect x="537.50" y="126.70" width="8.80" height="8.82" fill="#b0b0b0"/>
<rect x="545.70" y="126.70" width="8.80" height="8.82" fill="#a5a5a5"/>
<rect x="553.90" y="126.70" width="8.80" height="8.82" fill="#8e8e8e"/>
<rect x="562.10" y="126.70" width="8.80" height="8.82" fill="#707070"/>
<rect x="570.30" y="126.70" width="8.80" height="8.82" fill="#5c5c5c"/>
<rect x="578.50" y="126.70" width="8.80" height="8.82" fill="#585858"/>
<rect x="586.70" y="126.70" width="8.80" height="8.82" fill="#585858"/>
<rect x="594.90" y="126.70" width="8.80" height="8.82" fill="#5c5c5c"/>
<rect x="603.10" y="126.70" width="8.80" height="8.82" fill="#707070"/>
<rect x="611.30" y="126.70" width="8.80" height="8.82" fill="#8e8e8e"/>
<rect x="619.50" y="126.70" width="8.80" height="8.82" fill="#a5a5a5"/>
<rect x="627.70" y="126.70" width="8.80" height="8.82" fill="#b0b0b0"/>
<rect x="635.90" y="126.70" width="8.80" height="8.82" fill="#b9b9b9"/>
<rect x="644.10" y="126.70" width="8.80" height="8.82" fill="#b6b6b6"/>
<rect x="652.30" y="126.70" width="8.80" height="8.82" fill="#a2a2a2"/>
<rect x="660.50" y="126.70" width="8.80" height="8.82" fill="#a5a5a5"/>
<rect x="668.70" y="126.70" width="8.80" height="8.82" fill="#a5a5a5"/>
</g>
<g filter="url(#b1)">
<ellipse cx="578.3" cy="105" rx="3.2" ry="3.5" fill="#a8a8a8"/>
<ellipse cx="595.7" cy="105" rx="3.2" ry="3.5" fill="#a8a8a8"/>
<path d="M586.7,62 L589,67 L586.7,72 L584.4,67 Z" fill="#707070"/>
<ellipse cx="523.5" cy="66" rx="5" ry="5" fill="#9a9a9a" filter="url(#b2)"/>
<ellipse cx="507.5" cy="84" rx="3" ry="11" fill="#a0a0a0" filter="url(#b2)"/>
<ellipse cx="544.0" cy="96" rx="11.5" ry="8" fill="#b0b0b0" filter="url(#b2)"/>
<ellipse cx="534.0" cy="93" rx="3" ry="4" fill="#8c8c8c" filter="url(#b2)"/>
<ellipse cx="548.0" cy="108" rx="5" ry="3" fill="#f0f0f0" filter="url(#b2)"/>
<ellipse cx="649.9000000000001" cy="66" rx="5" ry="5" fill="#9a9a9a" filter="url(#b2)"/>
<ellipse cx="665.9000000000001" cy="84" rx="3" ry="11" fill="#a0a0a0" filter="url(#b2)"/>
<ellipse cx="629.4" cy="96" rx="11.5" ry="8" fill="#b0b0b0" filter="url(#b2)"/>
<ellipse cx="639.4" cy="93" rx="3" ry="4" fill="#8c8c8c" filter="url(#b2)"/>
<ellipse cx="625.4" cy="108" rx="5" ry="3" fill="#f0f0f0" filter="url(#b2)"/>
<path d="M586.7,76 L591.5,98 L581.9,98 Z" fill="#5a5a5a"/>
</g></g>
<rect x="556.3" y="94.8" width="7" height="10.4" rx="2.6" fill="#F2A633"/>
<rect x="611.4" y="94.8" width="7" height="10.4" rx="2.6" fill="#F2A633"/>
<path d="M530.1,67.6 L542.0,80.0" stroke="#000" stroke-width="1.9"/>
<path d="M552.2,91.0 L533.8,84.0 L545.0,73.0 Z" fill="#000"/>
<path d="M644.0,67.6 L632.1,80.0" stroke="#000" stroke-width="1.9"/>
<path d="M621.9,91.0 L640.3,84.0 L629.1,73.0 Z" fill="#000"/>
<g clip-path="url(#cP)"><g filter="url(#b2)">
<rect x="38.27" y="437.19" width="10.63" height="10.61" fill="#4a86a4"/>
<rect x="48.30" y="437.19" width="10.63" height="10.61" fill="#4a86a4"/>
<rect x="58.33" y="437.19" width="10.63" height="10.61" fill="#4e8aa8"/>
<rect x="68.37" y="437.19" width="10.63" height="10.61" fill="#5a96b0"/>
<rect x="78.40" y="437.19" width="10.63" height="10.61" fill="#5e9ab0"/>
<rect x="88.43" y="437.19" width="10.63" height="10.61" fill="#70a0b0"/>
<rect x="98.47" y="437.19" width="10.63" height="10.61" fill="#5a90a4"/>
<rect x="108.50" y="437.19" width="10.63" height="10.61" fill="#5a8ea0"/>
<rect x="118.53" y="437.19" width="10.63" height="10.61" fill="#5a8a9a"/>
<rect x="128.57" y="437.19" width="10.63" height="10.61" fill="#567f8c"/>
<rect x="138.60" y="437.19" width="10.63" height="10.61" fill="#567f8c"/>
<rect x="38.27" y="447.20" width="10.63" height="10.61" fill="#4a86a4"/>
<rect x="48.30" y="447.20" width="10.63" height="10.61" fill="#4a86a4"/>
<rect x="58.33" y="447.20" width="10.63" height="10.61" fill="#4e8aa8"/>
<rect x="68.37" y="447.20" width="10.63" height="10.61" fill="#5a96b0"/>
<rect x="78.40" y="447.20" width="10.63" height="10.61" fill="#5e9ab0"/>
<rect x="88.43" y="447.20" width="10.63" height="10.61" fill="#70a0b0"/>
<rect x="98.47" y="447.20" width="10.63" height="10.61" fill="#5a90a4"/>
<rect x="108.50" y="447.20" width="10.63" height="10.61" fill="#5a8ea0"/>
<rect x="118.53" y="447.20" width="10.63" height="10.61" fill="#5a8a9a"/>
<rect x="128.57" y="447.20" width="10.63" height="10.61" fill="#567f8c"/>
<rect x="138.60" y="447.20" width="10.63" height="10.61" fill="#567f8c"/>
<rect x="38.27" y="457.21" width="10.63" height="10.61" fill="#4a88a8"/>
<rect x="48.30" y="457.21" width="10.63" height="10.61" fill="#4a88a8"/>
<rect x="58.33" y="457.21" width="10.63" height="10.61" fill="#4e8ea8"/>
<rect x="68.37" y="457.21" width="10.63" height="10.61" fill="#5a98b0"/>
<rect x="78.40" y="457.21" width="10.63" height="10.61" fill="#62a0b4"/>
<rect x="88.43" y="457.21" width="10.63" height="10.61" fill="#70a8b8"/>
<rect x="98.47" y="457.21" width="10.63" height="10.61" fill="#5e9eae"/>
<rect x="108.50" y="457.21" width="10.63" height="10.61" fill="#5e9eac"/>
<rect x="118.53" y="457.21" width="10.63" height="10.61" fill="#5a98a8"/>
<rect x="128.57" y="457.21" width="10.63" height="10.61" fill="#5a98a8"/>
<rect x="138.60" y="457.21" width="10.63" height="10.61" fill="#5a98a8"/>
<rect x="38.27" y="467.22" width="10.63" height="10.61" fill="#4282a4"/>
<rect x="48.30" y="467.22" width="10.63" height="10.61" fill="#4282a4"/>
<rect x="58.33" y="467.22" width="10.63" height="10.61" fill="#5a98b0"/>
<rect x="68.37" y="467.22" width="10.63" height="10.61" fill="#5a9ab0"/>
<rect x="78.40" y="467.22" width="10.63" height="10.61" fill="#62a2b4"/>
<rect x="88.43" y="467.22" width="10.63" height="10.61" fill="#66a6b4"/>
<rect x="98.47" y="467.22" width="10.63" height="10.61" fill="#62a4b0"/>
<rect x="108.50" y="467.22" width="10.63" height="10.61" fill="#62a4ac"/>
<rect x="118.53" y="467.22" width="10.63" height="10.61" fill="#62a4ac"/>
<rect x="128.57" y="467.22" width="10.63" height="10.61" fill="#64a4ac"/>
<rect x="138.60" y="467.22" width="10.63" height="10.61" fill="#64a4ac"/>
<rect x="38.27" y="477.23" width="10.63" height="10.61" fill="#90b8c8"/>
<rect x="48.30" y="477.23" width="10.63" height="10.61" fill="#90b8c8"/>
<rect x="58.33" y="477.23" width="10.63" height="10.61" fill="#6aa0b4"/>
<rect x="68.37" y="477.23" width="10.63" height="10.61" fill="#4e90ac"/>
<rect x="78.40" y="477.23" width="10.63" height="10.61" fill="#5a9ab0"/>
<rect x="88.43" y="477.23" width="10.63" height="10.61" fill="#60a2b0"/>
<rect x="98.47" y="477.23" width="10.63" height="10.61" fill="#62a2ac"/>
<rect x="108.50" y="477.23" width="10.63" height="10.61" fill="#62a2aa"/>
<rect x="118.53" y="477.23" width="10.63" height="10.61" fill="#64a4ac"/>
<rect x="128.57" y="477.23" width="10.63" height="10.61" fill="#66a6ae"/>
<rect x="138.60" y="477.23" width="10.63" height="10.61" fill="#66a6ae"/>
<rect x="38.27" y="487.24" width="10.63" height="10.61" fill="#90b8c4"/>
<rect x="48.30" y="487.24" width="10.63" height="10.61" fill="#90b8c4"/>
<rect x="58.33" y="487.24" width="10.63" height="10.61" fill="#7aa8b8"/>
<rect x="68.37" y="487.24" width="10.63" height="10.61" fill="#4a90ae"/>
<rect x="78.40" y="487.24" width="10.63" height="10.61" fill="#4e8ca4"/>
<rect x="88.43" y="487.24" width="10.63" height="10.61" fill="#5a9cb0"/>
<rect x="98.47" y="487.24" width="10.63" height="10.61" fill="#62a2ac"/>
<rect x="108.50" y="487.24" width="10.63" height="10.61" fill="#66a4ac"/>
<rect x="118.53" y="487.24" width="10.63" height="10.61" fill="#68a6ae"/>
<rect x="128.57" y="487.24" width="10.63" height="10.61" fill="#6aa8b0"/>
<rect x="138.60" y="487.24" width="10.63" height="10.61" fill="#6aa8b0"/>
<rect x="38.27" y="497.26" width="10.63" height="10.61" fill="#80a8b8"/>
<rect x="48.30" y="497.26" width="10.63" height="10.61" fill="#80a8b8"/>
<rect x="58.33" y="497.26" width="10.63" height="10.61" fill="#78a4b4"/>
<rect x="68.37" y="497.26" width="10.63" height="10.61" fill="#6a9cb0"/>
<rect x="78.40" y="497.26" width="10.63" height="10.61" fill="#4a94b0"/>
<rect x="88.43" y="497.26" width="10.63" height="10.61" fill="#4a8298"/>
<rect x="98.47" y="497.26" width="10.63" height="10.61" fill="#5a9cac"/>
<rect x="108.50" y="497.26" width="10.63" height="10.61" fill="#66a6b0"/>
<rect x="118.53" y="497.26" width="10.63" height="10.61" fill="#6eaab2"/>
<rect x="128.57" y="497.26" width="10.63" height="10.61" fill="#70aab2"/>
<rect x="138.60" y="497.26" width="10.63" height="10.61" fill="#70aab2"/>
<rect x="38.27" y="507.27" width="10.63" height="10.61" fill="#80a8b8"/>
<rect x="48.30" y="507.27" width="10.63" height="10.61" fill="#80a8b8"/>
<rect x="58.33" y="507.27" width="10.63" height="10.61" fill="#80a8b8"/>
<rect x="68.37" y="507.27" width="10.63" height="10.61" fill="#7aa0b0"/>
<rect x="78.40" y="507.27" width="10.63" height="10.61" fill="#80a4b0"/>
<rect x="88.43" y="507.27" width="10.63" height="10.61" fill="#6aa8b8"/>
<rect x="98.47" y="507.27" width="10.63" height="10.61" fill="#4e8294"/>
<rect x="108.50" y="507.27" width="10.63" height="10.61" fill="#5e92a2"/>
<rect x="118.53" y="507.27" width="10.63" height="10.61" fill="#7ab0b8"/>
<rect x="128.57" y="507.27" width="10.63" height="10.61" fill="#7ab0b8"/>
<rect x="138.60" y="507.27" width="10.63" height="10.61" fill="#7ab0b8"/>
<rect x="38.27" y="517.28" width="10.63" height="10.61" fill="#88b0bc"/>
<rect x="48.30" y="517.28" width="10.63" height="10.61" fill="#88b0bc"/>
<rect x="58.33" y="517.28" width="10.63" height="10.61" fill="#88b0bc"/>
<rect x="68.37" y="517.28" width="10.63" height="10.61" fill="#88b0bc"/>
<rect x="78.40" y="517.28" width="10.63" height="10.61" fill="#98bcc4"/>
<rect x="88.43" y="517.28" width="10.63" height="10.61" fill="#b0d0d8"/>
<rect x="98.47" y="517.28" width="10.63" height="10.61" fill="#a0c8d0"/>
<rect x="108.50" y="517.28" width="10.63" height="10.61" fill="#8cbcc4"/>
<rect x="118.53" y="517.28" width="10.63" height="10.61" fill="#84b8c0"/>
<rect x="128.57" y="517.28" width="10.63" height="10.61" fill="#80b4bc"/>
<rect x="138.60" y="517.28" width="10.63" height="10.61" fill="#80b4bc"/>
<rect x="38.27" y="527.29" width="10.63" height="10.61" fill="#88b0bc"/>
<rect x="48.30" y="527.29" width="10.63" height="10.61" fill="#88b0bc"/>
<rect x="58.33" y="527.29" width="10.63" height="10.61" fill="#88b0bc"/>
<rect x="68.37" y="527.29" width="10.63" height="10.61" fill="#88b0bc"/>
<rect x="78.40" y="527.29" width="10.63" height="10.61" fill="#98b8c0"/>
<rect x="88.43" y="527.29" width="10.63" height="10.61" fill="#a8c4cc"/>
<rect x="98.47" y="527.29" width="10.63" height="10.61" fill="#98b8c0"/>
<rect x="108.50" y="527.29" width="10.63" height="10.61" fill="#88acb4"/>
<rect x="118.53" y="527.29" width="10.63" height="10.61" fill="#74949c"/>
<rect x="128.57" y="527.29" width="10.63" height="10.61" fill="#64848c"/>
<rect x="138.60" y="527.29" width="10.63" height="10.61" fill="#64848c"/>
<rect x="38.27" y="537.30" width="10.63" height="10.61" fill="#88b0bc"/>
<rect x="48.30" y="537.30" width="10.63" height="10.61" fill="#88b0bc"/>
<rect x="58.33" y="537.30" width="10.63" height="10.61" fill="#88b0bc"/>
<rect x="68.37" y="537.30" width="10.63" height="10.61" fill="#88b0bc"/>
<rect x="78.40" y="537.30" width="10.63" height="10.61" fill="#98b8c0"/>
<rect x="88.43" y="537.30" width="10.63" height="10.61" fill="#a8c4cc"/>
<rect x="98.47" y="537.30" width="10.63" height="10.61" fill="#98b8c0"/>
<rect x="108.50" y="537.30" width="10.63" height="10.61" fill="#88acb4"/>
<rect x="118.53" y="537.30" width="10.63" height="10.61" fill="#74949c"/>
<rect x="128.57" y="537.30" width="10.63" height="10.61" fill="#64848c"/>
<rect x="138.60" y="537.30" width="10.63" height="10.61" fill="#64848c"/>
</g>
<g filter="url(#b1)">
<path d="M48,446 L139,446 L139,458.2 L115,454.3 L100,452.0 L93,451.3 L48,448.6 Z" fill="#3c3228"/>
<path d="M93,452.8 L100,453.5 L115,455.8 L139,459.8" stroke="#3a80b0" stroke-width="2.6" fill="none"/>
<ellipse cx="95" cy="460" rx="2" ry="6" fill="#dde8ee"/>
</g><g filter="url(#b05)">
<path d="M100,456.8 L139,465.2" stroke="#2a3a44" stroke-width="0.9"/>
<path d="M65.5,452.2 L139,475" stroke="#243038" stroke-width="1.0"/>
<path d="M49.4,453.3 L139,491.8" stroke="#26323a" stroke-width="1.1"/>
<path d="M49.4,456.1 L139,494.5" stroke="#5a5a6a" stroke-width="0.9" stroke-dasharray="1.5,1.5"/>
<path d="M116,491 L139,501" stroke="#a05030" stroke-width="0.9" stroke-dasharray="1.5,1.5"/>
<path d="M48,466.5 L124,514.4" stroke="#28343a" stroke-width="2.6"/>
<path d="M104.9,518.6 L125.9,514.0" stroke="#28343a" stroke-width="2.8"/>
</g><g filter="url(#b1)">
<path d="M48,484.5 L97.5,538 L48,538 Z" fill="#473827"/>
<path d="M48.5,481 L98.5,535.5" stroke="#8a9ca2" stroke-width="3.2"/>
<path d="M50.5,479.5 L100.5,534" stroke="#2e3a40" stroke-width="0.8"/>
<path d="M92,526 Q100,537 114,537.6 L139,537.6 L139,530.5 Q126,535.5 112,534.5 Q100,533 92,526 Z" fill="#86989e"/>
</g></g>
<path d="M67.9,463.9 L132.2,523.8 L60.0,500.3 L118.5,477.5" fill="none" stroke="#E62E8C" stroke-width="2.1" stroke-linejoin="miter"/>
<path d="M125.4,474.2 L114.0,474.0 L117.6,482.3 Z" fill="#E62E8C"/>
<g clip-path="url(#cS)"><g filter="url(#b2)">
<rect x="39.16" y="561.84" width="9.64" height="9.66" fill="#a0a0a0"/>
<rect x="48.20" y="561.84" width="9.64" height="9.66" fill="#a0a0a0"/>
<rect x="57.24" y="561.84" width="9.64" height="9.66" fill="#b2b2b2"/>
<rect x="66.28" y="561.84" width="9.64" height="9.66" fill="#9b9b9b"/>
<rect x="75.32" y="561.84" width="9.64" height="9.66" fill="#696969"/>
<rect x="84.36" y="561.84" width="9.64" height="9.66" fill="#969696"/>
<rect x="93.40" y="561.84" width="9.64" height="9.66" fill="#afafaf"/>
<rect x="102.44" y="561.84" width="9.64" height="9.66" fill="#bcbcbc"/>
<rect x="111.48" y="561.84" width="9.64" height="9.66" fill="#c0c0c0"/>
<rect x="120.52" y="561.84" width="9.64" height="9.66" fill="#bebebe"/>
<rect x="129.56" y="561.84" width="9.64" height="9.66" fill="#a5a5a5"/>
<rect x="138.60" y="561.84" width="9.64" height="9.66" fill="#a5a5a5"/>
<rect x="39.16" y="570.90" width="9.64" height="9.66" fill="#a0a0a0"/>
<rect x="48.20" y="570.90" width="9.64" height="9.66" fill="#a0a0a0"/>
<rect x="57.24" y="570.90" width="9.64" height="9.66" fill="#b2b2b2"/>
<rect x="66.28" y="570.90" width="9.64" height="9.66" fill="#9b9b9b"/>
<rect x="75.32" y="570.90" width="9.64" height="9.66" fill="#696969"/>
<rect x="84.36" y="570.90" width="9.64" height="9.66" fill="#969696"/>
<rect x="93.40" y="570.90" width="9.64" height="9.66" fill="#afafaf"/>
<rect x="102.44" y="570.90" width="9.64" height="9.66" fill="#bcbcbc"/>
<rect x="111.48" y="570.90" width="9.64" height="9.66" fill="#c0c0c0"/>
<rect x="120.52" y="570.90" width="9.64" height="9.66" fill="#bebebe"/>
<rect x="129.56" y="570.90" width="9.64" height="9.66" fill="#a5a5a5"/>
<rect x="138.60" y="570.90" width="9.64" height="9.66" fill="#a5a5a5"/>
<rect x="39.16" y="579.96" width="9.64" height="9.66" fill="#6e6e6e"/>
<rect x="48.20" y="579.96" width="9.64" height="9.66" fill="#6e6e6e"/>
<rect x="57.24" y="579.96" width="9.64" height="9.66" fill="#b9b9b9"/>
<rect x="66.28" y="579.96" width="9.64" height="9.66" fill="#a5a5a5"/>
<rect x="75.32" y="579.96" width="9.64" height="9.66" fill="#707070"/>
<rect x="84.36" y="579.96" width="9.64" height="9.66" fill="#a0a0a0"/>
<rect x="93.40" y="579.96" width="9.64" height="9.66" fill="#b6b6b6"/>
<rect x="102.44" y="579.96" width="9.64" height="9.66" fill="#c4c4c4"/>
<rect x="111.48" y="579.96" width="9.64" height="9.66" fill="#c8c8c8"/>
<rect x="120.52" y="579.96" width="9.64" height="9.66" fill="#c4c4c4"/>
<rect x="129.56" y="579.96" width="9.64" height="9.66" fill="#a0a0a0"/>
<rect x="138.60" y="579.96" width="9.64" height="9.66" fill="#a0a0a0"/>
<rect x="39.16" y="589.02" width="9.64" height="9.66" fill="#878787"/>
<rect x="48.20" y="589.02" width="9.64" height="9.66" fill="#878787"/>
<rect x="57.24" y="589.02" width="9.64" height="9.66" fill="#696969"/>
<rect x="66.28" y="589.02" width="9.64" height="9.66" fill="#bebebe"/>
<rect x="75.32" y="589.02" width="9.64" height="9.66" fill="#a0a0a0"/>
<rect x="84.36" y="589.02" width="9.64" height="9.66" fill="#acacac"/>
<rect x="93.40" y="589.02" width="9.64" height="9.66" fill="#9e9e9e"/>
<rect x="102.44" y="589.02" width="9.64" height="9.66" fill="#b6b6b6"/>
<rect x="111.48" y="589.02" width="9.64" height="9.66" fill="#c4c4c4"/>
<rect x="120.52" y="589.02" width="9.64" height="9.66" fill="#bebebe"/>
<rect x="129.56" y="589.02" width="9.64" height="9.66" fill="#878787"/>
<rect x="138.60" y="589.02" width="9.64" height="9.66" fill="#878787"/>
<rect x="39.16" y="598.09" width="9.64" height="9.66" fill="#a8a8a8"/>
<rect x="48.20" y="598.09" width="9.64" height="9.66" fill="#a8a8a8"/>
<rect x="57.24" y="598.09" width="9.64" height="9.66" fill="#9e9e9e"/>
<rect x="66.28" y="598.09" width="9.64" height="9.66" fill="#707070"/>
<rect x="75.32" y="598.09" width="9.64" height="9.66" fill="#b9b9b9"/>
<rect x="84.36" y="598.09" width="9.64" height="9.66" fill="#b4b4b4"/>
<rect x="93.40" y="598.09" width="9.64" height="9.66" fill="#525252"/>
<rect x="102.44" y="598.09" width="9.64" height="9.66" fill="#737373"/>
<rect x="111.48" y="598.09" width="9.64" height="9.66" fill="#b2b2b2"/>
<rect x="120.52" y="598.09" width="9.64" height="9.66" fill="#b4b4b4"/>
<rect x="129.56" y="598.09" width="9.64" height="9.66" fill="#6e6e6e"/>
<rect x="138.60" y="598.09" width="9.64" height="9.66" fill="#6e6e6e"/>
<rect x="39.16" y="607.15" width="9.64" height="9.66" fill="#a8a8a8"/>
<rect x="48.20" y="607.15" width="9.64" height="9.66" fill="#a8a8a8"/>
<rect x="57.24" y="607.15" width="9.64" height="9.66" fill="#b4b4b4"/>
<rect x="66.28" y="607.15" width="9.64" height="9.66" fill="#9e9e9e"/>
<rect x="75.32" y="607.15" width="9.64" height="9.66" fill="#aaaaaa"/>
<rect x="84.36" y="607.15" width="9.64" height="9.66" fill="#7a7a7a"/>
<rect x="93.40" y="607.15" width="9.64" height="9.66" fill="#919191"/>
<rect x="102.44" y="607.15" width="9.64" height="9.66" fill="#878787"/>
<rect x="111.48" y="607.15" width="9.64" height="9.66" fill="#878787"/>
<rect x="120.52" y="607.15" width="9.64" height="9.66" fill="#505050"/>
<rect x="129.56" y="607.15" width="9.64" height="9.66" fill="#3c3c3c"/>
<rect x="138.60" y="607.15" width="9.64" height="9.66" fill="#3c3c3c"/>
<rect x="39.16" y="616.21" width="9.64" height="9.66" fill="#505050"/>
<rect x="48.20" y="616.21" width="9.64" height="9.66" fill="#505050"/>
<rect x="57.24" y="616.21" width="9.64" height="9.66" fill="#aaaaaa"/>
<rect x="66.28" y="616.21" width="9.64" height="9.66" fill="#a0a0a0"/>
<rect x="75.32" y="616.21" width="9.64" height="9.66" fill="#b4b4b4"/>
<rect x="84.36" y="616.21" width="9.64" height="9.66" fill="#aaaaaa"/>
<rect x="93.40" y="616.21" width="9.64" height="9.66" fill="#a8a8a8"/>
<rect x="102.44" y="616.21" width="9.64" height="9.66" fill="#919191"/>
<rect x="111.48" y="616.21" width="9.64" height="9.66" fill="#5a5a5a"/>
<rect x="120.52" y="616.21" width="9.64" height="9.66" fill="#464646"/>
<rect x="129.56" y="616.21" width="9.64" height="9.66" fill="#373737"/>
<rect x="138.60" y="616.21" width="9.64" height="9.66" fill="#373737"/>
<rect x="39.16" y="625.27" width="9.64" height="9.66" fill="#1e1e1e"/>
<rect x="48.20" y="625.27" width="9.64" height="9.66" fill="#1e1e1e"/>
<rect x="57.24" y="625.27" width="9.64" height="9.66" fill="#7d7d7d"/>
<rect x="66.28" y="625.27" width="9.64" height="9.66" fill="#acacac"/>
<rect x="75.32" y="625.27" width="9.64" height="9.66" fill="#aaaaaa"/>
<rect x="84.36" y="625.27" width="9.64" height="9.66" fill="#a0a0a0"/>
<rect x="93.40" y="625.27" width="9.64" height="9.66" fill="#949494"/>
<rect x="102.44" y="625.27" width="9.64" height="9.66" fill="#a5a5a5"/>
<rect x="111.48" y="625.27" width="9.64" height="9.66" fill="#6e6e6e"/>
<rect x="120.52" y="625.27" width="9.64" height="9.66" fill="#464646"/>
<rect x="129.56" y="625.27" width="9.64" height="9.66" fill="#323232"/>
<rect x="138.60" y="625.27" width="9.64" height="9.66" fill="#323232"/>
<rect x="39.16" y="634.34" width="9.64" height="9.66" fill="#191919"/>
<rect x="48.20" y="634.34" width="9.64" height="9.66" fill="#191919"/>
<rect x="57.24" y="634.34" width="9.64" height="9.66" fill="#1e1e1e"/>
<rect x="66.28" y="634.34" width="9.64" height="9.66" fill="#8a8a8a"/>
<rect x="75.32" y="634.34" width="9.64" height="9.66" fill="#a0a0a0"/>
<rect x="84.36" y="634.34" width="9.64" height="9.66" fill="#9e9e9e"/>
<rect x="93.40" y="634.34" width="9.64" height="9.66" fill="#8a8a8a"/>
<rect x="102.44" y="634.34" width="9.64" height="9.66" fill="#919191"/>
<rect x="111.48" y="634.34" width="9.64" height="9.66" fill="#787878"/>
<rect x="120.52" y="634.34" width="9.64" height="9.66" fill="#505050"/>
<rect x="129.56" y="634.34" width="9.64" height="9.66" fill="#323232"/>
<rect x="138.60" y="634.34" width="9.64" height="9.66" fill="#323232"/>
<rect x="39.16" y="643.40" width="9.64" height="9.66" fill="#191919"/>
<rect x="48.20" y="643.40" width="9.64" height="9.66" fill="#191919"/>
<rect x="57.24" y="643.40" width="9.64" height="9.66" fill="#1e1e1e"/>
<rect x="66.28" y="643.40" width="9.64" height="9.66" fill="#8a8a8a"/>
<rect x="75.32" y="643.40" width="9.64" height="9.66" fill="#a0a0a0"/>
<rect x="84.36" y="643.40" width="9.64" height="9.66" fill="#9e9e9e"/>
<rect x="93.40" y="643.40" width="9.64" height="9.66" fill="#8a8a8a"/>
<rect x="102.44" y="643.40" width="9.64" height="9.66" fill="#919191"/>
<rect x="111.48" y="643.40" width="9.64" height="9.66" fill="#787878"/>
<rect x="120.52" y="643.40" width="9.64" height="9.66" fill="#505050"/>
<rect x="129.56" y="643.40" width="9.64" height="9.66" fill="#323232"/>
<rect x="138.60" y="643.40" width="9.64" height="9.66" fill="#323232"/>
</g>
<g filter="url(#b1)">
<path d="M49,583 Q56,592 68,598" stroke="#5a5a5a" stroke-width="2.2" fill="none"/>
<path d="M78.5,571 L79.2,589" stroke="#4a4a4a" stroke-width="2.4"/>
<ellipse cx="93" cy="608" rx="2.5" ry="4" fill="#2a2a2a"/>
<path d="M48,619 Q56,630 64,643 L48,643 Z" fill="#141414"/>
<path d="M55,644 Q66,637 78,644 Z" fill="#1a1a1a"/>
<path d="M48.5,571 L48.5,643" stroke="#555" stroke-width="1"/>
<path d="M137.6,575 L137.6,643" stroke="#2a2a2a" stroke-width="2"/>
</g></g>
<path d="M114.2,608.6 L120.6,607.8 Q122.6,608.5 121.9,611.8 L121.2,615.6 L118.0,615.4 L117.6,612.4 L114.0,611.6 Z" fill="#ee2a90"/>
<path d="M87.6,581.9 L99.5,594.0" stroke="#fff" stroke-width="2.2"/>
<path d="M109.8,604.8 L93.2,597.0 L102.9,587.4 Z" fill="#fff"/>
</svg>
</body></html>
